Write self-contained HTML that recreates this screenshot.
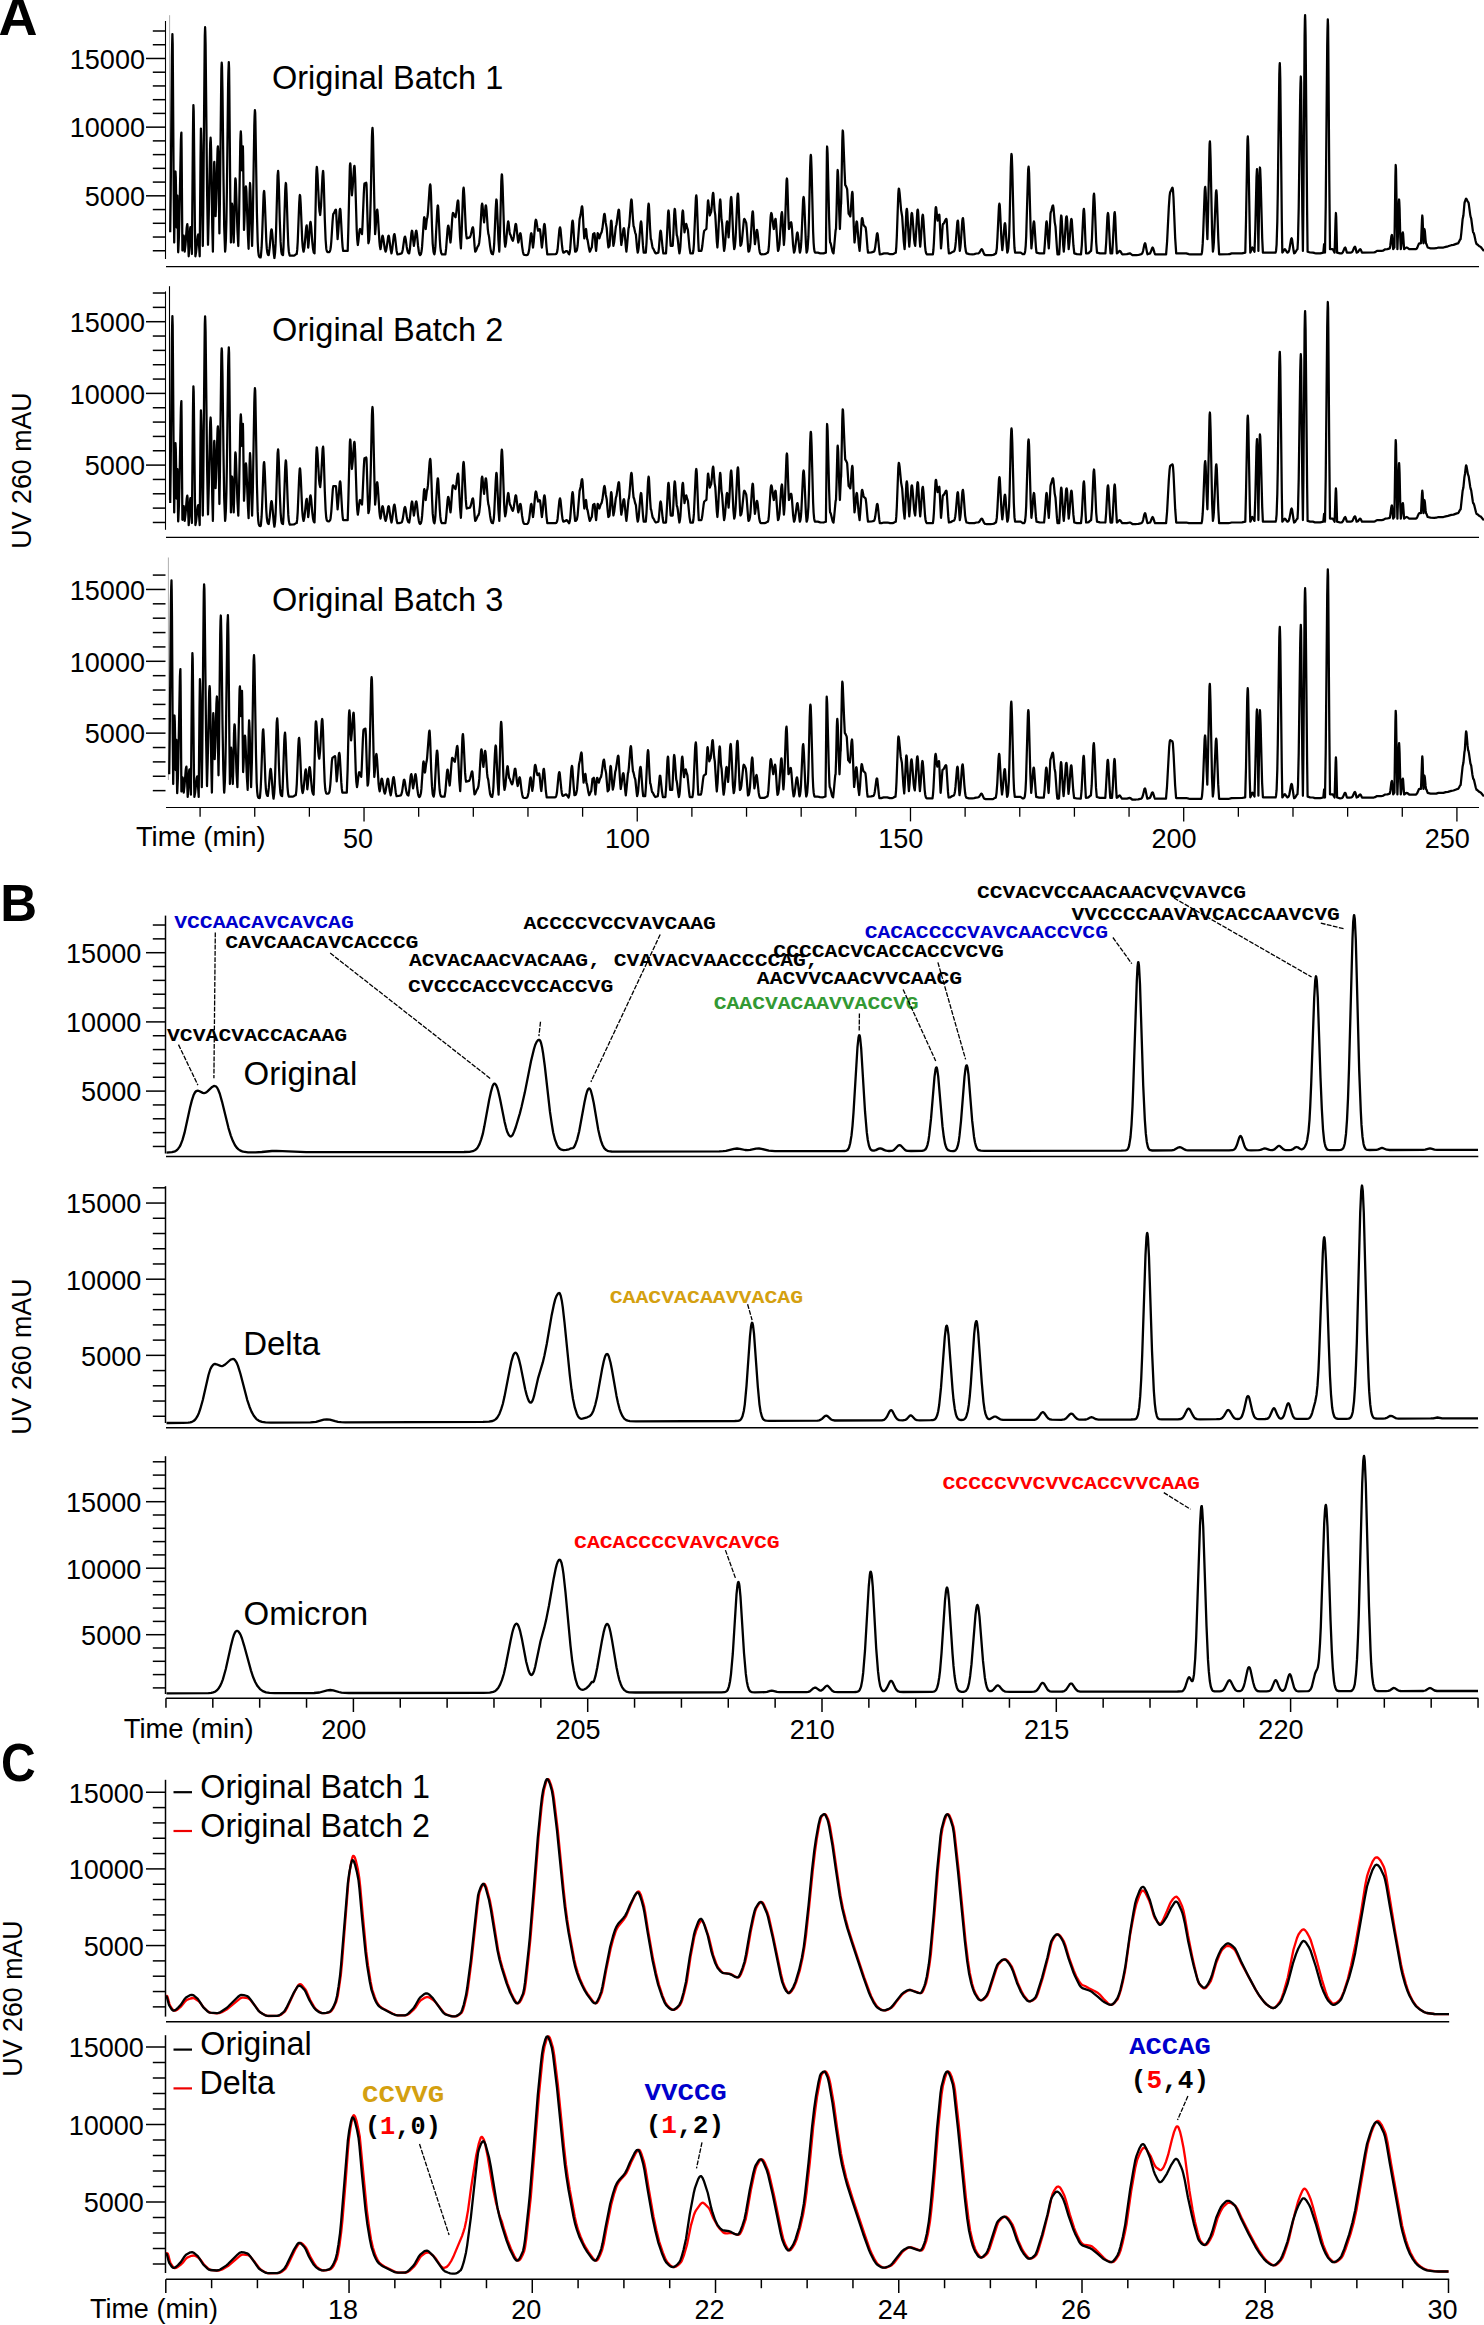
<!DOCTYPE html>
<html><head><meta charset="utf-8"><style>
html,body{margin:0;padding:0;background:#fff;}
svg{display:block;}
</style></head><body>
<svg width="1484" height="2325" viewBox="0 0 1484 2325">
<rect width="1484" height="2325" fill="#fff"/>
<text x="-1.5" y="34.8" font-size="54" text-anchor="start" font-weight="bold" fill="#000" font-family='"Liberation Sans", sans-serif' >A</text><line x1="165.50" y1="21.00" x2="165.50" y2="259.00" stroke="#000" stroke-width="1.1" /><line x1="152.80" y1="250.76" x2="165.50" y2="250.76" stroke="#000" stroke-width="1.5" /><line x1="152.80" y1="237.03" x2="165.50" y2="237.03" stroke="#000" stroke-width="1.5" /><line x1="152.80" y1="223.29" x2="165.50" y2="223.29" stroke="#000" stroke-width="1.5" /><line x1="152.80" y1="209.56" x2="165.50" y2="209.56" stroke="#000" stroke-width="1.5" /><line x1="146.00" y1="195.82" x2="165.50" y2="195.82" stroke="#000" stroke-width="1.5" /><line x1="152.80" y1="182.09" x2="165.50" y2="182.09" stroke="#000" stroke-width="1.5" /><line x1="152.80" y1="168.35" x2="165.50" y2="168.35" stroke="#000" stroke-width="1.5" /><line x1="152.80" y1="154.62" x2="165.50" y2="154.62" stroke="#000" stroke-width="1.5" /><line x1="152.80" y1="140.88" x2="165.50" y2="140.88" stroke="#000" stroke-width="1.5" /><line x1="146.00" y1="127.15" x2="165.50" y2="127.15" stroke="#000" stroke-width="1.5" /><line x1="152.80" y1="113.41" x2="165.50" y2="113.41" stroke="#000" stroke-width="1.5" /><line x1="152.80" y1="99.68" x2="165.50" y2="99.68" stroke="#000" stroke-width="1.5" /><line x1="152.80" y1="85.94" x2="165.50" y2="85.94" stroke="#000" stroke-width="1.5" /><line x1="152.80" y1="72.21" x2="165.50" y2="72.21" stroke="#000" stroke-width="1.5" /><line x1="146.00" y1="58.47" x2="165.50" y2="58.47" stroke="#000" stroke-width="1.5" /><line x1="152.80" y1="44.74" x2="165.50" y2="44.74" stroke="#000" stroke-width="1.5" /><line x1="152.80" y1="31.00" x2="165.50" y2="31.00" stroke="#000" stroke-width="1.5" /><text transform="translate(145.00,206.12) scale(0.95,1)" font-size="28.5" text-anchor="end" font-family='"Liberation Sans", sans-serif'>5000</text><text transform="translate(145.00,137.45) scale(0.95,1)" font-size="28.5" text-anchor="end" font-family='"Liberation Sans", sans-serif'>10000</text><text transform="translate(145.00,68.77) scale(0.95,1)" font-size="28.5" text-anchor="end" font-family='"Liberation Sans", sans-serif'>15000</text><line x1="166.00" y1="266.70" x2="1479.00" y2="266.70" stroke="#000" stroke-width="1.2000000000000002" /><line x1="165.50" y1="291.40" x2="165.50" y2="529.80" stroke="#000" stroke-width="1.1" /><line x1="152.80" y1="522.46" x2="165.50" y2="522.46" stroke="#000" stroke-width="1.5" /><line x1="152.80" y1="508.12" x2="165.50" y2="508.12" stroke="#000" stroke-width="1.5" /><line x1="152.80" y1="493.78" x2="165.50" y2="493.78" stroke="#000" stroke-width="1.5" /><line x1="152.80" y1="479.44" x2="165.50" y2="479.44" stroke="#000" stroke-width="1.5" /><line x1="146.00" y1="465.10" x2="165.50" y2="465.10" stroke="#000" stroke-width="1.5" /><line x1="152.80" y1="450.76" x2="165.50" y2="450.76" stroke="#000" stroke-width="1.5" /><line x1="152.80" y1="436.42" x2="165.50" y2="436.42" stroke="#000" stroke-width="1.5" /><line x1="152.80" y1="422.08" x2="165.50" y2="422.08" stroke="#000" stroke-width="1.5" /><line x1="152.80" y1="407.74" x2="165.50" y2="407.74" stroke="#000" stroke-width="1.5" /><line x1="146.00" y1="393.40" x2="165.50" y2="393.40" stroke="#000" stroke-width="1.5" /><line x1="152.80" y1="379.06" x2="165.50" y2="379.06" stroke="#000" stroke-width="1.5" /><line x1="152.80" y1="364.72" x2="165.50" y2="364.72" stroke="#000" stroke-width="1.5" /><line x1="152.80" y1="350.38" x2="165.50" y2="350.38" stroke="#000" stroke-width="1.5" /><line x1="152.80" y1="336.04" x2="165.50" y2="336.04" stroke="#000" stroke-width="1.5" /><line x1="146.00" y1="321.70" x2="165.50" y2="321.70" stroke="#000" stroke-width="1.5" /><line x1="152.80" y1="307.36" x2="165.50" y2="307.36" stroke="#000" stroke-width="1.5" /><line x1="152.80" y1="293.02" x2="165.50" y2="293.02" stroke="#000" stroke-width="1.5" /><text transform="translate(145.00,475.40) scale(0.95,1)" font-size="28.5" text-anchor="end" font-family='"Liberation Sans", sans-serif'>5000</text><text transform="translate(145.00,403.70) scale(0.95,1)" font-size="28.5" text-anchor="end" font-family='"Liberation Sans", sans-serif'>10000</text><text transform="translate(145.00,332.00) scale(0.95,1)" font-size="28.5" text-anchor="end" font-family='"Liberation Sans", sans-serif'>15000</text><line x1="166.00" y1="537.40" x2="1479.00" y2="537.40" stroke="#000" stroke-width="1.2000000000000002" /><line x1="152.80" y1="790.63" x2="165.50" y2="790.63" stroke="#000" stroke-width="1.5" /><line x1="152.80" y1="776.26" x2="165.50" y2="776.26" stroke="#000" stroke-width="1.5" /><line x1="152.80" y1="761.89" x2="165.50" y2="761.89" stroke="#000" stroke-width="1.5" /><line x1="152.80" y1="747.52" x2="165.50" y2="747.52" stroke="#000" stroke-width="1.5" /><line x1="146.00" y1="733.15" x2="165.50" y2="733.15" stroke="#000" stroke-width="1.5" /><line x1="152.80" y1="718.78" x2="165.50" y2="718.78" stroke="#000" stroke-width="1.5" /><line x1="152.80" y1="704.41" x2="165.50" y2="704.41" stroke="#000" stroke-width="1.5" /><line x1="152.80" y1="690.04" x2="165.50" y2="690.04" stroke="#000" stroke-width="1.5" /><line x1="152.80" y1="675.67" x2="165.50" y2="675.67" stroke="#000" stroke-width="1.5" /><line x1="146.00" y1="661.30" x2="165.50" y2="661.30" stroke="#000" stroke-width="1.5" /><line x1="152.80" y1="646.93" x2="165.50" y2="646.93" stroke="#000" stroke-width="1.5" /><line x1="152.80" y1="632.56" x2="165.50" y2="632.56" stroke="#000" stroke-width="1.5" /><line x1="152.80" y1="618.19" x2="165.50" y2="618.19" stroke="#000" stroke-width="1.5" /><line x1="152.80" y1="603.82" x2="165.50" y2="603.82" stroke="#000" stroke-width="1.5" /><line x1="146.00" y1="589.45" x2="165.50" y2="589.45" stroke="#000" stroke-width="1.5" /><line x1="152.80" y1="575.08" x2="165.50" y2="575.08" stroke="#000" stroke-width="1.5" /><text transform="translate(145.00,743.45) scale(0.95,1)" font-size="28.5" text-anchor="end" font-family='"Liberation Sans", sans-serif'>5000</text><text transform="translate(145.00,671.60) scale(0.95,1)" font-size="28.5" text-anchor="end" font-family='"Liberation Sans", sans-serif'>10000</text><text transform="translate(145.00,599.75) scale(0.95,1)" font-size="28.5" text-anchor="end" font-family='"Liberation Sans", sans-serif'>15000</text><line x1="166.00" y1="807.50" x2="1479.00" y2="807.50" stroke="#000" stroke-width="1.2000000000000002" /><text x="272.0" y="89.3" font-size="32.5" text-anchor="start" font-weight="normal" fill="#000" font-family='"Liberation Sans", sans-serif' >Original Batch 1</text><text x="272.0" y="341.3" font-size="32.5" text-anchor="start" font-weight="normal" fill="#000" font-family='"Liberation Sans", sans-serif' >Original Batch 2</text><text x="272.0" y="611.2" font-size="32.5" text-anchor="start" font-weight="normal" fill="#000" font-family='"Liberation Sans", sans-serif' >Original Batch 3</text><text x="0" y="0" font-size="26.8" text-anchor="middle" font-family='"Liberation Sans", sans-serif' transform="translate(31.0,470.5) rotate(-90)">UV 260 mAU</text><line x1="200.09" y1="807.50" x2="200.09" y2="816.70" stroke="#000" stroke-width="1.3" /><line x1="254.74" y1="807.50" x2="254.74" y2="816.70" stroke="#000" stroke-width="1.3" /><line x1="309.38" y1="807.50" x2="309.38" y2="816.70" stroke="#000" stroke-width="1.3" /><line x1="364.03" y1="807.50" x2="364.03" y2="821.40" stroke="#000" stroke-width="1.3" /><line x1="418.67" y1="807.50" x2="418.67" y2="816.70" stroke="#000" stroke-width="1.3" /><line x1="473.31" y1="807.50" x2="473.31" y2="816.70" stroke="#000" stroke-width="1.3" /><line x1="527.96" y1="807.50" x2="527.96" y2="816.70" stroke="#000" stroke-width="1.3" /><line x1="582.61" y1="807.50" x2="582.61" y2="816.70" stroke="#000" stroke-width="1.3" /><line x1="637.25" y1="807.50" x2="637.25" y2="821.40" stroke="#000" stroke-width="1.3" /><line x1="691.89" y1="807.50" x2="691.89" y2="816.70" stroke="#000" stroke-width="1.3" /><line x1="746.54" y1="807.50" x2="746.54" y2="816.70" stroke="#000" stroke-width="1.3" /><line x1="801.18" y1="807.50" x2="801.18" y2="816.70" stroke="#000" stroke-width="1.3" /><line x1="855.83" y1="807.50" x2="855.83" y2="816.70" stroke="#000" stroke-width="1.3" /><line x1="910.48" y1="807.50" x2="910.48" y2="821.40" stroke="#000" stroke-width="1.3" /><line x1="965.12" y1="807.50" x2="965.12" y2="816.70" stroke="#000" stroke-width="1.3" /><line x1="1019.76" y1="807.50" x2="1019.76" y2="816.70" stroke="#000" stroke-width="1.3" /><line x1="1074.41" y1="807.50" x2="1074.41" y2="816.70" stroke="#000" stroke-width="1.3" /><line x1="1129.06" y1="807.50" x2="1129.06" y2="816.70" stroke="#000" stroke-width="1.3" /><line x1="1183.70" y1="807.50" x2="1183.70" y2="821.40" stroke="#000" stroke-width="1.3" /><line x1="1238.35" y1="807.50" x2="1238.35" y2="816.70" stroke="#000" stroke-width="1.3" /><line x1="1292.99" y1="807.50" x2="1292.99" y2="816.70" stroke="#000" stroke-width="1.3" /><line x1="1347.63" y1="807.50" x2="1347.63" y2="816.70" stroke="#000" stroke-width="1.3" /><line x1="1402.28" y1="807.50" x2="1402.28" y2="816.70" stroke="#000" stroke-width="1.3" /><line x1="1456.92" y1="807.50" x2="1456.92" y2="821.40" stroke="#000" stroke-width="1.3" /><text transform="translate(358.03,848.30) scale(0.95,1)" font-size="28.5" text-anchor="middle" font-family='"Liberation Sans", sans-serif'>50</text><text transform="translate(627.55,848.30) scale(0.95,1)" font-size="28.5" text-anchor="middle" font-family='"Liberation Sans", sans-serif'>100</text><text transform="translate(900.77,848.30) scale(0.95,1)" font-size="28.5" text-anchor="middle" font-family='"Liberation Sans", sans-serif'>150</text><text transform="translate(1174.00,848.30) scale(0.95,1)" font-size="28.5" text-anchor="middle" font-family='"Liberation Sans", sans-serif'>200</text><text transform="translate(1447.22,848.30) scale(0.95,1)" font-size="28.5" text-anchor="middle" font-family='"Liberation Sans", sans-serif'>250</text><text x="135.9" y="846.0" font-size="27.4" text-anchor="start" font-weight="normal" fill="#000" font-family='"Liberation Sans", sans-serif' >Time (min)</text><text x="0.3" y="920.9" font-size="51" text-anchor="start" font-weight="bold" fill="#000" font-family='"Liberation Sans", sans-serif' >B</text><line x1="165.50" y1="915.60" x2="165.50" y2="1153.50" stroke="#000" stroke-width="1.5" /><line x1="152.80" y1="1146.46" x2="165.50" y2="1146.46" stroke="#000" stroke-width="1.5" /><line x1="152.80" y1="1132.62" x2="165.50" y2="1132.62" stroke="#000" stroke-width="1.5" /><line x1="152.80" y1="1118.78" x2="165.50" y2="1118.78" stroke="#000" stroke-width="1.5" /><line x1="152.80" y1="1104.94" x2="165.50" y2="1104.94" stroke="#000" stroke-width="1.5" /><line x1="146.00" y1="1091.10" x2="165.50" y2="1091.10" stroke="#000" stroke-width="1.5" /><line x1="152.80" y1="1077.26" x2="165.50" y2="1077.26" stroke="#000" stroke-width="1.5" /><line x1="152.80" y1="1063.42" x2="165.50" y2="1063.42" stroke="#000" stroke-width="1.5" /><line x1="152.80" y1="1049.58" x2="165.50" y2="1049.58" stroke="#000" stroke-width="1.5" /><line x1="152.80" y1="1035.74" x2="165.50" y2="1035.74" stroke="#000" stroke-width="1.5" /><line x1="146.00" y1="1021.90" x2="165.50" y2="1021.90" stroke="#000" stroke-width="1.5" /><line x1="152.80" y1="1008.06" x2="165.50" y2="1008.06" stroke="#000" stroke-width="1.5" /><line x1="152.80" y1="994.22" x2="165.50" y2="994.22" stroke="#000" stroke-width="1.5" /><line x1="152.80" y1="980.38" x2="165.50" y2="980.38" stroke="#000" stroke-width="1.5" /><line x1="152.80" y1="966.54" x2="165.50" y2="966.54" stroke="#000" stroke-width="1.5" /><line x1="146.00" y1="952.70" x2="165.50" y2="952.70" stroke="#000" stroke-width="1.5" /><line x1="152.80" y1="938.86" x2="165.50" y2="938.86" stroke="#000" stroke-width="1.5" /><line x1="152.80" y1="925.02" x2="165.50" y2="925.02" stroke="#000" stroke-width="1.5" /><text transform="translate(141.30,1101.40) scale(0.95,1)" font-size="28.5" text-anchor="end" font-family='"Liberation Sans", sans-serif'>5000</text><text transform="translate(141.30,1032.20) scale(0.95,1)" font-size="28.5" text-anchor="end" font-family='"Liberation Sans", sans-serif'>10000</text><text transform="translate(141.30,963.00) scale(0.95,1)" font-size="28.5" text-anchor="end" font-family='"Liberation Sans", sans-serif'>15000</text><line x1="166.00" y1="1156.50" x2="1478.30" y2="1156.50" stroke="#000" stroke-width="1.6" /><line x1="165.50" y1="1186.20" x2="165.50" y2="1423.00" stroke="#000" stroke-width="1.5" /><line x1="152.80" y1="1416.27" x2="165.50" y2="1416.27" stroke="#000" stroke-width="1.5" /><line x1="152.80" y1="1401.04" x2="165.50" y2="1401.04" stroke="#000" stroke-width="1.5" /><line x1="152.80" y1="1385.81" x2="165.50" y2="1385.81" stroke="#000" stroke-width="1.5" /><line x1="152.80" y1="1370.58" x2="165.50" y2="1370.58" stroke="#000" stroke-width="1.5" /><line x1="146.00" y1="1355.35" x2="165.50" y2="1355.35" stroke="#000" stroke-width="1.5" /><line x1="152.80" y1="1340.12" x2="165.50" y2="1340.12" stroke="#000" stroke-width="1.5" /><line x1="152.80" y1="1324.89" x2="165.50" y2="1324.89" stroke="#000" stroke-width="1.5" /><line x1="152.80" y1="1309.66" x2="165.50" y2="1309.66" stroke="#000" stroke-width="1.5" /><line x1="152.80" y1="1294.43" x2="165.50" y2="1294.43" stroke="#000" stroke-width="1.5" /><line x1="146.00" y1="1279.20" x2="165.50" y2="1279.20" stroke="#000" stroke-width="1.5" /><line x1="152.80" y1="1263.97" x2="165.50" y2="1263.97" stroke="#000" stroke-width="1.5" /><line x1="152.80" y1="1248.74" x2="165.50" y2="1248.74" stroke="#000" stroke-width="1.5" /><line x1="152.80" y1="1233.51" x2="165.50" y2="1233.51" stroke="#000" stroke-width="1.5" /><line x1="152.80" y1="1218.28" x2="165.50" y2="1218.28" stroke="#000" stroke-width="1.5" /><line x1="146.00" y1="1203.05" x2="165.50" y2="1203.05" stroke="#000" stroke-width="1.5" /><line x1="152.80" y1="1187.82" x2="165.50" y2="1187.82" stroke="#000" stroke-width="1.5" /><text transform="translate(141.30,1365.65) scale(0.95,1)" font-size="28.5" text-anchor="end" font-family='"Liberation Sans", sans-serif'>5000</text><text transform="translate(141.30,1289.50) scale(0.95,1)" font-size="28.5" text-anchor="end" font-family='"Liberation Sans", sans-serif'>10000</text><text transform="translate(141.30,1213.35) scale(0.95,1)" font-size="28.5" text-anchor="end" font-family='"Liberation Sans", sans-serif'>15000</text><line x1="166.00" y1="1427.80" x2="1478.30" y2="1427.80" stroke="#000" stroke-width="1.6" /><line x1="165.50" y1="1456.20" x2="165.50" y2="1694.00" stroke="#000" stroke-width="1.5" /><line x1="152.80" y1="1687.90" x2="165.50" y2="1687.90" stroke="#000" stroke-width="1.5" /><line x1="152.80" y1="1674.60" x2="165.50" y2="1674.60" stroke="#000" stroke-width="1.5" /><line x1="152.80" y1="1661.30" x2="165.50" y2="1661.30" stroke="#000" stroke-width="1.5" /><line x1="152.80" y1="1648.00" x2="165.50" y2="1648.00" stroke="#000" stroke-width="1.5" /><line x1="146.00" y1="1634.70" x2="165.50" y2="1634.70" stroke="#000" stroke-width="1.5" /><line x1="152.80" y1="1621.40" x2="165.50" y2="1621.40" stroke="#000" stroke-width="1.5" /><line x1="152.80" y1="1608.10" x2="165.50" y2="1608.10" stroke="#000" stroke-width="1.5" /><line x1="152.80" y1="1594.80" x2="165.50" y2="1594.80" stroke="#000" stroke-width="1.5" /><line x1="152.80" y1="1581.50" x2="165.50" y2="1581.50" stroke="#000" stroke-width="1.5" /><line x1="146.00" y1="1568.20" x2="165.50" y2="1568.20" stroke="#000" stroke-width="1.5" /><line x1="152.80" y1="1554.90" x2="165.50" y2="1554.90" stroke="#000" stroke-width="1.5" /><line x1="152.80" y1="1541.60" x2="165.50" y2="1541.60" stroke="#000" stroke-width="1.5" /><line x1="152.80" y1="1528.30" x2="165.50" y2="1528.30" stroke="#000" stroke-width="1.5" /><line x1="152.80" y1="1515.00" x2="165.50" y2="1515.00" stroke="#000" stroke-width="1.5" /><line x1="146.00" y1="1501.70" x2="165.50" y2="1501.70" stroke="#000" stroke-width="1.5" /><line x1="152.80" y1="1488.40" x2="165.50" y2="1488.40" stroke="#000" stroke-width="1.5" /><line x1="152.80" y1="1475.10" x2="165.50" y2="1475.10" stroke="#000" stroke-width="1.5" /><line x1="152.80" y1="1461.80" x2="165.50" y2="1461.80" stroke="#000" stroke-width="1.5" /><text transform="translate(141.30,1645.00) scale(0.95,1)" font-size="28.5" text-anchor="end" font-family='"Liberation Sans", sans-serif'>5000</text><text transform="translate(141.30,1578.50) scale(0.95,1)" font-size="28.5" text-anchor="end" font-family='"Liberation Sans", sans-serif'>10000</text><text transform="translate(141.30,1512.00) scale(0.95,1)" font-size="28.5" text-anchor="end" font-family='"Liberation Sans", sans-serif'>15000</text><line x1="166.00" y1="1698.30" x2="1478.30" y2="1698.30" stroke="#000" stroke-width="1.6" /><text x="243.5" y="1085.1" font-size="33" text-anchor="start" font-weight="normal" fill="#000" font-family='"Liberation Sans", sans-serif' >Original</text><text x="243.2" y="1354.6" font-size="33" text-anchor="start" font-weight="normal" fill="#000" font-family='"Liberation Sans", sans-serif' >Delta</text><text x="243.5" y="1625.3" font-size="33" text-anchor="start" font-weight="normal" fill="#000" font-family='"Liberation Sans", sans-serif' >Omicron</text><text x="0" y="0" font-size="26.8" text-anchor="middle" font-family='"Liberation Sans", sans-serif' transform="translate(31.0,1356.6) rotate(-90)">UV 260 mAU</text><line x1="165.96" y1="1698.30" x2="165.96" y2="1707.70" stroke="#000" stroke-width="1.5" /><line x1="212.82" y1="1698.30" x2="212.82" y2="1707.70" stroke="#000" stroke-width="1.5" /><line x1="259.68" y1="1698.30" x2="259.68" y2="1707.70" stroke="#000" stroke-width="1.5" /><line x1="306.54" y1="1698.30" x2="306.54" y2="1707.70" stroke="#000" stroke-width="1.5" /><line x1="353.40" y1="1698.30" x2="353.40" y2="1712.00" stroke="#000" stroke-width="1.5" /><line x1="400.26" y1="1698.30" x2="400.26" y2="1707.70" stroke="#000" stroke-width="1.5" /><line x1="447.12" y1="1698.30" x2="447.12" y2="1707.70" stroke="#000" stroke-width="1.5" /><line x1="493.98" y1="1698.30" x2="493.98" y2="1707.70" stroke="#000" stroke-width="1.5" /><line x1="540.84" y1="1698.30" x2="540.84" y2="1707.70" stroke="#000" stroke-width="1.5" /><line x1="587.70" y1="1698.30" x2="587.70" y2="1712.00" stroke="#000" stroke-width="1.5" /><line x1="634.56" y1="1698.30" x2="634.56" y2="1707.70" stroke="#000" stroke-width="1.5" /><line x1="681.42" y1="1698.30" x2="681.42" y2="1707.70" stroke="#000" stroke-width="1.5" /><line x1="728.28" y1="1698.30" x2="728.28" y2="1707.70" stroke="#000" stroke-width="1.5" /><line x1="775.14" y1="1698.30" x2="775.14" y2="1707.70" stroke="#000" stroke-width="1.5" /><line x1="822.00" y1="1698.30" x2="822.00" y2="1712.00" stroke="#000" stroke-width="1.5" /><line x1="868.86" y1="1698.30" x2="868.86" y2="1707.70" stroke="#000" stroke-width="1.5" /><line x1="915.72" y1="1698.30" x2="915.72" y2="1707.70" stroke="#000" stroke-width="1.5" /><line x1="962.58" y1="1698.30" x2="962.58" y2="1707.70" stroke="#000" stroke-width="1.5" /><line x1="1009.44" y1="1698.30" x2="1009.44" y2="1707.70" stroke="#000" stroke-width="1.5" /><line x1="1056.30" y1="1698.30" x2="1056.30" y2="1712.00" stroke="#000" stroke-width="1.5" /><line x1="1103.16" y1="1698.30" x2="1103.16" y2="1707.70" stroke="#000" stroke-width="1.5" /><line x1="1150.02" y1="1698.30" x2="1150.02" y2="1707.70" stroke="#000" stroke-width="1.5" /><line x1="1196.88" y1="1698.30" x2="1196.88" y2="1707.70" stroke="#000" stroke-width="1.5" /><line x1="1243.74" y1="1698.30" x2="1243.74" y2="1707.70" stroke="#000" stroke-width="1.5" /><line x1="1290.60" y1="1698.30" x2="1290.60" y2="1712.00" stroke="#000" stroke-width="1.5" /><line x1="1337.46" y1="1698.30" x2="1337.46" y2="1707.70" stroke="#000" stroke-width="1.5" /><line x1="1384.32" y1="1698.30" x2="1384.32" y2="1707.70" stroke="#000" stroke-width="1.5" /><line x1="1431.18" y1="1698.30" x2="1431.18" y2="1707.70" stroke="#000" stroke-width="1.5" /><line x1="1478.04" y1="1698.30" x2="1478.04" y2="1707.70" stroke="#000" stroke-width="1.5" /><text transform="translate(343.70,1738.50) scale(0.95,1)" font-size="28.5" text-anchor="middle" font-family='"Liberation Sans", sans-serif'>200</text><text transform="translate(578.00,1738.50) scale(0.95,1)" font-size="28.5" text-anchor="middle" font-family='"Liberation Sans", sans-serif'>205</text><text transform="translate(812.30,1738.50) scale(0.95,1)" font-size="28.5" text-anchor="middle" font-family='"Liberation Sans", sans-serif'>210</text><text transform="translate(1046.60,1738.50) scale(0.95,1)" font-size="28.5" text-anchor="middle" font-family='"Liberation Sans", sans-serif'>215</text><text transform="translate(1280.90,1738.50) scale(0.95,1)" font-size="28.5" text-anchor="middle" font-family='"Liberation Sans", sans-serif'>220</text><text x="123.7" y="1738.2" font-size="27.4" text-anchor="start" font-weight="normal" fill="#000" font-family='"Liberation Sans", sans-serif' >Time (min)</text><text transform="translate(1.1,1781.3) scale(0.89,1)" font-size="54" font-weight="bold" font-family='"Liberation Sans", sans-serif'>C</text><line x1="165.50" y1="1779.80" x2="165.50" y2="2016.60" stroke="#000" stroke-width="1.5" /><line x1="152.80" y1="2006.87" x2="165.50" y2="2006.87" stroke="#000" stroke-width="1.5" /><line x1="152.80" y1="1991.54" x2="165.50" y2="1991.54" stroke="#000" stroke-width="1.5" /><line x1="152.80" y1="1976.21" x2="165.50" y2="1976.21" stroke="#000" stroke-width="1.5" /><line x1="152.80" y1="1960.88" x2="165.50" y2="1960.88" stroke="#000" stroke-width="1.5" /><line x1="146.00" y1="1945.55" x2="165.50" y2="1945.55" stroke="#000" stroke-width="1.5" /><line x1="152.80" y1="1930.22" x2="165.50" y2="1930.22" stroke="#000" stroke-width="1.5" /><line x1="152.80" y1="1914.89" x2="165.50" y2="1914.89" stroke="#000" stroke-width="1.5" /><line x1="152.80" y1="1899.56" x2="165.50" y2="1899.56" stroke="#000" stroke-width="1.5" /><line x1="152.80" y1="1884.23" x2="165.50" y2="1884.23" stroke="#000" stroke-width="1.5" /><line x1="146.00" y1="1868.90" x2="165.50" y2="1868.90" stroke="#000" stroke-width="1.5" /><line x1="152.80" y1="1853.57" x2="165.50" y2="1853.57" stroke="#000" stroke-width="1.5" /><line x1="152.80" y1="1838.24" x2="165.50" y2="1838.24" stroke="#000" stroke-width="1.5" /><line x1="152.80" y1="1822.91" x2="165.50" y2="1822.91" stroke="#000" stroke-width="1.5" /><line x1="152.80" y1="1807.58" x2="165.50" y2="1807.58" stroke="#000" stroke-width="1.5" /><line x1="146.00" y1="1792.25" x2="165.50" y2="1792.25" stroke="#000" stroke-width="1.5" /><text transform="translate(143.90,1955.85) scale(0.95,1)" font-size="28.5" text-anchor="end" font-family='"Liberation Sans", sans-serif'>5000</text><text transform="translate(143.90,1879.20) scale(0.95,1)" font-size="28.5" text-anchor="end" font-family='"Liberation Sans", sans-serif'>10000</text><text transform="translate(143.90,1802.55) scale(0.95,1)" font-size="28.5" text-anchor="end" font-family='"Liberation Sans", sans-serif'>15000</text><line x1="166.00" y1="2021.70" x2="1449.20" y2="2021.70" stroke="#000" stroke-width="1.6" /><line x1="165.50" y1="2035.20" x2="165.50" y2="2273.00" stroke="#000" stroke-width="1.5" /><line x1="152.80" y1="2264.00" x2="165.50" y2="2264.00" stroke="#000" stroke-width="1.5" /><line x1="152.80" y1="2248.50" x2="165.50" y2="2248.50" stroke="#000" stroke-width="1.5" /><line x1="152.80" y1="2233.00" x2="165.50" y2="2233.00" stroke="#000" stroke-width="1.5" /><line x1="152.80" y1="2217.50" x2="165.50" y2="2217.50" stroke="#000" stroke-width="1.5" /><line x1="146.00" y1="2202.00" x2="165.50" y2="2202.00" stroke="#000" stroke-width="1.5" /><line x1="152.80" y1="2186.50" x2="165.50" y2="2186.50" stroke="#000" stroke-width="1.5" /><line x1="152.80" y1="2171.00" x2="165.50" y2="2171.00" stroke="#000" stroke-width="1.5" /><line x1="152.80" y1="2155.50" x2="165.50" y2="2155.50" stroke="#000" stroke-width="1.5" /><line x1="152.80" y1="2140.00" x2="165.50" y2="2140.00" stroke="#000" stroke-width="1.5" /><line x1="146.00" y1="2124.50" x2="165.50" y2="2124.50" stroke="#000" stroke-width="1.5" /><line x1="152.80" y1="2109.00" x2="165.50" y2="2109.00" stroke="#000" stroke-width="1.5" /><line x1="152.80" y1="2093.50" x2="165.50" y2="2093.50" stroke="#000" stroke-width="1.5" /><line x1="152.80" y1="2078.00" x2="165.50" y2="2078.00" stroke="#000" stroke-width="1.5" /><line x1="152.80" y1="2062.50" x2="165.50" y2="2062.50" stroke="#000" stroke-width="1.5" /><line x1="146.00" y1="2047.00" x2="165.50" y2="2047.00" stroke="#000" stroke-width="1.5" /><text transform="translate(143.90,2212.30) scale(0.95,1)" font-size="28.5" text-anchor="end" font-family='"Liberation Sans", sans-serif'>5000</text><text transform="translate(143.90,2134.80) scale(0.95,1)" font-size="28.5" text-anchor="end" font-family='"Liberation Sans", sans-serif'>10000</text><text transform="translate(143.90,2057.30) scale(0.95,1)" font-size="28.5" text-anchor="end" font-family='"Liberation Sans", sans-serif'>15000</text><line x1="166.00" y1="2279.20" x2="1449.20" y2="2279.20" stroke="#000" stroke-width="1.6" /><text x="0" y="0" font-size="26.8" text-anchor="middle" font-family='"Liberation Sans", sans-serif' transform="translate(22.0,1998.5) rotate(-90)">UV 260 mAU</text><line x1="165.80" y1="2279.20" x2="165.80" y2="2293.00" stroke="#000" stroke-width="1.5" /><line x1="211.61" y1="2279.20" x2="211.61" y2="2288.20" stroke="#000" stroke-width="1.5" /><line x1="257.42" y1="2279.20" x2="257.42" y2="2288.20" stroke="#000" stroke-width="1.5" /><line x1="303.23" y1="2279.20" x2="303.23" y2="2288.20" stroke="#000" stroke-width="1.5" /><line x1="349.04" y1="2279.20" x2="349.04" y2="2293.00" stroke="#000" stroke-width="1.5" /><line x1="394.85" y1="2279.20" x2="394.85" y2="2288.20" stroke="#000" stroke-width="1.5" /><line x1="440.66" y1="2279.20" x2="440.66" y2="2288.20" stroke="#000" stroke-width="1.5" /><line x1="486.47" y1="2279.20" x2="486.47" y2="2288.20" stroke="#000" stroke-width="1.5" /><line x1="532.28" y1="2279.20" x2="532.28" y2="2293.00" stroke="#000" stroke-width="1.5" /><line x1="578.09" y1="2279.20" x2="578.09" y2="2288.20" stroke="#000" stroke-width="1.5" /><line x1="623.90" y1="2279.20" x2="623.90" y2="2288.20" stroke="#000" stroke-width="1.5" /><line x1="669.71" y1="2279.20" x2="669.71" y2="2288.20" stroke="#000" stroke-width="1.5" /><line x1="715.52" y1="2279.20" x2="715.52" y2="2293.00" stroke="#000" stroke-width="1.5" /><line x1="761.33" y1="2279.20" x2="761.33" y2="2288.20" stroke="#000" stroke-width="1.5" /><line x1="807.14" y1="2279.20" x2="807.14" y2="2288.20" stroke="#000" stroke-width="1.5" /><line x1="852.95" y1="2279.20" x2="852.95" y2="2288.20" stroke="#000" stroke-width="1.5" /><line x1="898.76" y1="2279.20" x2="898.76" y2="2293.00" stroke="#000" stroke-width="1.5" /><line x1="944.57" y1="2279.20" x2="944.57" y2="2288.20" stroke="#000" stroke-width="1.5" /><line x1="990.38" y1="2279.20" x2="990.38" y2="2288.20" stroke="#000" stroke-width="1.5" /><line x1="1036.19" y1="2279.20" x2="1036.19" y2="2288.20" stroke="#000" stroke-width="1.5" /><line x1="1082.00" y1="2279.20" x2="1082.00" y2="2293.00" stroke="#000" stroke-width="1.5" /><line x1="1127.81" y1="2279.20" x2="1127.81" y2="2288.20" stroke="#000" stroke-width="1.5" /><line x1="1173.62" y1="2279.20" x2="1173.62" y2="2288.20" stroke="#000" stroke-width="1.5" /><line x1="1219.43" y1="2279.20" x2="1219.43" y2="2288.20" stroke="#000" stroke-width="1.5" /><line x1="1265.24" y1="2279.20" x2="1265.24" y2="2293.00" stroke="#000" stroke-width="1.5" /><line x1="1311.05" y1="2279.20" x2="1311.05" y2="2288.20" stroke="#000" stroke-width="1.5" /><line x1="1356.86" y1="2279.20" x2="1356.86" y2="2288.20" stroke="#000" stroke-width="1.5" /><line x1="1402.67" y1="2279.20" x2="1402.67" y2="2288.20" stroke="#000" stroke-width="1.5" /><line x1="1448.48" y1="2279.20" x2="1448.48" y2="2293.00" stroke="#000" stroke-width="1.5" /><text transform="translate(343.04,2319.30) scale(0.95,1)" font-size="28.5" text-anchor="middle" font-family='"Liberation Sans", sans-serif'>18</text><text transform="translate(526.28,2319.30) scale(0.95,1)" font-size="28.5" text-anchor="middle" font-family='"Liberation Sans", sans-serif'>20</text><text transform="translate(709.52,2319.30) scale(0.95,1)" font-size="28.5" text-anchor="middle" font-family='"Liberation Sans", sans-serif'>22</text><text transform="translate(892.76,2319.30) scale(0.95,1)" font-size="28.5" text-anchor="middle" font-family='"Liberation Sans", sans-serif'>24</text><text transform="translate(1076.00,2319.30) scale(0.95,1)" font-size="28.5" text-anchor="middle" font-family='"Liberation Sans", sans-serif'>26</text><text transform="translate(1259.24,2319.30) scale(0.95,1)" font-size="28.5" text-anchor="middle" font-family='"Liberation Sans", sans-serif'>28</text><text transform="translate(1442.48,2319.30) scale(0.95,1)" font-size="28.5" text-anchor="middle" font-family='"Liberation Sans", sans-serif'>30</text><text x="89.9" y="2318.2" font-size="27.0" text-anchor="start" font-weight="normal" fill="#000" font-family='"Liberation Sans", sans-serif' >Time (min)</text><line x1="173.50" y1="1792.20" x2="192.00" y2="1792.20" stroke="#000" stroke-width="2.2" /><line x1="173.50" y1="1831.00" x2="192.00" y2="1831.00" stroke="#e00" stroke-width="2.2" /><text x="200.3" y="1798.0" font-size="32.3" text-anchor="start" font-weight="normal" fill="#000" font-family='"Liberation Sans", sans-serif' >Original Batch 1</text><text x="200.3" y="1837.0" font-size="32.3" text-anchor="start" font-weight="normal" fill="#000" font-family='"Liberation Sans", sans-serif' >Original Batch 2</text><line x1="173.50" y1="2049.60" x2="192.00" y2="2049.60" stroke="#000" stroke-width="2.2" /><line x1="173.50" y1="2088.40" x2="192.00" y2="2088.40" stroke="#e00" stroke-width="2.2" /><text x="200.3" y="2054.7" font-size="32.3" text-anchor="start" font-weight="normal" fill="#000" font-family='"Liberation Sans", sans-serif' >Original</text><text x="199.5" y="2093.5" font-size="32.3" text-anchor="start" font-weight="normal" fill="#000" font-family='"Liberation Sans", sans-serif' >Delta</text>
<line x1="169.6" y1="15.2" x2="169.6" y2="232" stroke="#999" stroke-width="0.8"/>
<path d="M170.2,232.2 170.7,195.7 171.9,58.2 172.2,41.3 172.4,34.1 172.7,44.1 172.9,71.6 173.7,191.5 174.2,242.5 175.2,182.8 175.5,171.5 175.8,177.4 176.7,227.6 177.4,195.6 178.1,249.7 178.2,252.3 178.4,248.8 178.9,237.2 179.4,217.8 180.7,149.9 180.9,140.1 181.2,134.2 181.4,132.6 181.6,147.7 182.4,250.5 183.4,237.1 183.7,235.7 183.9,237.7 184.7,251.7 185.5,244.7 186.7,227.7 187.0,225.6 187.3,224.2 187.6,226.6 188.7,256.3 189.2,248.5 190.0,231.7 190.2,228.1 190.4,227.1 190.7,228.8 191.9,254.0 192.9,138.5 193.2,113.7 193.4,105.1 193.7,110.7 193.9,126.7 194.9,226.6 195.4,256.3 196.1,252.0 197.6,237.0 197.9,235.4 198.2,234.5 198.5,235.9 199.7,256.3 200.5,159.9 200.9,128.6 201.1,133.0 201.4,145.3 202.4,222.9 202.8,246.0 203.3,205.7 204.6,53.9 204.8,35.2 205.1,27.2 205.3,31.6 205.6,44.2 207.1,192.8 208.0,244.8 208.7,217.6 210.0,151.5 210.2,143.0 210.6,137.7 210.8,140.8 211.1,149.7 212.3,228.5 212.9,251.7 214.1,163.5 214.3,161.8 214.5,165.8 215.6,216.2 216.1,203.3 217.4,154.8 217.6,148.9 217.9,146.4 218.2,151.8 219.4,233.4 219.9,201.9 221.2,83.5 221.4,69.0 221.7,62.7 222.0,66.3 222.5,92.6 223.5,178.8 224.2,226.9 225.0,249.1 225.1,251.7 225.4,249.2 225.9,239.7 226.4,220.9 226.9,190.1 228.1,85.8 228.4,71.7 228.8,62.1 229.1,68.2 229.3,85.3 230.3,198.4 230.9,242.5 231.6,213.1 232.0,203.6 232.3,205.5 232.5,210.6 233.3,233.0 233.7,242.5 234.2,225.4 235.0,188.6 235.2,180.7 235.4,178.4 235.7,179.7 235.9,183.7 237.4,229.8 238.3,246.0 239.1,214.5 240.3,142.2 240.6,134.4 240.8,131.4 241.1,135.5 242.0,170.4 242.9,146.3 243.1,155.1 244.0,229.9 244.5,219.3 245.5,189.6 245.9,186.4 246.1,187.7 246.4,191.4 247.9,234.9 248.6,248.8 249.6,193.5 250.0,183.0 250.2,185.1 250.5,191.1 251.5,230.5 252.1,246.0 252.8,219.4 254.3,125.9 254.6,115.9 254.9,110.2 255.2,112.9 255.4,120.7 256.9,212.4 257.7,241.7 258.2,251.0 258.7,255.1 259.2,256.7 259.7,257.2 260.2,257.4 260.6,257.4 260.9,256.1 261.6,247.7 262.1,236.9 263.4,199.9 263.6,194.7 263.9,191.7 264.1,191.0 264.3,192.2 264.8,200.8 266.3,240.9 266.8,248.4 267.3,252.4 267.8,254.3 268.3,255.0 268.7,255.1 268.9,253.9 269.7,247.5 270.9,232.3 271.2,230.4 271.5,229.4 271.8,229.9 272.3,234.2 273.8,253.7 274.4,258.0 274.6,256.8 275.1,252.5 275.6,243.9 276.1,229.7 277.4,181.8 277.6,175.4 278.1,170.9 278.3,172.5 278.8,183.9 279.8,221.1 280.6,241.9 281.3,251.5 281.8,253.9 282.3,254.8 283.0,255.1 283.5,247.0 285.2,191.3 285.5,186.0 285.8,183.0 286.1,184.3 286.6,194.2 287.6,226.7 288.3,244.8 288.8,251.2 289.1,253.1 289.6,255.2 289.9,255.7 293.6,255.6 294.6,255.3 296.1,254.2 296.7,254.0 297.2,249.9 297.7,242.3 299.2,203.5 299.5,198.7 299.7,195.8 299.9,195.0 300.2,196.1 300.7,203.9 302.2,239.9 302.7,246.6 303.2,250.2 303.6,251.7 304.4,247.8 306.1,228.1 306.4,226.3 306.7,225.3 306.9,226.8 308.2,247.7 308.7,242.9 309.9,225.1 310.2,222.9 310.5,221.9 310.7,222.5 311.2,226.8 312.2,240.8 313.0,248.7 313.7,252.3 314.0,252.8 314.5,253.4 315.0,237.5 316.2,177.5 316.5,170.1 316.8,166.9 317.0,167.8 317.5,174.5 319.0,205.5 319.5,211.3 320.2,215.0 321.0,206.4 322.5,176.0 323.0,171.1 323.1,170.9 323.3,172.4 323.8,183.4 324.8,219.4 325.6,239.5 326.3,248.7 326.6,250.1 327.1,251.6 327.8,252.2 329.1,252.2 329.8,251.5 330.3,250.0 330.8,247.0 331.3,241.7 332.6,221.0 333.1,215.1 333.3,214.0 333.9,213.2 335.4,210.0 335.9,209.6 336.1,211.1 337.6,239.1 338.3,230.8 339.6,211.7 339.8,209.6 340.1,208.8 340.4,209.6 340.6,212.0 342.1,240.1 342.6,246.8 343.1,250.7 343.1,250.9 347.7,250.9 348.4,226.9 349.7,171.7 349.9,165.7 350.2,163.3 350.5,164.9 350.7,169.3 351.5,188.0 351.9,195.3 352.7,187.2 353.9,168.7 354.2,166.6 354.4,165.8 354.7,167.3 355.2,178.4 356.7,229.5 357.2,239.1 357.8,245.0 358.3,241.9 359.3,232.3 359.8,229.3 360.0,229.0 360.5,229.7 361.5,232.9 362.0,234.1 362.5,225.8 363.8,193.6 364.3,184.9 364.5,183.5 366.2,182.7 366.5,184.5 366.7,189.6 367.7,225.4 368.4,243.3 368.9,241.4 369.2,239.5 369.9,227.1 370.7,199.3 371.9,137.6 372.2,130.8 372.5,127.9 372.7,130.1 373.0,136.5 374.5,211.3 375.1,234.1 375.6,228.8 376.6,213.2 376.9,210.6 377.2,209.6 377.4,210.4 377.9,215.9 379.4,241.5 379.9,246.3 380.5,249.2 381.0,246.3 382.0,237.7 382.3,236.3 382.6,235.7 382.8,236.1 383.3,238.4 384.8,249.0 385.6,251.7 386.1,250.3 386.6,247.8 388.1,237.1 388.3,236.1 388.6,235.7 388.9,236.1 389.1,237.1 390.6,249.2 391.5,253.4 392.2,249.6 393.7,236.3 394.0,234.9 394.4,234.1 394.6,234.5 395.1,237.4 396.6,250.9 397.4,254.3 399.1,254.1 401.6,253.4 402.1,252.5 402.8,249.4 404.3,238.5 404.6,237.3 405.0,236.6 405.2,236.9 405.7,239.2 406.7,246.7 407.5,250.9 408.2,252.8 408.7,253.3 409.2,253.4 409.9,249.0 411.4,233.3 411.7,231.6 412.0,230.7 412.3,231.3 412.5,233.1 413.3,241.2 413.9,245.8 414.6,241.3 415.6,232.9 416.1,230.8 416.3,230.7 416.5,231.1 417.0,234.5 418.0,245.4 418.8,251.5 419.3,253.7 419.8,254.7 420.1,255.1 420.9,254.2 421.6,251.0 422.1,246.4 423.9,219.5 424.1,217.7 424.3,217.2 424.6,218.1 425.6,228.4 425.7,229.0 425.9,227.7 426.9,218.9 427.4,217.2 427.9,213.5 429.6,188.2 429.9,185.7 430.2,184.4 430.5,185.6 431.0,195.1 432.0,226.2 432.7,243.6 433.5,251.6 434.0,253.5 434.4,254.3 434.9,251.6 435.4,246.4 437.2,210.8 437.7,205.6 437.8,205.4 438.1,206.3 438.3,208.9 439.8,239.5 440.3,246.8 440.8,251.1 441.3,253.2 442.0,254.3 445.4,254.3 446.1,248.7 447.6,228.9 448.1,225.8 448.3,225.6 448.5,226.1 448.8,227.6 449.8,237.5 450.5,242.5 451.0,237.7 452.2,218.9 452.7,213.8 453.0,213.0 453.5,213.4 455.0,216.5 455.5,217.2 456.3,212.6 457.5,202.0 457.8,200.8 458.0,200.4 458.3,201.3 458.5,204.1 460.0,236.9 460.9,248.4 461.6,234.0 462.9,196.9 463.1,191.6 463.4,188.5 463.6,187.7 463.8,188.7 464.3,195.9 465.8,229.0 466.3,235.2 466.8,238.3 469.8,237.4 470.1,237.0 470.8,235.0 472.3,228.2 472.6,227.6 472.9,227.3 473.1,227.9 473.4,229.7 474.6,246.2 475.2,251.7 475.7,251.2 476.2,250.3 477.7,246.4 478.5,245.5 479.2,242.7 480.0,235.1 481.5,208.4 481.7,205.5 482.1,203.7 482.4,204.4 482.6,206.2 483.6,218.0 484.1,222.3 485.4,207.8 485.6,205.9 485.8,205.4 486.1,206.1 486.6,210.8 487.8,229.1 488.4,234.1 488.6,234.4 489.1,237.2 490.1,246.1 490.9,251.1 491.6,253.4 492.1,254.0 492.9,254.3 493.7,250.0 494.2,243.7 495.7,208.9 496.2,200.9 496.4,199.5 496.7,200.6 496.9,203.6 498.4,239.3 499.3,251.7 500.1,230.5 501.3,181.7 501.6,176.4 501.8,174.3 502.1,175.6 502.6,185.8 504.1,232.5 504.6,241.3 505.2,246.7 506.0,242.7 507.5,225.9 508.0,222.1 508.2,221.4 508.5,222.1 508.7,223.8 509.5,231.2 509.9,234.1 510.4,234.6 511.9,239.2 512.8,240.8 513.3,239.3 513.8,236.7 515.3,225.4 515.5,224.4 515.8,223.9 516.1,224.4 516.3,225.6 517.8,239.3 518.3,242.5 518.8,240.5 519.8,234.5 520.1,233.6 520.3,233.2 520.6,233.6 521.1,236.6 522.1,246.3 522.9,251.7 523.6,254.2 524.1,254.8 524.6,255.0 526.4,255.1 527.4,254.9 527.9,254.4 528.4,253.3 529.2,249.5 530.7,235.7 530.9,234.2 531.3,233.2 531.6,233.9 531.8,235.9 532.6,244.3 533.0,247.5 533.7,242.1 535.2,223.0 535.5,220.9 535.9,219.7 536.1,220.1 536.4,221.0 537.4,227.4 538.1,230.7 539.6,229.0 539.7,229.0 540.0,229.6 540.5,233.5 541.5,244.5 541.9,247.5 542.7,241.1 543.9,226.2 544.2,224.6 544.4,224.0 544.7,224.6 545.2,229.0 546.5,247.0 547.3,254.3 555.3,254.2 556.1,254.0 556.6,253.4 557.1,252.0 557.6,249.3 559.3,230.5 559.6,228.5 560.0,227.3 560.2,227.8 560.5,229.2 562.0,245.5 562.5,249.4 563.0,251.7 563.3,252.6 563.6,252.6 564.6,252.2 566.3,251.0 566.9,251.0 567.4,251.5 568.7,253.7 569.2,254.3 569.7,252.4 570.2,248.9 572.0,224.3 572.2,222.0 572.6,220.6 572.8,221.3 573.1,223.3 574.3,242.8 575.1,251.5 575.1,251.7 575.4,251.7 576.1,251.4 576.6,250.7 576.9,250.1 577.6,245.8 579.6,219.1 580.6,214.8 581.6,207.8 581.8,206.7 582.1,206.3 582.3,207.2 582.6,209.9 583.6,228.8 584.3,238.3 585.5,230.3 586.0,229.0 586.2,230.0 587.1,239.1 587.4,239.4 587.6,240.1 589.1,249.0 589.8,251.7 590.3,250.8 591.3,248.1 591.8,247.5 593.1,234.2 594.4,233.2 594.6,234.1 594.9,236.5 595.6,246.9 596.1,250.9 597.6,233.7 597.7,233.2 598.0,233.5 599.4,238.3 600.7,233.9 601.6,232.2 602.4,228.6 603.9,216.0 604.1,214.6 604.5,213.8 604.7,214.4 605.0,216.0 605.7,222.9 606.7,228.1 607.7,241.1 608.4,247.5 609.5,245.8 610.0,238.9 610.8,224.2 611.0,221.3 611.2,220.6 611.5,221.3 611.7,223.5 612.7,238.4 613.4,245.8 614.2,241.9 615.7,228.0 615.9,226.5 616.5,224.5 618.3,211.2 618.5,210.1 618.8,209.6 619.1,210.4 619.3,212.7 620.8,238.9 621.3,245.0 622.1,240.4 623.3,229.8 623.6,228.6 623.9,228.2 624.1,228.7 624.4,230.2 625.9,247.6 626.4,251.7 627.1,245.1 628.4,229.7 628.6,228.0 628.9,227.3 629.4,222.8 630.9,202.2 631.2,200.3 631.4,199.5 631.7,200.3 631.9,202.6 632.9,218.5 633.6,226.5 633.9,226.7 634.1,227.5 635.1,232.3 635.9,234.7 637.1,248.4 637.7,252.6 638.2,250.9 638.7,247.6 640.4,224.9 640.7,222.7 641.0,221.4 641.3,222.1 641.5,223.9 643.0,245.9 643.7,252.6 645.8,252.6 646.5,243.0 648.0,209.4 648.3,205.8 648.6,203.7 648.9,204.8 649.1,207.8 650.1,228.6 650.8,239.1 651.1,239.4 651.3,240.3 652.3,246.3 652.8,248.3 653.3,248.8 653.6,249.2 654.6,251.6 655.3,252.9 655.9,253.4 658.4,252.6 658.9,248.3 660.1,232.7 660.4,231.1 660.6,230.7 660.8,231.1 661.1,232.5 662.6,248.0 663.3,253.0 663.4,253.4 666.0,253.4 666.7,241.7 668.0,214.6 668.2,211.7 668.5,210.5 668.7,211.5 669.0,214.5 670.0,235.4 670.7,245.8 672.7,245.8 673.2,237.8 674.2,214.1 674.5,210.3 674.7,208.8 675.0,209.6 675.2,211.9 676.7,234.1 676.9,235.7 677.2,236.1 677.7,239.0 678.7,248.4 679.4,253.4 679.9,251.1 680.4,246.5 682.2,215.2 682.4,212.2 682.8,210.5 683.1,211.6 683.3,214.6 684.1,227.4 684.5,232.4 685.8,225.2 686.2,223.9 686.4,224.3 687.2,227.9 687.8,229.5 688.0,230.9 689.5,247.6 690.3,252.9 690.4,253.4 692.9,253.4 693.4,250.3 693.9,244.1 695.7,201.8 695.9,197.7 696.3,195.3 696.5,196.6 696.8,200.2 698.3,241.2 698.8,250.9 701.3,250.9 701.8,249.1 702.3,246.0 703.6,234.3 704.1,231.2 704.3,230.7 705.9,229.2 706.4,229.0 707.9,201.2 708.1,200.4 708.3,201.1 709.8,215.5 710.8,212.6 711.1,212.2 711.6,208.0 712.6,195.6 712.9,193.6 713.1,192.8 713.4,193.7 713.6,196.4 714.6,210.6 715.3,215.2 716.8,241.4 717.4,247.5 718.1,238.1 719.6,205.1 720.1,199.7 720.2,199.5 720.5,201.1 721.5,219.5 722.1,223.2 723.6,245.6 724.1,250.9 724.6,248.2 725.1,243.7 726.3,226.6 726.8,222.2 727.1,221.4 727.4,222.4 728.6,237.4 729.4,226.4 730.6,200.9 730.9,198.1 731.2,197.0 731.4,198.0 731.9,205.6 733.4,240.4 734.2,249.2 734.7,247.5 734.9,245.9 735.4,240.7 735.9,232.0 737.2,201.4 737.4,197.0 737.7,194.3 737.9,193.6 738.2,194.8 738.4,198.2 739.9,236.8 740.4,245.8 741.2,244.7 741.9,241.0 743.7,221.9 743.9,220.0 744.3,218.9 744.8,219.5 746.2,222.9 746.7,227.8 748.2,249.4 748.5,251.7 749.0,251.3 749.3,250.8 750.0,247.3 750.5,242.4 752.0,217.0 752.3,213.8 752.5,211.8 752.7,211.3 753.0,212.3 753.2,215.1 754.2,234.4 754.9,244.2 755.4,241.1 756.4,231.9 756.7,230.4 756.9,229.8 757.2,230.3 757.7,233.6 759.2,248.9 759.7,251.8 760.2,253.3 760.7,254.0 761.2,254.3 764.4,254.2 765.7,253.9 767.2,252.8 767.9,252.6 768.4,250.4 768.9,246.2 770.6,217.4 770.9,214.6 771.3,213.0 771.5,213.4 771.8,214.4 773.3,226.2 773.8,229.0 775.0,220.4 775.5,218.9 775.7,219.6 776.2,224.9 777.5,245.3 778.0,250.9 778.5,250.0 778.7,249.2 779.5,244.0 781.2,216.4 781.5,213.8 781.9,212.2 782.1,213.3 782.4,216.5 783.4,237.5 783.9,245.0 784.4,239.0 784.9,228.7 786.4,184.2 786.6,180.1 786.9,178.5 787.2,180.2 787.4,185.2 788.4,217.5 788.9,229.0 789.4,227.7 790.7,222.9 791.1,222.3 791.4,222.9 791.9,227.4 793.1,245.3 794.0,252.6 794.5,251.5 795.0,249.3 796.8,234.6 797.0,233.2 797.4,232.4 797.6,232.8 798.1,236.1 799.6,251.0 799.9,252.6 800.4,250.9 800.9,247.1 801.4,240.2 802.9,204.8 803.1,200.4 803.4,197.7 803.6,197.0 803.9,198.1 804.4,206.1 805.9,243.2 806.6,252.6 807.1,251.4 807.6,248.5 808.4,236.7 808.9,221.6 810.1,168.5 810.4,160.9 810.6,156.2 810.8,154.9 811.1,156.7 811.6,169.9 813.1,231.1 813.6,242.6 814.1,248.8 814.6,251.6 815.1,252.6 817.8,252.6 820.3,253.3 823.5,253.4 825.9,252.6 826.9,152.0 827.1,146.5 827.3,148.3 827.6,153.8 829.1,217.8 829.8,238.3 830.1,242.5 830.4,242.7 830.9,244.2 832.4,251.3 832.9,252.6 833.5,253.4 834.2,246.7 835.5,231.4 835.7,229.7 836.0,229.0 836.5,212.9 837.3,178.5 837.5,171.7 837.7,170.0 837.9,171.8 838.2,176.8 839.2,211.5 839.9,229.0 840.9,205.1 841.1,203.7 841.3,195.3 842.3,141.0 842.6,132.5 842.7,130.5 843.0,131.7 843.2,135.2 844.5,169.5 845.2,184.8 845.3,185.2 845.8,185.8 847.0,188.6 847.2,189.8 848.6,213.8 849.1,214.3 850.3,216.4 850.8,211.1 851.8,195.5 852.1,192.9 852.3,191.9 852.6,193.4 852.8,197.7 853.8,227.5 854.5,242.5 855.0,238.4 856.3,223.3 856.5,221.8 856.7,221.4 857.0,222.0 857.2,223.7 858.7,243.9 859.6,250.9 860.3,241.9 861.6,221.2 861.8,219.0 862.1,218.1 862.4,218.4 862.6,219.5 863.4,223.9 863.8,225.6 864.3,225.9 865.5,227.3 865.7,227.9 866.2,232.0 867.5,248.2 868.0,252.6 871.5,252.4 873.9,251.7 874.2,251.3 874.7,249.9 875.2,247.3 876.7,235.3 876.9,234.0 877.3,233.2 877.5,233.7 877.8,235.0 879.3,250.6 879.8,254.3 881.6,254.1 884.0,253.4 887.6,253.4 890.1,254.2 892.3,254.2 893.6,253.9 895.1,252.8 895.8,252.6 896.3,246.8 896.8,236.9 898.3,194.1 898.6,190.2 898.8,188.6 899.1,189.1 899.6,192.8 901.1,210.1 902.2,216.6 903.7,240.8 904.6,249.2 905.1,241.3 906.3,212.4 906.6,209.5 906.8,208.8 907.0,209.6 907.3,212.1 908.8,240.1 909.3,246.7 910.0,237.5 911.3,216.2 911.5,213.9 911.8,213.0 912.1,213.6 912.6,218.2 914.1,239.4 914.6,243.4 915.2,245.8 915.9,235.9 917.2,213.1 917.4,210.6 917.7,209.6 918.0,210.5 918.2,212.9 919.7,240.2 920.2,246.7 921.0,237.9 922.2,217.8 922.5,215.6 922.8,214.7 923.0,215.4 923.5,220.8 925.0,245.6 925.5,250.2 926.0,252.7 926.5,253.9 927.0,254.3 932.9,254.3 933.4,250.0 933.9,242.7 935.4,211.2 935.6,208.3 935.9,207.1 936.2,207.8 936.4,209.6 937.2,217.5 937.6,220.6 939.1,214.8 939.3,214.7 939.5,216.4 941.0,248.4 941.5,243.1 942.7,225.0 943.0,224.0 943.5,223.7 944.0,223.1 945.7,219.5 946.3,218.9 946.6,219.7 946.8,221.9 948.3,247.4 948.9,253.4 950.6,253.2 952.6,251.8 953.8,251.5 954.3,250.9 954.8,249.5 955.3,246.6 955.8,241.9 957.3,222.5 957.6,221.0 957.8,220.6 958.1,221.6 958.3,224.6 959.3,244.0 959.8,250.9 960.3,247.9 960.8,242.9 962.3,220.9 962.6,218.9 962.9,218.1 963.1,218.7 963.6,223.6 965.1,246.0 965.9,251.5 966.6,253.4 969.3,254.2 972.6,254.3 974.4,254.1 976.4,253.5 978.4,253.3 979.4,252.6 981.2,249.6 981.7,249.2 982.0,249.3 982.5,250.1 984.0,253.8 984.5,254.5 985.0,254.9 986.2,255.1 991.5,255.1 992.8,255.0 993.8,254.7 995.3,253.7 996.0,253.4 996.8,248.5 997.5,236.9 998.8,209.3 999.0,205.8 999.4,203.7 999.7,204.7 999.9,207.4 1001.4,239.0 1002.3,250.1 1003.0,243.7 1004.3,227.2 1004.5,224.8 1004.8,223.4 1005.0,223.1 1005.2,223.9 1005.5,226.0 1006.7,245.9 1007.3,252.6 1007.8,251.4 1008.3,248.4 1009.1,236.6 1009.6,221.4 1010.8,167.8 1011.1,160.1 1011.3,155.3 1011.5,154.0 1011.8,155.9 1012.3,169.5 1013.8,232.5 1014.3,244.3 1014.5,248.0 1015.1,252.6 1020.7,252.6 1022.7,254.1 1023.5,254.2 1024.0,254.1 1024.5,253.6 1025.0,252.2 1025.2,250.9 1025.7,245.8 1026.2,236.2 1028.0,174.4 1028.2,169.1 1028.6,166.7 1028.8,168.3 1029.1,173.1 1030.6,228.8 1031.4,248.4 1032.2,241.0 1033.4,224.0 1033.7,222.2 1033.9,221.4 1034.2,222.1 1034.4,224.1 1035.9,247.2 1036.5,252.6 1039.5,253.4 1044.1,253.4 1044.8,244.7 1046.1,224.5 1046.3,222.3 1046.6,221.4 1046.8,222.2 1047.1,224.5 1048.1,240.4 1048.8,248.4 1049.3,240.6 1050.5,213.6 1050.8,212.2 1051.3,210.8 1052.3,206.8 1052.5,206.0 1053.0,205.4 1053.2,206.1 1053.5,207.9 1054.7,222.1 1055.5,226.6 1057.0,249.0 1057.5,254.3 1059.2,254.3 1059.7,245.9 1060.7,221.1 1061.0,217.1 1061.2,215.5 1061.5,216.3 1061.7,218.7 1063.2,245.4 1063.8,251.7 1064.5,243.3 1066.0,218.7 1066.3,216.8 1066.5,216.4 1066.7,216.4 1066.9,217.5 1067.2,220.7 1068.2,241.7 1068.7,249.2 1069.5,242.0 1070.7,223.5 1071.0,220.9 1071.2,219.3 1071.4,218.9 1071.7,219.6 1071.9,221.6 1073.4,245.2 1074.3,253.4 1077.0,254.2 1081.0,254.3 1081.8,245.4 1083.3,214.1 1083.5,210.7 1083.9,208.8 1084.1,210.1 1084.4,213.9 1085.4,240.2 1086.1,253.4 1087.6,253.4 1088.6,253.1 1090.6,251.1 1091.1,250.9 1091.9,239.7 1093.4,200.3 1093.6,196.0 1094.0,193.6 1094.2,194.8 1094.7,203.3 1096.2,242.6 1097.0,252.6 1100.0,253.4 1105.4,253.4 1106.2,242.4 1107.4,216.9 1107.7,214.1 1108.0,213.0 1108.2,213.9 1108.5,216.5 1110.0,246.4 1110.5,253.4 1112.2,253.4 1112.9,242.1 1114.2,216.1 1114.4,213.3 1114.7,212.2 1114.9,213.4 1115.2,216.9 1116.2,241.2 1116.9,253.4 1117.6,252.9 1119.1,251.2 1119.8,250.9 1120.3,251.2 1121.8,253.7 1122.3,254.3 1126.8,254.2 1129.9,253.4 1130.4,253.6 1132.4,255.1 1136.4,255.1 1138.4,255.0 1141.3,254.1 1142.1,253.5 1142.6,252.5 1143.1,250.8 1144.3,244.9 1144.6,244.0 1145.0,243.3 1145.3,243.6 1145.5,244.3 1147.0,252.4 1147.5,254.3 1150.1,253.4 1150.8,251.8 1152.1,248.1 1152.6,247.5 1153.1,248.1 1154.6,253.1 1155.1,254.3 1166.1,254.3 1167.1,241.5 1168.8,207.4 1169.6,195.9 1170.1,192.3 1170.8,191.1 1172.0,188.1 1172.5,187.7 1172.7,188.4 1173.0,190.4 1173.5,198.0 1175.2,238.4 1176.2,253.4 1186.3,253.4 1188.8,254.1 1190.0,254.3 1201.5,254.3 1202.0,252.2 1202.2,250.3 1202.7,243.9 1203.2,233.3 1204.5,196.3 1204.7,191.0 1205.0,187.7 1205.2,186.9 1205.4,188.4 1205.7,192.9 1206.7,223.6 1207.4,239.1 1208.1,212.4 1209.4,150.8 1209.6,144.1 1209.9,141.4 1210.1,143.6 1210.6,159.5 1212.1,233.1 1212.9,251.7 1213.4,248.4 1213.9,241.9 1215.7,197.1 1215.9,192.8 1216.3,190.3 1216.5,191.5 1216.8,195.3 1218.3,239.0 1219.1,254.3 1228.4,254.2 1229.6,254.1 1231.6,253.4 1242.0,253.4 1245.3,252.6 1246.0,220.8 1247.3,147.5 1247.5,139.5 1247.8,136.3 1248.0,139.0 1248.3,146.5 1249.8,232.4 1250.3,252.6 1250.8,251.5 1251.8,248.3 1252.3,247.5 1252.8,248.0 1253.8,250.5 1254.5,251.7 1255.3,229.2 1256.5,177.2 1256.8,171.5 1257.0,169.2 1257.3,175.5 1258.4,250.9 1259.6,173.3 1259.9,167.5 1260.2,169.2 1260.7,181.5 1262.2,238.2 1262.9,252.6 1275.6,252.6 1276.1,250.4 1276.6,244.6 1277.3,221.9 1277.8,192.6 1279.1,89.6 1279.3,74.7 1279.6,65.6 1279.8,63.1 1280.0,67.3 1280.3,79.6 1281.8,219.6 1282.3,252.6 1283.1,251.7 1284.3,249.5 1284.8,249.2 1285.3,249.5 1286.8,252.0 1287.4,252.6 1287.9,252.4 1288.4,252.0 1288.9,251.0 1289.4,249.3 1290.9,240.3 1291.1,239.1 1291.6,238.3 1291.8,238.6 1292.1,239.6 1293.6,250.8 1294.1,253.4 1295.1,252.8 1296.9,249.7 1297.5,249.2 1298.0,239.8 1298.7,208.1 1300.2,95.7 1300.5,83.6 1300.8,76.5 1301.1,82.6 1301.3,99.8 1302.3,211.1 1302.9,250.9 1303.4,204.9 1304.6,36.2 1304.9,19.1 1305.1,15.1 1305.3,20.4 1305.6,35.7 1307.1,210.6 1307.6,251.7 1310.1,252.5 1312.9,252.6 1314.9,253.2 1316.1,253.4 1320.3,253.4 1323.3,252.6 1324.1,244.2 1325.0,252.6 1325.7,207.0 1327.2,46.3 1327.5,29.1 1327.8,19.3 1328.1,26.1 1328.3,45.6 1329.3,181.1 1330.0,249.2 1332.6,249.2 1332.8,249.3 1334.6,252.6 1335.6,218.7 1335.9,213.0 1336.2,216.9 1337.1,252.6 1340.1,253.4 1341.4,253.4 1342.1,253.1 1342.9,252.2 1344.6,248.0 1345.2,247.5 1345.4,247.8 1345.7,248.5 1346.9,252.6 1350.5,252.6 1351.5,252.4 1352.2,251.9 1352.7,251.2 1354.2,247.5 1354.5,247.1 1355.0,246.7 1355.2,247.0 1355.5,247.8 1356.6,252.6 1357.4,252.4 1357.9,252.1 1359.6,249.7 1360.3,249.2 1360.8,249.8 1362.0,252.6 1373.8,252.5 1375.0,252.2 1377.0,250.9 1381.7,250.9 1382.9,250.7 1385.2,249.3 1387.4,249.1 1389.8,248.4 1390.3,245.5 1391.3,236.8 1391.6,235.5 1391.9,234.9 1392.1,236.0 1393.1,248.5 1393.2,249.2 1393.4,248.9 1393.9,248.0 1394.4,247.5 1395.4,176.9 1395.7,165.0 1396.0,169.2 1396.2,180.7 1397.0,230.0 1397.4,249.2 1397.9,235.6 1398.7,206.7 1398.9,200.9 1399.1,199.5 1399.3,202.0 1399.6,208.8 1400.3,237.9 1400.8,249.2 1401.3,245.6 1402.3,234.8 1402.5,233.1 1402.8,232.4 1403.1,233.7 1404.1,249.2 1406.1,247.7 1406.7,247.5 1407.2,247.7 1409.2,249.2 1415.9,249.2 1416.7,248.6 1417.2,247.8 1418.9,243.6 1419.3,243.3 1421.0,243.3 1422.0,219.5 1422.3,215.5 1422.6,218.3 1423.5,243.3 1424.4,229.0 1424.6,229.7 1424.9,231.7 1425.6,240.1 1426.0,243.3 1426.5,244.1 1427.7,247.5 1430.5,248.3 1434.2,248.4 1436.2,248.2 1438.4,247.5 1443.4,247.5 1445.7,246.8 1448.0,246.3 1451.3,245.2 1453.5,244.9 1456.8,243.6 1458.1,243.3 1458.8,242.2 1460.1,239.5 1460.6,239.1 1461.3,233.1 1462.6,219.3 1463.4,215.5 1464.4,204.2 1464.6,202.5 1465.8,199.2 1466.1,198.7 1466.6,199.1 1467.6,201.3 1468.4,202.4 1468.7,203.4 1470.2,214.6 1470.7,217.1 1470.9,217.6 1471.2,218.5 1472.9,231.2 1473.2,232.4 1473.7,233.0 1474.2,234.6 1475.5,240.4 1476.2,243.2 1476.6,244.2 1477.3,244.4 1479.3,246.3 1480.5,246.8 1481.0,247.3 1483.0,249.9 1484.0,250.9" fill="none" stroke="#000" stroke-width="2.25" stroke-linejoin="round"/>
<line x1="169.5" y1="286.2" x2="169.5" y2="500" stroke="#000" stroke-width="1.1"/>
<path d="M170.2,502.9 170.7,468.5 171.9,338.9 172.2,323.0 172.4,316.1 172.7,325.5 172.9,351.5 173.7,464.4 174.2,512.4 175.2,454.3 175.5,443.2 175.8,449.0 176.7,498.7 177.4,469.2 178.1,519.1 178.2,521.4 178.4,517.9 178.9,506.3 179.4,486.8 180.7,418.6 180.9,408.8 181.2,402.8 181.4,401.2 181.6,416.4 182.4,519.8 183.4,507.4 183.7,506.1 183.9,508.0 184.7,520.9 185.5,514.4 186.7,498.8 187.0,496.8 187.3,495.6 187.6,497.8 188.7,525.1 189.2,517.9 190.0,502.5 190.2,499.2 190.4,498.2 190.7,499.8 191.9,523.0 192.9,417.0 193.2,394.2 193.4,386.3 193.7,391.5 193.9,406.1 194.9,497.8 195.4,525.1 196.1,521.2 197.6,507.4 197.9,505.9 198.2,505.1 198.5,506.3 199.7,525.1 200.5,438.5 200.9,410.4 201.1,414.3 201.4,425.4 202.4,494.9 202.8,515.6 203.3,478.9 204.6,340.7 204.8,323.7 205.1,316.4 205.3,320.4 205.6,331.9 207.1,467.2 208.0,514.5 208.7,489.9 210.0,430.0 210.2,422.3 210.6,417.5 210.8,420.3 211.1,428.4 212.3,499.8 212.9,520.9 214.1,442.4 214.3,440.9 214.5,444.4 215.6,488.2 216.1,476.8 217.4,433.9 217.6,428.7 217.9,426.4 218.2,431.3 219.4,504.0 219.9,475.3 221.2,367.4 221.4,354.1 221.7,348.4 222.0,351.7 222.5,375.7 223.5,454.4 224.2,498.3 225.0,518.5 225.1,520.9 225.4,518.6 225.9,509.9 226.4,492.7 226.9,464.5 228.1,369.1 228.4,356.2 228.8,347.4 229.1,352.9 229.3,368.6 230.3,472.0 230.9,512.4 231.6,485.3 232.0,476.5 232.3,478.2 232.5,483.0 233.3,503.6 233.7,512.4 234.2,496.4 235.0,462.0 235.2,454.6 235.4,452.4 235.7,453.7 235.9,457.3 237.4,500.5 238.3,515.6 239.1,487.8 240.3,424.0 240.6,417.1 240.8,414.4 241.1,417.7 242.0,446.0 242.9,423.8 243.1,431.9 244.0,500.8 244.5,491.6 245.5,466.1 245.9,463.3 246.1,464.4 246.4,467.7 247.9,506.0 248.6,518.2 249.6,463.6 250.0,453.2 250.2,455.3 250.5,461.2 251.5,500.3 252.1,515.6 252.8,490.7 254.3,402.9 254.6,393.6 254.9,388.2 255.2,390.7 255.4,398.0 256.9,483.9 257.7,511.4 258.2,520.1 258.7,524.0 259.2,525.5 259.7,526.0 260.2,526.1 260.6,526.1 260.9,524.9 261.6,516.7 262.1,506.4 263.4,470.7 263.6,465.7 263.9,462.8 264.1,462.1 264.3,463.2 264.8,471.6 266.3,510.3 266.8,517.5 267.3,521.4 267.8,523.2 268.3,523.9 268.7,524.0 268.9,522.9 269.7,517.2 270.9,503.8 271.2,502.1 271.5,501.1 271.8,501.6 272.3,505.4 273.8,522.9 274.4,526.7 274.6,525.6 275.1,521.8 275.6,514.1 276.1,501.5 277.4,459.0 277.6,453.2 278.1,449.3 278.3,450.7 278.8,460.8 279.8,493.9 280.6,512.3 281.3,520.8 281.8,522.9 282.3,523.7 283.0,524.0 283.5,516.8 285.2,467.8 285.5,463.1 285.8,460.4 286.1,461.6 286.6,470.3 287.6,499.0 288.3,514.9 288.8,520.6 289.1,522.3 289.6,524.1 289.9,524.6 293.6,524.5 294.6,524.1 296.1,523.1 296.7,523.0 297.2,519.2 297.7,512.1 299.2,476.3 299.5,471.8 299.7,469.1 299.9,468.4 300.2,469.4 300.7,476.6 302.2,509.9 302.7,516.2 303.2,519.5 303.6,520.9 304.4,517.6 306.1,501.1 306.4,499.6 306.7,498.8 306.9,500.0 308.2,517.2 308.7,513.1 309.9,498.0 310.2,496.1 310.5,495.3 310.7,495.8 311.2,499.5 312.2,511.6 313.0,518.4 313.7,521.5 314.5,522.4 315.0,508.6 316.2,456.4 316.5,450.0 316.7,447.3 317.0,448.0 317.5,453.5 319.0,479.2 319.5,484.0 320.2,487.1 321.0,479.2 322.5,451.4 322.7,448.4 323.1,446.7 323.3,448.1 323.8,458.2 324.8,491.2 325.6,509.6 326.1,516.2 326.3,518.1 326.8,520.2 327.1,520.7 327.6,521.2 328.8,521.4 329.3,521.2 330.1,520.1 330.6,518.2 331.3,511.6 332.8,489.5 333.3,486.2 335.9,486.2 336.1,487.4 337.6,509.3 338.3,501.7 339.6,484.1 339.8,482.2 340.1,481.4 340.4,482.1 340.6,484.3 342.1,510.2 342.6,516.3 343.1,520.0 343.1,520.1 347.7,520.1 348.4,498.1 349.7,447.3 349.9,441.8 350.2,439.5 350.5,441.0 350.7,445.0 351.5,462.3 351.9,469.0 352.7,461.6 353.9,444.5 354.2,442.6 354.4,441.9 354.7,443.2 355.2,453.4 356.7,500.5 357.2,509.3 357.8,514.7 358.3,511.8 359.3,503.1 359.8,500.2 360.0,500.0 360.5,500.6 361.5,503.6 362.0,504.6 362.5,497.1 363.8,467.4 364.3,459.4 364.5,458.2 366.2,457.4 366.5,459.0 366.7,463.8 367.7,496.6 368.4,513.2 368.9,511.4 369.2,509.7 369.9,498.2 370.7,472.7 371.9,415.9 372.2,409.7 372.5,407.0 372.7,409.0 373.0,414.9 374.5,483.7 375.1,504.6 375.6,499.8 376.6,485.4 376.9,483.1 377.2,482.2 377.4,482.9 377.9,487.9 379.4,511.5 379.9,515.9 380.5,518.6 381.0,515.9 382.0,508.0 382.3,506.7 382.6,506.2 382.8,506.5 383.3,508.6 384.8,518.4 385.6,520.9 386.1,519.6 386.6,517.3 388.1,507.5 388.3,506.6 388.6,506.2 388.9,506.5 389.1,507.5 390.6,518.6 391.5,522.5 392.2,519.0 393.7,506.7 394.0,505.4 394.4,504.6 394.6,505.0 395.1,507.7 396.6,520.1 397.4,523.2 399.1,523.1 401.6,522.5 402.1,521.6 402.8,518.8 404.3,508.7 404.6,507.6 405.0,507.0 405.2,507.2 405.7,509.3 406.7,516.2 407.5,520.1 408.2,521.9 408.7,522.3 409.2,522.5 409.9,518.4 411.4,504.0 411.7,502.4 412.0,501.5 412.3,502.1 412.5,503.7 413.3,511.2 413.9,515.5 414.6,511.3 415.6,503.5 416.1,501.6 416.3,501.5 416.5,502.0 417.0,505.0 418.0,515.1 418.8,520.7 419.3,522.7 419.8,523.7 420.1,524.0 420.9,523.2 421.6,520.2 422.1,515.9 423.9,491.3 424.1,489.6 424.3,489.1 424.6,490.0 425.6,499.4 425.7,500.0 425.9,498.7 426.9,490.7 427.4,489.1 427.9,485.7 429.6,462.4 429.9,460.2 430.2,458.9 430.5,460.1 431.0,468.8 432.0,497.4 432.7,513.4 433.5,520.7 434.0,522.6 434.4,523.2 434.9,520.8 435.4,516.0 437.2,483.3 437.7,478.5 437.8,478.3 438.1,479.1 438.3,481.5 439.8,509.6 440.3,516.4 440.8,520.3 441.3,522.3 442.0,523.2 445.4,523.2 446.1,518.1 447.6,499.9 448.1,497.0 448.3,496.9 448.5,497.3 448.8,498.7 449.8,507.8 450.5,512.4 451.0,508.0 452.2,490.7 452.7,486.0 453.0,485.3 453.5,485.6 455.0,488.5 455.5,489.1 456.3,484.9 457.5,475.1 457.8,474.1 458.0,473.6 458.3,474.5 458.5,477.1 460.0,507.3 460.9,517.8 461.6,504.6 462.9,470.4 463.1,465.6 463.4,462.7 463.6,462.0 463.8,462.9 464.3,469.5 465.8,499.9 466.3,505.7 466.8,508.5 469.8,507.7 470.1,507.4 470.8,505.5 472.3,499.2 472.6,498.7 472.9,498.4 473.1,499.0 473.4,500.7 474.6,515.8 475.2,520.9 475.7,520.4 476.2,519.6 477.7,516.0 478.5,515.1 479.2,512.5 480.0,505.6 481.5,481.0 481.7,478.3 482.1,476.7 482.4,477.3 482.6,479.0 483.6,489.9 484.1,493.8 485.4,480.5 485.6,478.7 485.8,478.3 486.1,478.9 486.6,483.2 487.8,500.1 488.4,504.6 488.6,505.0 489.1,507.5 490.1,515.7 490.9,520.3 491.6,522.5 492.1,523.0 492.9,523.2 493.7,519.3 494.2,513.5 495.7,481.5 496.2,474.1 496.4,472.9 496.7,473.8 496.9,476.6 498.4,509.4 499.3,520.9 500.1,501.4 501.3,456.5 501.6,451.6 501.8,449.6 502.1,450.9 502.6,460.2 504.1,503.2 504.6,511.3 505.2,516.3 506.0,512.6 507.5,497.1 508.0,493.6 508.2,493.0 508.5,493.6 508.7,495.2 509.5,502.0 509.9,504.6 510.4,505.1 511.9,509.4 512.8,510.8 513.3,509.4 513.8,507.0 515.3,496.7 515.5,495.7 515.8,495.3 516.1,495.7 516.3,496.8 517.8,509.4 518.3,512.4 518.8,510.5 519.8,505.1 520.1,504.2 520.3,503.9 520.6,504.2 521.1,507.0 522.1,515.9 522.9,520.8 523.6,523.1 524.1,523.7 524.6,523.9 526.4,524.0 527.4,523.8 527.9,523.3 528.4,522.3 529.2,518.8 530.7,506.2 530.9,504.8 531.3,503.9 531.6,504.5 531.8,506.3 532.6,514.0 533.0,517.0 533.7,512.0 535.2,494.4 535.5,492.5 535.9,491.5 536.1,491.8 536.4,492.6 537.4,498.6 538.1,501.5 539.6,500.0 539.7,500.0 540.0,500.5 540.5,504.1 541.5,514.2 541.9,517.0 542.7,511.1 543.9,497.4 544.2,495.9 544.4,495.3 544.7,495.9 545.2,500.0 546.5,516.6 547.3,523.2 555.3,523.2 556.1,523.0 556.6,522.4 557.1,521.2 557.6,518.7 559.3,501.3 559.6,499.6 560.0,498.4 560.2,498.9 560.5,500.2 562.0,515.1 562.5,518.7 563.0,520.8 563.3,521.7 563.6,521.7 564.6,521.3 566.3,520.2 566.9,520.2 569.2,523.2 569.7,521.5 570.2,518.3 572.0,495.7 572.2,493.5 572.6,492.2 572.8,492.9 573.1,494.7 574.3,512.7 575.1,520.7 575.1,520.9 575.4,520.9 576.1,520.6 576.9,519.4 577.6,515.5 579.6,490.9 580.6,487.0 581.6,480.5 581.8,479.5 582.1,479.1 582.3,479.9 582.6,482.4 583.6,499.8 584.3,508.5 585.5,501.2 586.0,500.0 586.2,500.9 587.1,509.3 587.4,509.5 587.6,510.2 589.1,518.4 589.8,520.9 590.3,520.1 591.3,517.6 591.8,517.0 593.1,504.8 594.4,503.9 594.6,504.7 594.9,506.9 595.6,516.4 596.1,520.1 597.6,504.3 597.7,503.9 598.0,504.1 599.4,508.5 600.7,504.5 601.6,502.9 602.4,499.6 603.9,488.0 604.1,486.8 604.5,486.0 604.7,486.6 605.0,488.1 605.7,494.4 606.7,499.2 607.7,511.1 608.4,517.0 609.5,515.5 610.0,509.1 610.8,495.6 611.0,492.9 611.2,492.2 611.5,492.9 611.7,494.9 612.7,508.6 613.4,515.5 614.2,511.8 615.7,499.0 615.9,497.7 616.5,495.8 618.3,483.6 618.5,482.6 618.8,482.2 619.1,482.9 619.3,485.0 620.8,509.1 621.3,514.7 622.1,510.5 623.3,500.7 623.6,499.6 623.9,499.2 624.1,499.7 624.4,501.1 625.9,517.1 626.4,520.9 627.1,514.8 628.4,500.6 628.6,499.1 628.9,498.4 629.4,494.3 630.9,475.3 631.2,473.6 631.4,472.9 631.7,473.6 631.9,475.7 632.9,490.3 633.6,497.7 633.9,497.9 634.1,498.6 635.1,503.0 635.9,505.2 637.1,517.8 637.7,521.7 638.2,520.1 638.7,517.1 640.4,496.2 640.7,494.2 641.0,493.0 641.3,493.6 641.5,495.3 643.0,515.5 643.7,521.7 645.8,521.7 646.5,512.9 648.0,481.9 648.3,478.6 648.6,476.7 648.9,477.7 649.1,480.5 650.1,499.7 650.8,509.3 651.1,509.6 651.3,510.4 652.3,515.9 652.8,517.8 653.6,518.6 654.6,520.8 655.3,522.0 655.9,522.5 658.4,521.7 658.9,517.8 660.1,503.3 660.4,501.9 660.6,501.5 660.8,502.0 661.1,503.2 662.6,517.5 663.3,522.0 663.4,522.5 666.0,522.5 666.7,511.6 668.0,486.7 668.2,484.0 668.5,482.9 668.7,483.9 669.0,486.7 670.0,505.8 670.7,515.5 672.7,515.5 673.2,508.1 674.2,486.3 674.5,482.8 674.7,481.4 675.0,482.1 675.2,484.2 676.7,504.7 676.9,506.2 677.2,506.6 677.7,509.2 678.7,517.8 679.4,522.5 679.9,520.3 680.4,516.1 682.2,487.3 682.4,484.6 682.8,482.9 683.1,483.9 683.3,486.7 684.1,498.5 684.5,503.1 685.8,496.5 686.2,495.3 686.4,495.7 687.2,498.9 687.8,500.4 688.0,501.7 689.5,517.1 690.3,522.0 690.4,522.5 692.9,522.5 693.4,519.5 693.9,513.9 695.7,474.9 695.9,471.2 696.3,469.0 696.5,470.1 696.8,473.4 698.3,511.2 698.8,520.1 701.3,520.1 701.8,518.5 702.3,515.6 703.6,504.8 704.1,502.0 704.3,501.5 705.9,500.2 706.4,500.0 707.9,474.4 708.1,473.6 708.3,474.3 709.8,487.6 710.8,484.9 711.1,484.5 711.6,480.6 712.6,469.2 712.9,467.4 713.1,466.7 713.4,467.6 713.6,470.0 714.6,483.1 715.3,487.3 716.8,511.4 717.4,517.0 718.1,508.4 719.6,478.0 720.1,473.0 720.2,472.9 720.5,474.4 721.5,491.3 722.1,494.7 723.6,515.3 724.1,520.1 724.6,517.7 725.1,513.5 726.3,497.8 726.8,493.7 727.1,493.0 727.4,493.9 728.6,507.7 729.4,497.6 730.6,474.1 730.9,471.6 731.2,470.5 731.4,471.5 731.9,478.4 733.4,510.5 734.2,518.6 734.7,517.0 734.9,515.6 735.4,510.7 735.9,502.7 737.2,474.6 737.4,470.5 737.7,468.1 737.9,467.4 738.2,468.5 738.4,471.6 739.9,507.1 740.4,515.5 741.2,514.4 741.9,511.0 743.7,493.4 743.9,491.7 744.3,490.7 744.8,491.3 746.2,494.4 746.7,498.9 748.2,518.7 748.5,520.9 749.3,520.0 750.0,516.9 750.5,512.3 752.0,488.9 752.3,486.0 752.5,484.2 752.7,483.7 753.0,484.6 753.2,487.2 754.2,505.0 754.9,513.9 755.4,511.1 756.4,502.7 756.7,501.3 756.9,500.8 757.2,501.2 757.7,504.2 759.2,518.3 759.7,520.9 760.2,522.4 760.7,523.0 761.2,523.2 764.4,523.2 765.7,522.9 767.2,521.9 767.9,521.7 768.4,519.7 768.9,515.8 770.6,489.3 770.9,486.8 771.3,485.3 771.5,485.6 771.8,486.5 773.3,497.4 773.8,500.0 775.0,492.0 775.5,490.7 775.7,491.3 776.2,496.2 777.5,515.0 778.0,520.1 778.5,519.3 778.7,518.6 779.5,513.8 781.2,488.4 781.5,486.0 781.9,484.5 782.1,485.5 782.4,488.5 783.4,507.8 783.9,514.7 784.4,509.2 784.9,499.7 786.4,458.8 786.6,455.0 786.9,453.5 787.2,455.1 787.4,459.7 788.4,489.4 788.9,500.0 789.4,498.8 790.7,494.3 791.1,493.8 791.4,494.3 791.9,498.5 793.1,515.0 794.0,521.7 794.5,520.7 795.0,518.7 796.8,505.2 797.0,503.8 797.4,503.1 797.6,503.5 798.1,506.6 799.6,520.2 799.9,521.7 800.4,520.1 800.9,516.6 801.4,510.2 802.9,477.7 803.1,473.6 803.4,471.2 803.6,470.5 803.9,471.5 804.4,478.9 805.9,513.0 806.6,521.7 807.1,520.6 807.6,517.9 808.4,507.1 808.9,493.2 810.1,444.4 810.4,437.3 810.6,433.0 810.8,431.8 811.1,433.4 811.6,445.6 813.1,502.0 813.6,512.5 814.1,518.2 814.6,520.8 815.1,521.7 817.8,521.7 820.3,522.4 823.5,522.5 825.9,521.7 826.9,429.1 827.1,424.0 827.3,425.8 827.6,430.8 829.1,489.7 829.8,508.5 830.1,512.4 830.4,512.6 830.9,514.0 832.4,520.5 832.9,521.7 833.5,522.5 834.2,516.3 835.5,502.2 835.7,500.6 836.0,500.0 836.5,485.1 837.3,453.6 837.5,447.2 837.7,445.7 837.9,447.4 838.2,452.0 839.2,483.9 839.9,500.0 840.9,478.0 841.1,476.7 841.3,469.0 842.3,419.0 842.6,411.2 842.7,409.3 843.0,410.4 843.2,413.7 844.5,445.3 845.2,459.3 845.3,459.7 845.8,460.3 847.0,462.8 847.2,463.9 848.6,486.0 849.1,486.5 850.3,488.4 850.8,483.5 851.8,469.1 852.1,466.8 852.3,465.9 852.6,467.3 852.8,471.2 853.8,498.6 854.5,512.4 855.0,508.6 856.3,494.8 856.5,493.3 856.7,493.0 857.0,493.6 857.2,495.1 858.7,513.7 859.6,520.1 860.3,511.9 861.6,492.8 861.8,490.7 862.1,489.9 862.4,490.3 862.6,491.2 863.4,495.3 863.8,496.9 864.3,497.2 865.5,498.4 865.7,499.0 866.2,502.8 867.5,517.6 868.0,521.7 871.5,521.5 873.9,520.9 874.2,520.5 874.7,519.2 875.2,516.8 876.7,505.8 876.9,504.6 877.3,503.9 877.5,504.3 877.8,505.5 879.3,519.9 879.8,523.2 881.6,523.1 884.0,522.5 887.6,522.5 890.1,523.2 892.3,523.2 893.6,522.9 895.1,521.9 895.8,521.7 896.3,516.4 896.8,507.3 898.3,467.9 898.6,464.3 898.8,462.8 899.1,463.3 899.6,466.7 901.1,482.6 902.2,488.6 903.7,510.8 904.6,518.6 905.1,511.3 906.3,484.7 906.6,482.0 906.8,481.4 907.0,482.2 907.3,484.4 908.8,510.2 909.3,516.3 910.0,507.8 911.3,488.2 911.5,486.1 911.8,485.3 912.1,485.8 912.6,490.1 914.1,509.6 914.6,513.2 915.2,515.5 915.9,506.4 917.2,485.4 917.4,483.1 917.7,482.2 918.0,482.9 918.2,485.1 919.7,510.3 920.2,516.3 921.0,508.2 922.2,489.6 922.5,487.6 922.8,486.8 923.0,487.5 923.5,492.4 925.0,515.2 925.5,519.5 926.0,521.8 926.5,522.9 927.0,523.2 932.9,523.2 933.4,519.3 933.9,512.6 935.4,483.6 935.6,480.9 935.9,479.8 936.2,480.5 936.4,482.2 937.2,489.4 937.6,492.2 939.1,487.0 939.3,486.8 939.5,488.4 941.0,517.8 941.5,513.0 942.7,496.3 943.0,495.3 943.5,495.1 944.0,494.6 945.7,491.2 946.3,490.7 946.6,491.4 946.8,493.5 948.3,516.9 948.9,522.5 950.6,522.2 952.6,521.0 953.8,520.7 954.3,520.1 954.8,518.8 955.3,516.2 955.8,511.8 957.3,494.0 957.6,492.6 957.8,492.2 958.1,493.2 958.3,496.0 959.3,513.8 959.8,520.1 960.3,517.4 960.8,512.7 962.3,492.5 962.6,490.7 962.9,489.9 963.1,490.5 963.6,495.0 965.1,515.6 965.9,520.7 966.6,522.5 969.3,523.2 972.6,523.2 974.4,523.1 976.4,522.5 978.4,522.3 979.4,521.7 981.2,518.9 981.7,518.6 982.0,518.7 982.5,519.4 984.0,522.8 984.5,523.4 985.0,523.8 986.2,524.0 991.5,524.0 992.8,523.9 993.8,523.7 995.3,522.7 996.0,522.5 996.8,517.9 997.5,507.4 998.8,482.2 999.0,479.1 999.4,477.2 999.7,478.0 999.9,480.5 1001.4,509.3 1002.3,519.4 1003.0,513.5 1004.3,498.3 1004.5,496.2 1004.8,494.9 1005.0,494.6 1005.2,495.3 1005.5,497.3 1006.7,515.5 1007.3,521.7 1007.8,520.6 1008.3,517.7 1009.1,506.6 1009.6,492.1 1010.8,441.4 1011.1,434.1 1011.3,429.6 1011.5,428.4 1011.8,430.2 1012.3,443.1 1013.8,502.7 1014.3,513.8 1014.5,517.4 1015.1,521.7 1020.7,521.7 1022.7,523.1 1023.5,523.2 1024.0,523.1 1024.5,522.6 1025.0,521.3 1025.2,520.0 1025.7,515.1 1026.2,506.0 1028.0,446.9 1028.2,441.8 1028.6,439.5 1028.8,441.1 1029.1,445.6 1030.6,499.1 1031.4,517.8 1032.2,511.0 1033.4,495.4 1033.7,493.7 1033.9,493.0 1034.2,493.7 1034.4,495.5 1035.9,516.7 1036.5,521.7 1039.5,522.4 1044.1,522.5 1044.8,514.4 1046.1,495.8 1046.3,493.8 1046.6,493.0 1046.8,493.7 1047.1,495.9 1048.1,510.5 1048.8,517.8 1049.3,510.6 1050.5,485.9 1050.8,484.5 1051.3,483.3 1052.3,479.6 1052.5,478.8 1053.0,478.3 1053.2,478.9 1053.5,480.6 1054.7,493.6 1055.5,497.8 1057.0,518.4 1057.5,523.2 1059.2,523.2 1059.7,515.5 1060.7,492.7 1061.0,489.0 1061.2,487.6 1061.5,488.3 1061.7,490.5 1063.2,515.1 1063.8,520.9 1064.5,513.2 1066.0,490.5 1066.3,488.8 1066.5,488.4 1066.7,488.4 1066.9,489.4 1067.2,492.4 1068.2,511.7 1068.7,518.6 1069.5,512.0 1070.7,494.9 1071.0,492.5 1071.2,491.0 1071.4,490.7 1071.7,491.3 1071.9,493.2 1073.4,514.9 1074.3,522.5 1077.0,523.2 1081.0,523.2 1081.8,515.1 1083.3,486.2 1083.5,483.2 1083.9,481.4 1084.1,482.6 1084.4,486.1 1085.4,510.3 1086.1,522.5 1087.6,522.4 1088.6,522.1 1090.6,520.3 1091.1,520.1 1091.9,510.2 1093.4,475.4 1093.6,471.6 1094.0,469.5 1094.2,470.5 1094.7,478.1 1096.2,512.9 1097.0,521.7 1100.0,522.4 1105.4,522.5 1106.2,512.3 1107.4,488.8 1107.7,486.3 1108.0,485.3 1108.2,486.1 1108.5,488.5 1110.0,516.0 1110.5,522.5 1112.2,522.5 1112.9,512.1 1114.2,488.1 1114.4,485.5 1114.7,484.5 1114.9,485.6 1115.2,488.8 1116.2,511.2 1116.9,522.5 1117.6,522.0 1119.1,520.4 1119.8,520.1 1120.3,520.4 1121.8,522.7 1122.3,523.2 1126.8,523.2 1129.9,522.5 1130.4,522.6 1132.4,524.0 1136.4,524.0 1138.4,523.9 1141.3,523.1 1142.1,522.5 1142.6,521.6 1143.1,520.0 1144.3,514.6 1144.6,513.8 1145.0,513.2 1145.3,513.4 1145.5,514.0 1147.0,521.5 1147.5,523.2 1150.1,522.5 1150.8,521.0 1152.1,517.6 1152.6,517.0 1153.1,517.6 1154.6,522.2 1155.1,523.2 1166.1,523.2 1167.1,511.5 1168.8,480.1 1169.6,469.6 1170.1,466.2 1170.3,465.9 1171.8,464.7 1172.5,464.4 1172.7,465.0 1173.0,466.8 1173.5,473.5 1175.2,509.2 1176.2,522.5 1186.3,522.5 1188.8,523.1 1190.0,523.2 1201.5,523.2 1202.0,521.3 1202.2,519.6 1202.7,513.7 1203.2,504.0 1204.5,469.9 1204.7,465.0 1205.0,462.0 1205.2,461.2 1205.4,462.7 1205.7,466.7 1206.7,495.1 1207.4,509.3 1208.1,482.8 1209.4,421.8 1209.6,415.2 1209.9,412.5 1210.1,414.6 1210.6,430.3 1212.1,502.6 1212.9,520.9 1213.4,517.8 1213.9,511.8 1215.7,470.6 1215.9,466.7 1216.3,464.3 1216.5,465.5 1216.8,468.9 1218.3,509.2 1219.1,523.2 1228.4,523.2 1229.6,523.0 1231.6,522.5 1242.0,522.4 1245.3,521.7 1246.0,492.7 1247.3,425.8 1247.5,418.5 1247.8,415.6 1248.0,418.0 1248.3,424.8 1249.8,503.2 1250.3,521.7 1250.8,520.7 1251.8,517.7 1252.3,517.0 1252.8,517.5 1253.8,519.8 1254.5,520.9 1255.3,498.5 1256.5,447.0 1256.8,441.3 1257.0,439.1 1257.3,445.3 1258.4,520.1 1259.6,440.3 1259.9,434.4 1260.2,436.1 1260.7,448.7 1262.2,506.9 1262.9,521.7 1275.6,521.7 1276.1,519.7 1276.6,514.5 1277.3,494.2 1277.8,467.9 1279.1,375.6 1279.3,362.3 1279.6,354.1 1279.8,351.9 1280.0,355.7 1280.3,366.7 1281.8,492.2 1282.3,521.7 1283.1,520.8 1284.3,518.9 1284.8,518.6 1285.3,518.9 1286.8,521.1 1287.4,521.7 1287.9,521.5 1288.4,521.1 1288.9,520.3 1289.4,518.6 1290.9,510.4 1291.1,509.3 1291.6,508.5 1291.8,508.8 1292.1,509.7 1293.6,520.0 1294.1,522.5 1295.1,521.8 1296.9,519.0 1297.5,518.6 1298.0,509.6 1298.7,479.4 1300.2,372.5 1300.5,360.9 1300.8,354.2 1301.1,360.0 1301.3,376.3 1302.3,482.3 1302.9,520.1 1303.4,479.4 1304.6,329.9 1304.9,314.7 1305.1,311.1 1305.3,315.8 1305.6,329.4 1307.1,484.4 1307.6,520.9 1310.1,521.6 1312.9,521.7 1314.9,522.3 1316.1,522.4 1320.3,522.4 1323.3,521.7 1324.1,513.9 1325.0,521.7 1325.7,478.7 1327.2,327.4 1327.5,311.3 1327.8,302.0 1328.1,308.4 1328.3,326.8 1329.3,454.5 1330.0,518.6 1332.8,518.7 1334.6,521.7 1335.6,493.1 1335.9,488.3 1336.2,491.6 1337.1,521.7 1340.1,522.5 1341.4,522.4 1342.1,522.1 1342.9,521.3 1344.6,517.5 1345.2,517.0 1345.4,517.3 1345.7,517.9 1346.9,521.7 1350.5,521.7 1351.5,521.5 1352.2,521.1 1352.7,520.4 1354.2,517.0 1354.5,516.6 1355.0,516.3 1355.2,516.5 1355.5,517.3 1356.6,521.7 1357.9,521.2 1359.6,519.0 1360.3,518.6 1360.8,519.2 1362.0,521.7 1373.8,521.6 1375.0,521.3 1377.0,520.1 1381.7,520.1 1382.9,519.9 1385.2,518.7 1387.4,518.5 1389.8,517.8 1390.3,515.1 1391.3,507.2 1391.6,505.9 1391.9,505.4 1392.1,506.4 1393.1,517.9 1393.2,518.6 1393.4,518.3 1393.9,517.5 1394.4,517.0 1395.4,451.2 1395.7,440.1 1396.0,444.0 1396.2,454.8 1397.0,500.7 1397.4,518.6 1397.9,503.4 1398.7,471.1 1398.9,464.6 1399.1,463.1 1399.3,465.9 1399.6,473.5 1400.3,505.9 1400.8,518.6 1401.3,515.2 1402.3,505.3 1402.5,503.7 1402.8,503.1 1403.1,504.3 1404.1,518.6 1406.1,517.2 1406.7,517.0 1407.2,517.2 1409.2,518.6 1415.9,518.6 1416.7,518.0 1417.2,517.3 1418.9,513.4 1419.3,513.2 1421.0,513.2 1422.0,493.9 1422.3,490.7 1422.6,492.9 1423.5,513.2 1424.4,500.0 1424.6,500.6 1424.9,502.4 1425.6,510.2 1426.0,513.2 1426.5,513.9 1427.7,517.0 1430.5,517.7 1434.2,517.8 1436.2,517.7 1438.4,517.0 1443.4,517.0 1445.7,516.3 1448.0,515.9 1451.3,514.9 1453.5,514.6 1456.8,513.4 1458.1,513.2 1458.8,512.1 1460.1,509.7 1460.6,509.3 1460.8,507.8 1462.6,491.1 1463.4,487.5 1464.4,477.2 1465.0,473.7 1465.8,466.8 1466.1,465.4 1466.4,465.7 1466.6,466.7 1467.9,474.2 1468.7,476.4 1470.2,486.7 1470.7,489.0 1470.9,489.5 1471.2,490.4 1472.9,502.0 1473.2,503.1 1473.7,503.6 1474.2,505.1 1476.0,512.3 1476.6,513.9 1477.3,514.2 1479.3,515.9 1480.7,516.6 1483.0,519.3 1484.0,520.1" fill="none" stroke="#000" stroke-width="2.25" stroke-linejoin="round"/>
<line x1="168.4" y1="557.5" x2="168.4" y2="780" stroke="#999" stroke-width="0.8"/>
<path d="M169.2,774.3 169.7,738.6 170.9,604.2 171.2,587.6 171.5,580.4 171.7,590.1 172.0,617.0 172.7,734.0 173.2,784.0 174.2,726.5 174.5,715.5 174.8,721.2 175.7,770.0 176.4,739.8 177.1,790.7 177.2,793.1 177.4,789.5 177.9,777.6 178.4,757.5 179.7,687.1 179.9,677.0 180.2,670.8 180.4,669.1 180.6,684.8 181.4,791.5 182.4,778.8 182.7,777.5 182.9,779.4 183.7,792.6 184.5,786.0 185.7,770.1 186.0,768.0 186.4,766.7 186.6,769.0 187.7,796.9 188.2,789.6 189.0,773.8 189.2,770.4 189.5,769.4 189.7,771.0 190.9,794.7 191.9,685.0 192.2,661.4 192.4,653.1 192.7,658.5 192.9,673.6 193.9,768.5 194.4,796.9 195.1,792.9 196.6,778.8 196.9,777.3 197.2,776.4 197.5,777.7 198.7,796.9 199.5,708.2 199.9,679.2 200.1,683.2 200.4,694.6 201.4,765.9 201.8,787.2 202.3,749.9 203.6,609.3 203.8,591.9 204.1,584.4 204.4,588.5 204.6,600.2 206.1,737.8 207.0,786.1 207.7,760.8 209.0,699.1 209.2,691.1 209.6,686.1 209.9,689.0 210.1,697.3 211.4,770.8 211.9,792.6 213.2,714.7 213.3,713.2 213.5,716.6 214.7,759.2 215.2,747.6 216.4,704.1 216.7,698.7 216.9,696.5 217.2,701.4 218.5,775.3 219.0,745.9 220.2,635.1 220.5,621.4 220.8,615.5 221.0,618.8 221.5,643.5 222.5,724.3 223.3,769.4 224.0,790.1 224.2,792.6 224.4,790.2 224.9,781.4 225.4,763.9 225.9,735.1 227.2,637.5 227.4,624.2 227.9,615.1 228.1,620.7 228.4,636.7 229.4,742.5 229.9,784.0 230.7,756.5 231.1,747.6 231.3,749.3 231.6,754.1 232.3,775.0 232.8,784.0 233.3,768.1 234.0,733.9 234.3,726.5 234.5,724.3 234.8,725.6 235.0,729.2 236.5,772.1 237.4,787.2 238.1,759.5 239.4,695.9 239.6,689.0 239.9,686.3 240.1,689.4 241.0,716.1 242.0,690.9 242.2,699.4 243.1,772.1 243.6,763.2 244.6,738.3 244.9,735.6 245.2,736.7 245.4,739.9 246.9,777.7 247.7,789.9 248.7,731.5 249.1,720.4 249.3,722.6 249.6,729.0 250.6,770.8 251.1,787.2 251.9,761.5 253.4,670.6 253.6,660.8 254.0,655.2 254.2,657.8 254.5,665.4 256.0,754.3 256.7,782.8 257.2,791.8 257.7,795.8 258.2,797.4 258.7,797.9 259.2,798.0 259.7,798.0 260.0,796.7 260.7,788.0 261.2,776.9 262.5,738.6 262.7,733.2 263.0,730.0 263.2,729.3 263.4,730.5 263.9,739.5 265.4,781.1 265.9,789.0 266.4,793.1 266.9,795.0 267.4,795.8 267.8,795.9 268.0,794.6 268.8,787.9 270.0,772.0 270.3,770.0 270.6,768.8 270.9,769.4 271.4,773.8 272.9,794.2 273.5,798.7 273.7,797.6 274.2,793.6 274.7,785.7 275.2,772.7 276.5,728.5 276.7,722.5 277.2,718.4 277.4,719.8 277.9,730.3 278.9,764.7 279.7,783.9 280.4,792.7 280.9,794.9 281.4,795.7 282.1,796.1 282.6,788.9 284.3,740.1 284.6,735.4 285.0,732.7 285.2,733.9 285.7,742.6 286.7,771.1 287.5,787.1 288.0,792.7 288.2,794.4 288.7,796.2 289.0,796.7 292.7,796.6 293.7,796.2 295.2,795.3 295.8,795.1 296.3,791.1 296.8,783.8 298.3,746.2 298.6,741.5 298.8,738.7 299.1,737.9 299.3,738.9 299.8,746.5 301.3,781.5 301.8,788.0 302.3,791.6 302.7,793.0 303.5,789.5 305.2,771.9 305.5,770.3 305.8,769.4 306.1,770.7 307.3,789.3 307.8,785.2 309.1,769.8 309.3,767.9 309.6,767.1 309.9,767.6 310.4,771.4 311.4,783.7 312.1,790.6 312.9,793.7 313.6,794.7 314.1,781.2 315.4,730.2 315.6,723.9 315.9,721.3 316.2,721.9 316.7,727.1 318.2,751.2 318.7,755.7 319.3,758.7 320.1,750.9 321.6,723.6 321.8,720.7 322.2,719.0 322.5,720.4 323.0,730.5 324.0,763.5 324.7,782.0 325.2,788.5 325.5,790.5 326.0,792.6 326.2,793.1 326.7,793.6 327.9,793.7 328.4,793.5 328.9,793.0 329.2,792.5 329.7,790.5 330.4,783.8 331.9,761.2 332.4,757.8 334.5,756.3 335.0,756.2 335.3,757.5 336.7,781.4 337.5,773.6 338.7,755.7 339.0,753.7 339.3,752.9 339.5,753.7 339.8,756.0 341.3,782.4 341.8,788.7 342.3,792.4 342.3,792.6 346.8,792.6 347.6,770.1 348.8,718.3 349.1,712.6 349.4,710.3 349.6,711.8 349.9,715.9 350.6,733.5 351.1,740.4 351.8,732.8 353.1,715.4 353.3,713.5 353.6,712.7 353.8,714.1 354.3,724.5 355.8,772.6 356.3,781.6 357.0,787.1 357.5,784.2 358.5,775.2 359.0,772.4 359.2,772.1 359.7,772.7 360.7,775.8 361.2,776.9 361.7,769.2 362.9,738.9 363.4,730.7 363.7,729.4 365.4,728.6 365.6,730.3 365.9,735.1 366.9,768.7 367.6,785.6 368.1,783.9 368.3,782.1 369.1,770.5 369.8,744.4 371.1,686.4 371.3,680.0 371.6,677.2 371.9,679.3 372.1,685.2 373.6,755.5 374.3,777.0 374.8,772.0 375.8,757.4 376.1,755.0 376.4,754.0 376.6,754.7 377.1,759.9 378.6,784.0 379.1,788.5 379.7,791.3 380.2,788.5 381.2,780.5 381.5,779.1 381.8,778.6 382.0,778.9 382.5,781.1 384.0,791.1 384.8,793.7 385.3,792.3 385.8,790.0 387.3,780.0 387.5,779.1 387.8,778.7 388.1,779.0 388.3,780.0 389.8,791.3 390.7,795.3 391.4,791.8 392.9,779.3 393.2,777.9 393.6,777.1 393.8,777.5 394.3,780.3 395.8,792.9 396.6,796.2 398.3,796.0 400.8,795.4 401.3,794.5 402.1,791.6 403.6,781.4 403.8,780.2 404.2,779.6 404.4,779.9 404.9,782.0 405.9,789.1 406.7,793.0 407.4,794.8 407.9,795.3 408.4,795.5 409.1,791.3 410.6,776.6 410.9,775.0 411.3,774.1 411.5,774.7 411.8,776.3 412.5,784.0 413.1,788.4 413.9,784.1 414.9,776.2 415.4,774.2 415.5,774.1 415.7,774.6 416.2,777.7 417.2,788.0 418.0,793.7 418.5,795.8 419.0,796.8 419.4,797.1 420.1,796.3 420.9,793.3 421.4,788.9 423.1,763.8 423.4,762.0 423.6,761.5 423.8,762.4 424.8,772.1 424.9,772.6 425.2,771.4 426.2,763.2 426.6,761.6 427.1,758.1 428.9,734.3 429.1,732.0 429.5,730.7 429.7,731.9 430.2,740.8 431.2,770.1 432.0,786.4 432.7,793.9 433.2,795.8 433.7,796.5 434.2,794.0 434.7,789.1 436.4,755.7 436.9,750.8 437.1,750.6 437.3,751.4 437.6,753.8 439.1,782.6 439.6,789.5 440.1,793.5 440.6,795.5 441.3,796.5 444.6,796.5 445.4,791.3 446.9,772.8 447.4,769.8 447.5,769.6 447.8,770.1 448.0,771.5 449.0,780.8 449.7,785.5 450.2,781.0 451.5,763.3 452.0,758.6 452.2,757.8 452.7,758.1 454.2,761.1 454.8,761.8 455.5,757.5 456.8,747.5 457.0,746.4 457.3,746.0 457.5,746.9 457.8,749.5 459.3,780.3 460.2,791.1 460.9,777.6 462.2,742.8 462.4,737.8 462.7,734.9 462.9,734.1 463.1,735.0 463.6,741.8 465.1,772.9 465.6,778.7 466.1,781.7 469.1,780.9 469.3,780.5 470.1,778.6 471.6,772.2 471.8,771.7 472.1,771.4 472.4,772.0 472.6,773.7 473.9,789.1 474.5,794.4 475.0,793.9 475.5,793.1 477.0,789.4 477.8,788.5 478.5,785.9 479.3,778.9 480.8,753.7 481.0,751.0 481.4,749.3 481.7,749.9 481.9,751.6 482.9,762.8 483.4,766.8 483.9,762.4 484.7,753.2 484.9,751.4 485.1,750.9 485.4,751.5 485.9,756.0 487.1,773.2 487.6,777.9 487.9,778.2 488.4,780.8 489.4,789.2 490.1,794.0 490.9,796.1 491.4,796.7 492.2,796.9 492.9,792.9 493.4,787.0 494.9,754.4 495.4,746.8 495.7,745.5 496.0,746.5 496.2,749.3 497.7,782.8 498.6,794.6 499.4,774.7 500.6,728.8 500.9,723.8 501.1,721.8 501.4,723.1 501.9,732.6 503.4,776.5 503.9,784.8 504.5,789.9 505.3,786.1 506.8,770.4 507.3,766.8 507.5,766.2 507.8,766.7 508.0,768.4 508.8,775.3 509.2,778.0 509.7,778.5 511.2,782.9 512.1,784.4 512.6,783.0 513.1,780.5 514.6,770.0 514.8,769.0 515.1,768.6 515.4,769.0 515.6,770.1 517.1,783.0 517.7,786.0 518.2,784.2 519.2,778.6 519.4,777.7 519.7,777.3 519.9,777.7 520.4,780.5 521.4,789.6 522.2,794.7 522.9,797.1 523.4,797.6 523.9,797.9 525.7,798.0 526.7,797.7 527.2,797.3 527.7,796.2 528.5,792.7 530.0,779.8 530.2,778.4 530.6,777.4 530.9,778.1 531.1,779.9 531.9,787.8 532.3,790.9 533.1,785.8 534.6,767.8 534.8,765.9 535.2,764.8 535.4,765.1 535.7,766.0 536.7,772.0 537.4,775.1 538.9,773.6 539.1,773.5 539.3,774.0 539.8,777.7 540.8,788.1 541.3,791.0 542.0,784.9 543.3,771.0 543.5,769.4 543.8,768.8 544.0,769.4 544.5,773.6 545.8,790.5 546.7,797.3 554.4,797.4 555.4,797.1 555.9,796.6 556.4,795.3 556.9,792.8 558.6,775.1 558.9,773.3 559.3,772.1 559.6,772.6 559.8,773.9 561.3,789.2 561.8,792.9 562.3,795.0 562.7,795.9 562.9,795.9 563.9,795.5 565.7,794.4 566.3,794.4 568.6,797.5 569.1,795.8 569.6,792.4 571.3,769.4 571.6,767.2 571.9,765.9 572.2,766.5 572.4,768.4 573.7,786.8 574.4,795.0 574.5,795.2 575.5,794.9 576.2,793.6 577.0,789.7 579.0,764.6 579.9,760.5 580.9,754.0 581.2,752.9 581.4,752.5 581.7,753.4 581.9,755.9 582.9,773.6 583.6,782.6 584.9,775.1 585.3,773.9 585.6,774.8 586.5,783.4 586.8,783.6 587.0,784.3 588.5,792.7 589.2,795.2 589.7,794.4 590.7,791.9 591.2,791.3 592.5,778.8 593.8,777.8 594.0,778.7 594.3,780.9 595.0,790.7 595.4,794.5 596.9,778.3 597.1,777.8 597.4,778.1 598.8,782.6 600.1,778.5 601.0,776.9 601.7,773.5 603.2,761.7 603.5,760.4 603.9,759.6 604.1,760.2 604.4,761.7 605.1,768.2 606.1,773.1 607.1,785.2 607.7,791.3 608.9,789.7 609.4,783.2 610.2,769.4 610.4,766.6 610.6,766.0 610.9,766.7 611.1,768.7 612.1,782.7 612.8,789.7 613.6,786.0 615.1,773.0 615.3,771.6 615.9,769.7 617.7,757.2 617.9,756.1 618.2,755.7 618.5,756.4 618.7,758.6 620.2,783.2 620.7,789.0 621.5,784.6 622.7,774.7 623.0,773.6 623.3,773.1 623.5,773.6 623.8,775.1 625.3,791.4 625.8,795.3 626.5,789.0 627.8,774.6 628.0,773.0 628.3,772.4 628.8,768.1 630.3,748.8 630.6,747.0 630.8,746.2 631.1,747.0 631.3,749.1 632.3,764.0 633.0,771.6 633.3,771.8 633.5,772.5 634.5,777.1 635.3,779.3 636.6,792.1 637.1,796.1 637.6,794.5 638.1,791.4 639.8,770.1 640.1,768.1 640.5,766.8 640.7,767.4 641.0,769.2 642.5,789.8 643.2,796.1 645.2,796.1 645.9,787.2 647.4,755.6 647.7,752.2 648.0,750.2 648.3,751.2 648.5,754.0 649.5,773.6 650.2,783.5 650.5,783.8 650.7,784.6 651.7,790.2 652.2,792.1 653.0,793.0 654.0,795.2 654.8,796.5 655.3,797.0 657.8,796.2 658.3,792.2 659.6,777.4 659.8,775.9 660.0,775.6 660.3,776.0 660.5,777.3 662.0,791.8 662.8,796.5 662.9,797.0 665.4,797.0 666.2,785.9 667.4,760.5 667.7,757.7 667.9,756.6 668.2,757.6 668.4,760.4 669.4,780.0 670.1,789.9 672.2,789.9 672.7,782.3 673.7,760.1 673.9,756.5 674.2,755.0 674.4,755.8 674.7,757.9 676.2,778.8 676.4,780.4 676.6,780.7 677.1,783.5 678.1,792.2 678.9,797.0 679.4,794.8 679.9,790.5 681.7,761.1 681.9,758.3 682.3,756.6 682.5,757.6 682.8,760.5 683.5,772.5 684.0,777.2 685.2,770.4 685.6,769.3 685.9,769.7 686.6,773.0 687.2,774.5 687.5,775.8 689.0,791.5 689.7,796.5 689.9,797.0 692.4,797.0 692.9,794.1 693.4,788.3 695.1,748.5 695.4,744.7 695.8,742.4 696.0,743.6 696.3,746.9 697.8,785.5 698.3,794.7 700.8,794.7 701.3,793.0 701.8,790.0 703.1,779.1 703.6,776.1 703.8,775.7 705.4,774.3 705.9,774.1 707.4,747.9 707.6,747.2 707.8,747.9 709.3,761.4 710.3,758.7 710.6,758.3 711.1,754.3 712.1,742.7 712.3,740.8 712.6,740.1 712.9,741.0 713.1,743.5 714.1,756.8 714.8,761.2 716.3,785.7 716.8,791.5 717.6,782.7 719.1,751.7 719.6,746.6 719.7,746.4 720.0,747.9 721.0,765.2 721.6,768.7 723.1,789.7 723.6,794.7 724.1,792.2 724.6,787.9 725.8,771.9 726.3,767.7 726.6,767.0 726.9,767.9 728.1,782.0 728.9,771.7 730.1,747.7 730.4,745.1 730.7,744.0 730.9,745.0 731.4,752.1 732.9,784.8 733.7,793.1 734.2,791.5 734.4,790.1 734.9,785.2 735.4,777.0 736.7,748.2 736.9,744.1 737.2,741.6 737.4,740.9 737.7,742.0 737.9,745.2 739.4,781.4 739.9,790.0 740.7,788.9 741.4,785.5 743.2,767.5 743.4,765.7 743.8,764.7 744.3,765.3 745.8,768.5 746.3,773.0 747.8,793.3 748.0,795.5 748.8,794.7 749.5,791.4 750.0,786.8 751.5,762.9 751.8,759.9 752.0,758.1 752.2,757.5 752.5,758.5 752.7,761.1 753.7,779.3 754.4,788.4 754.9,785.5 755.9,776.9 756.2,775.5 756.5,775.0 756.7,775.4 757.2,778.5 758.7,792.9 759.2,795.6 759.7,797.1 760.2,797.7 760.7,797.9 763.9,797.9 765.2,797.6 766.7,796.6 767.4,796.4 767.9,794.4 768.4,790.4 770.2,763.3 770.4,760.7 770.8,759.2 771.0,759.5 771.3,760.5 772.8,771.6 773.3,774.2 774.6,766.1 775.0,764.7 775.3,765.4 775.8,770.3 777.0,789.6 777.5,794.8 778.0,794.0 778.3,793.2 779.0,788.3 780.8,762.5 781.0,759.9 781.4,758.4 781.7,759.5 781.9,762.5 782.9,782.2 783.4,789.3 783.9,783.7 784.4,774.0 785.9,732.2 786.2,728.3 786.5,726.7 786.7,728.4 787.0,733.1 788.0,763.4 788.5,774.2 789.0,773.0 790.2,768.5 790.7,767.9 790.9,768.5 791.4,772.7 792.7,789.6 793.6,796.4 794.1,795.4 794.6,793.4 796.3,779.6 796.6,778.2 796.9,777.4 797.2,777.9 797.7,781.0 799.2,794.9 799.5,796.4 800.0,794.8 800.5,791.3 801.0,784.8 802.5,751.5 802.7,747.4 803.0,744.9 803.2,744.2 803.4,745.2 803.9,752.8 805.4,787.6 806.2,796.5 806.7,795.4 807.2,792.6 808.0,781.6 808.5,767.5 809.7,717.6 810.0,710.3 810.2,705.9 810.4,704.6 810.7,706.3 811.2,718.8 812.7,776.3 813.2,787.1 813.7,792.9 814.2,795.5 814.6,796.5 817.4,796.5 819.9,797.2 823.1,797.3 825.5,796.5 826.5,702.0 826.7,696.7 826.9,698.5 827.2,703.6 828.7,763.7 829.4,783.0 829.7,787.0 829.9,787.2 830.4,788.6 831.9,795.3 832.4,796.5 833.1,797.3 833.8,791.0 835.1,776.6 835.3,775.0 835.6,774.3 836.1,759.2 836.8,726.9 837.1,720.5 837.3,718.9 837.5,720.6 837.8,725.3 838.8,757.9 839.5,774.3 840.5,751.8 840.7,750.6 840.9,742.7 841.9,691.7 842.2,683.6 842.3,681.7 842.6,682.9 842.8,686.2 844.1,718.4 844.8,732.8 844.9,733.2 845.4,733.8 846.6,736.4 846.8,737.5 848.2,760.1 848.7,760.6 849.9,762.5 850.4,757.5 851.4,742.9 851.7,740.5 852.0,739.5 852.2,740.9 852.5,745.0 853.5,772.9 854.1,787.0 854.6,783.2 855.9,769.0 856.1,767.6 856.3,767.3 856.6,767.8 856.8,769.4 858.3,788.3 859.2,795.0 860.0,786.5 861.2,767.1 861.5,765.0 861.7,764.1 862.0,764.5 862.2,765.4 863.0,769.6 863.4,771.2 863.9,771.5 865.1,772.8 865.4,773.3 865.9,777.2 867.1,792.4 867.6,796.6 871.1,796.4 873.5,795.8 873.8,795.4 874.3,794.1 874.8,791.7 876.3,780.3 876.5,779.1 876.9,778.4 877.2,778.8 877.4,780.1 878.9,794.7 879.4,798.2 881.2,798.1 883.6,797.4 887.3,797.4 889.8,798.1 892.0,798.2 893.2,797.8 894.7,796.8 895.5,796.6 896.0,791.2 896.5,781.9 898.0,741.7 898.2,738.0 898.5,736.5 898.7,736.9 899.2,740.5 900.7,756.7 901.9,762.8 903.4,785.5 904.2,793.5 904.7,786.1 906.0,758.9 906.2,756.1 906.4,755.5 906.7,756.3 906.9,758.6 908.4,784.9 908.9,791.1 909.7,782.5 910.9,762.5 911.2,760.3 911.5,759.4 911.7,760.0 912.2,764.3 913.7,784.3 914.2,788.0 914.8,790.3 915.6,781.0 916.8,759.6 917.1,757.2 917.4,756.3 917.6,757.1 917.9,759.3 919.4,785.0 919.9,791.1 920.7,782.9 921.9,764.0 922.2,761.9 922.4,761.0 922.7,761.7 923.2,766.8 924.7,790.1 925.2,794.5 925.7,796.8 926.2,797.9 926.6,798.3 932.5,798.3 933.0,794.3 933.5,787.5 935.0,757.8 935.3,755.1 935.6,753.9 935.8,754.6 936.1,756.3 936.8,763.7 937.3,766.6 938.8,761.2 939.0,761.1 939.2,762.7 940.6,792.8 941.1,787.8 942.4,770.7 942.6,769.8 943.2,769.5 943.7,769.0 945.4,765.6 946.0,765.1 946.3,765.8 946.5,767.9 948.0,791.9 948.6,797.5 950.3,797.3 952.3,796.0 953.5,795.7 954.0,795.2 954.5,793.8 955.0,791.2 955.5,786.7 957.0,768.5 957.3,767.1 957.5,766.7 957.8,767.7 958.0,770.4 959.0,788.6 959.5,795.2 960.0,792.4 960.5,787.6 962.0,767.0 962.3,765.1 962.6,764.3 962.8,764.9 963.3,769.5 964.3,784.5 965.1,792.8 965.6,795.8 966.3,797.6 969.0,798.3 972.3,798.4 974.1,798.2 976.1,797.6 978.1,797.4 979.1,796.8 980.9,794.0 981.4,793.6 981.7,793.7 982.2,794.5 983.7,797.9 984.2,798.6 984.7,798.9 985.9,799.2 991.3,799.2 992.5,799.1 993.5,798.8 995.0,797.9 995.8,797.6 996.5,793.3 997.3,783.1 998.5,758.8 998.8,755.7 999.1,753.9 999.4,754.7 999.6,757.1 1001.1,784.8 1002.0,794.5 1002.8,788.5 1004.0,773.0 1004.3,770.8 1004.5,769.5 1004.7,769.1 1005.0,769.8 1005.2,771.9 1006.5,790.5 1007.1,796.8 1007.6,795.7 1008.1,792.9 1008.8,781.5 1009.3,766.8 1010.6,715.1 1010.8,707.6 1011.1,703.0 1011.3,701.7 1011.5,703.5 1012.0,716.7 1013.5,777.4 1014.0,788.8 1014.3,792.4 1014.8,796.9 1020.5,796.9 1022.5,798.3 1023.3,798.4 1023.8,798.3 1024.3,797.8 1024.8,796.4 1025.0,795.0 1025.5,790.0 1026.0,780.3 1027.8,718.0 1028.0,712.6 1028.3,710.1 1028.6,711.8 1028.8,716.6 1030.3,773.1 1031.2,792.9 1031.9,786.0 1033.2,770.1 1033.4,768.3 1033.7,767.6 1034.0,768.3 1034.2,770.1 1035.7,791.8 1036.2,796.9 1039.2,797.6 1043.8,797.7 1044.6,789.5 1045.8,770.5 1046.1,768.5 1046.3,767.6 1046.6,768.4 1046.9,770.5 1047.9,785.4 1048.6,793.0 1049.1,785.6 1050.3,760.3 1050.6,758.9 1051.1,757.7 1052.1,753.9 1052.3,753.2 1052.8,752.6 1053.0,753.2 1053.3,754.9 1054.5,768.2 1055.3,772.5 1056.8,793.5 1057.3,798.5 1059.0,798.5 1059.5,790.7 1060.5,767.4 1060.8,763.6 1061.0,762.1 1061.3,762.9 1061.5,765.1 1063.0,790.2 1063.6,796.2 1064.3,788.3 1065.8,765.1 1066.1,763.3 1066.3,762.9 1066.5,762.9 1066.7,764.0 1067.0,767.0 1068.0,786.7 1068.5,793.8 1069.3,787.0 1070.5,769.6 1070.8,767.2 1071.0,765.7 1071.2,765.3 1071.5,765.9 1071.7,767.8 1073.2,790.0 1074.1,797.8 1076.8,798.5 1080.8,798.6 1081.6,790.2 1083.1,760.8 1083.3,757.6 1083.7,755.8 1083.9,757.1 1084.2,760.6 1085.2,785.3 1085.9,797.8 1087.4,797.7 1088.4,797.4 1090.4,795.6 1090.9,795.4 1091.7,785.2 1093.2,749.3 1093.4,745.4 1093.8,743.2 1094.0,744.3 1094.5,752.0 1096.0,787.9 1096.8,797.0 1099.8,797.8 1105.3,797.8 1106.0,787.4 1107.3,763.5 1107.5,760.9 1107.8,759.8 1108.0,760.7 1108.3,763.1 1109.8,791.2 1110.3,797.8 1112.0,797.8 1112.8,787.2 1114.0,762.8 1114.3,760.1 1114.5,759.0 1114.8,760.2 1115.0,763.5 1116.0,786.3 1116.7,797.8 1117.5,797.4 1119.0,795.8 1119.6,795.5 1120.1,795.8 1121.6,798.1 1122.1,798.7 1126.9,798.6 1129.7,797.9 1130.2,798.0 1132.2,799.5 1136.0,799.5 1138.2,799.3 1141.2,798.6 1141.9,798.0 1142.4,797.0 1142.9,795.4 1144.2,789.9 1144.4,789.0 1144.9,788.4 1145.1,788.6 1145.4,789.3 1146.9,796.9 1147.4,798.7 1149.9,797.9 1150.7,796.4 1151.9,792.9 1152.5,792.4 1153.0,792.9 1154.5,797.6 1155.0,798.7 1166.0,798.7 1167.0,786.7 1169.2,746.9 1169.7,741.8 1170.0,740.5 1170.2,740.2 1170.7,740.3 1172.4,741.5 1172.6,742.1 1172.9,743.8 1173.6,754.8 1175.1,785.0 1176.1,798.0 1186.2,798.0 1188.7,798.7 1189.9,798.8 1201.4,798.8 1201.9,796.8 1202.1,795.1 1202.6,789.1 1203.1,779.2 1204.4,744.4 1204.6,739.4 1204.9,736.3 1205.1,735.5 1205.3,736.9 1205.6,741.1 1206.6,770.0 1207.3,784.6 1208.0,757.0 1209.3,693.7 1209.5,686.7 1209.8,683.9 1210.0,686.1 1210.5,702.4 1212.0,777.4 1212.8,796.5 1213.3,793.3 1213.8,787.2 1215.6,745.1 1215.8,741.1 1216.2,738.7 1216.5,739.9 1216.7,743.4 1218.2,784.4 1219.1,798.8 1228.3,798.8 1229.6,798.6 1231.6,798.1 1242.0,798.0 1245.2,797.3 1246.0,767.5 1247.2,698.8 1247.5,691.2 1247.7,688.2 1248.0,690.6 1248.2,697.7 1249.7,778.3 1250.3,797.3 1250.8,796.3 1251.8,793.3 1252.3,792.6 1252.8,793.0 1253.8,795.4 1254.5,796.5 1255.2,772.7 1256.5,717.9 1256.7,711.9 1257.0,709.5 1257.3,716.1 1258.4,795.7 1259.6,716.1 1259.9,710.1 1260.1,711.8 1260.6,724.4 1262.1,782.6 1262.9,797.3 1275.6,797.4 1276.1,795.4 1276.6,790.2 1277.3,769.9 1277.8,743.6 1279.1,651.0 1279.3,637.5 1279.6,629.2 1279.8,626.9 1280.0,630.7 1280.3,641.7 1281.8,767.6 1282.3,797.4 1283.1,796.5 1284.3,794.5 1284.8,794.2 1285.3,794.5 1286.8,796.8 1287.4,797.4 1287.9,797.2 1288.4,796.8 1288.9,795.9 1289.4,794.3 1290.9,785.8 1291.1,784.8 1291.6,783.9 1291.8,784.3 1292.1,785.2 1293.6,795.7 1294.1,798.2 1295.1,797.6 1296.9,794.7 1297.5,794.2 1298.0,785.0 1298.7,754.0 1300.2,643.8 1300.5,631.9 1300.8,624.9 1301.1,630.9 1301.3,647.7 1302.3,756.9 1302.9,795.8 1303.4,755.4 1304.6,606.8 1304.9,591.8 1305.1,588.2 1305.3,592.9 1305.6,606.4 1307.1,760.4 1307.6,796.6 1310.1,797.3 1312.9,797.5 1314.9,798.1 1316.1,798.2 1320.3,798.2 1323.3,797.5 1324.1,789.5 1325.0,797.5 1325.7,752.9 1327.2,595.7 1327.5,578.9 1327.8,569.3 1328.1,576.0 1328.3,595.1 1329.3,727.7 1330.0,794.3 1332.6,794.3 1332.8,794.4 1334.6,797.5 1335.6,763.1 1335.9,757.3 1336.2,761.3 1337.1,797.5 1340.1,798.3 1341.4,798.2 1342.1,797.9 1342.9,797.1 1344.6,793.2 1345.2,792.8 1345.4,793.0 1345.7,793.6 1346.9,797.5 1350.5,797.5 1351.5,797.4 1352.2,796.9 1352.7,796.2 1354.2,792.8 1354.5,792.3 1355.0,792.0 1355.2,792.3 1355.5,793.0 1356.6,797.5 1357.9,797.0 1359.6,794.8 1360.3,794.4 1360.8,795.0 1362.0,797.5 1373.8,797.5 1375.0,797.2 1377.0,796.0 1381.7,796.0 1382.9,795.8 1385.2,794.5 1387.4,794.3 1389.8,793.6 1390.3,790.9 1391.3,782.8 1391.6,781.5 1391.9,781.0 1392.1,782.0 1393.1,793.7 1393.2,794.4 1393.4,794.1 1393.9,793.3 1394.4,792.8 1395.4,722.6 1395.7,710.8 1396.0,715.0 1396.2,726.4 1397.0,775.4 1397.4,794.4 1397.9,780.4 1398.7,750.6 1398.9,744.6 1399.1,743.2 1399.3,745.8 1399.6,752.8 1400.3,782.8 1400.8,794.4 1401.3,791.0 1402.3,780.9 1402.5,779.3 1402.8,778.6 1403.1,779.8 1404.1,794.5 1406.1,793.0 1406.7,792.9 1407.2,793.0 1409.2,794.5 1415.9,794.5 1416.7,793.9 1417.2,793.2 1418.9,789.2 1419.3,788.9 1421.0,788.9 1422.0,761.0 1422.3,756.3 1422.6,759.5 1423.5,788.9 1424.4,775.5 1424.6,776.2 1424.9,778.0 1425.6,785.9 1426.0,789.0 1426.5,789.7 1427.7,792.9 1430.5,793.6 1433.9,793.7 1436.2,793.6 1438.4,792.9 1443.4,792.9 1445.7,792.2 1448.0,791.8 1451.3,790.8 1453.5,790.5 1456.8,789.2 1458.1,789.0 1458.8,787.9 1460.1,785.4 1460.6,785.1 1460.8,783.6 1462.6,766.5 1463.4,762.8 1464.4,752.3 1464.8,750.2 1465.8,734.1 1466.1,731.4 1466.4,732.1 1466.6,733.9 1467.6,745.9 1468.1,750.1 1468.4,750.6 1468.9,752.9 1470.4,763.3 1471.2,765.7 1472.4,774.7 1473.2,778.7 1473.7,779.3 1474.0,780.0 1475.7,787.3 1476.6,789.8 1477.3,790.1 1479.3,791.9 1480.7,792.5 1483.0,795.3 1484.0,796.2" fill="none" stroke="#000" stroke-width="2.25" stroke-linejoin="round"/><path d="M166.5,1152.6 172.0,1152.2 174.0,1151.7 175.5,1151.1 177.0,1150.0 178.2,1148.7 179.5,1146.9 180.5,1145.1 182.5,1139.9 184.5,1132.9 190.0,1107.8 191.8,1100.6 193.5,1095.3 195.0,1092.4 196.2,1091.1 197.0,1090.8 197.8,1090.7 199.0,1091.0 202.8,1092.9 204.0,1093.1 205.0,1092.9 206.0,1092.5 207.2,1091.6 212.2,1086.9 213.5,1086.2 214.5,1086.0 215.8,1086.3 217.0,1087.5 218.2,1089.8 219.8,1093.7 222.0,1101.6 228.5,1128.1 230.8,1135.6 232.8,1140.8 235.0,1145.2 237.2,1148.2 238.5,1149.4 240.0,1150.4 241.5,1151.1 243.2,1151.7 248.0,1152.3 255.5,1152.3 261.8,1152.0 272.0,1151.0 276.5,1150.9 306.2,1152.1 334.2,1152.2 464.0,1152.0 469.5,1151.8 472.8,1151.2 475.2,1150.0 476.5,1148.9 477.5,1147.7 479.5,1144.1 481.2,1139.3 482.8,1133.9 484.2,1127.1 489.2,1099.7 490.8,1092.4 492.5,1086.3 493.5,1084.3 494.2,1083.6 494.8,1083.6 495.2,1083.9 496.2,1085.2 497.2,1087.7 498.2,1091.0 500.0,1098.7 504.5,1121.4 506.0,1127.6 507.2,1131.7 508.8,1135.0 510.0,1136.3 510.5,1136.5 511.2,1136.3 512.0,1135.7 512.8,1134.6 514.2,1131.4 515.8,1127.0 519.8,1113.6 521.5,1107.0 524.8,1092.6 531.0,1061.3 533.8,1049.7 535.2,1045.0 536.5,1042.1 537.8,1040.3 538.5,1039.9 539.0,1039.8 539.5,1039.9 540.0,1040.3 541.0,1042.7 542.0,1046.9 543.0,1052.7 544.8,1066.0 550.0,1112.0 551.8,1124.2 553.2,1132.5 555.0,1139.7 557.0,1145.0 558.0,1146.7 559.0,1148.0 560.2,1149.0 561.5,1149.7 563.5,1150.1 566.2,1149.9 569.0,1149.3 571.2,1148.3 572.8,1148.2 573.2,1147.9 574.0,1147.1 575.2,1144.9 577.2,1139.3 579.2,1131.2 584.5,1102.3 586.0,1095.2 587.0,1091.7 587.8,1089.8 588.5,1088.7 589.2,1088.4 590.0,1089.0 590.8,1090.5 592.2,1095.7 593.8,1103.3 598.2,1129.4 599.8,1136.4 601.0,1140.9 602.5,1145.0 604.2,1148.1 606.2,1150.1 607.5,1150.8 608.8,1151.2 611.5,1151.5 616.2,1151.6 719.2,1151.4 723.0,1151.2 726.0,1150.9 734.0,1148.8 737.0,1148.5 739.8,1148.8 745.2,1150.0 747.5,1150.1 750.2,1149.9 756.0,1148.6 759.0,1148.5 761.5,1148.9 768.8,1150.7 775.0,1151.2 840.8,1151.2 845.2,1151.0 846.5,1150.6 847.5,1150.0 848.2,1149.0 849.0,1147.6 850.2,1143.3 851.5,1135.4 852.5,1125.8 853.5,1112.7 857.5,1046.8 858.5,1037.5 859.0,1035.4 859.2,1035.1 859.5,1035.3 859.8,1035.9 860.2,1038.5 861.2,1048.7 865.0,1111.2 866.8,1132.4 867.8,1140.0 869.0,1145.8 870.2,1148.8 871.0,1149.8 872.0,1150.4 873.2,1150.7 874.5,1150.5 875.8,1150.1 878.8,1148.6 880.2,1148.3 881.5,1148.6 884.5,1150.1 886.2,1150.7 889.0,1151.0 891.8,1150.8 893.0,1150.5 894.2,1149.8 898.0,1145.8 898.8,1145.3 899.5,1145.1 900.2,1145.3 901.0,1145.8 904.8,1149.7 906.0,1150.5 907.5,1150.8 911.0,1151.0 922.0,1150.9 924.0,1150.4 925.5,1149.3 926.5,1147.6 927.5,1144.8 928.5,1140.2 929.2,1135.4 931.0,1118.9 934.5,1076.8 935.5,1069.6 936.0,1067.8 936.2,1067.5 936.5,1067.4 936.8,1067.7 937.2,1069.4 938.2,1076.3 942.5,1126.4 943.8,1136.8 945.0,1143.6 945.8,1146.2 946.5,1148.0 947.2,1149.2 948.2,1150.1 950.0,1150.8 952.8,1151.1 954.2,1151.0 955.5,1150.4 956.8,1148.6 957.8,1145.7 958.8,1140.9 959.5,1135.7 961.0,1121.1 964.5,1076.9 965.5,1068.7 966.0,1066.3 966.5,1065.3 966.8,1065.4 967.0,1065.7 967.5,1067.5 968.5,1074.9 972.2,1120.9 974.0,1136.7 975.0,1142.5 976.0,1146.2 977.2,1148.8 978.0,1149.7 978.8,1150.2 980.8,1150.7 984.2,1150.9 1121.2,1150.6 1125.5,1150.4 1126.8,1150.0 1127.8,1149.0 1128.5,1147.6 1129.2,1145.1 1130.5,1137.0 1131.5,1125.0 1132.5,1106.6 1133.2,1088.0 1136.8,980.7 1137.5,967.2 1138.0,962.8 1138.2,962.1 1138.5,962.4 1139.0,966.0 1140.0,984.2 1143.2,1085.2 1144.8,1119.3 1145.8,1133.4 1146.8,1141.9 1147.8,1146.5 1148.5,1148.4 1149.2,1149.4 1150.5,1150.2 1152.2,1150.5 1171.5,1150.4 1174.2,1149.8 1178.2,1147.5 1179.8,1147.1 1181.2,1147.5 1185.0,1149.7 1186.2,1150.1 1188.0,1150.3 1229.0,1150.3 1232.5,1150.2 1234.2,1149.5 1235.5,1148.1 1236.8,1145.3 1239.2,1137.6 1240.0,1136.3 1240.5,1136.0 1241.0,1136.3 1241.8,1137.6 1244.2,1145.2 1245.2,1147.6 1246.5,1149.3 1247.2,1149.8 1248.2,1150.1 1251.0,1150.3 1258.8,1150.2 1260.5,1149.9 1263.5,1148.7 1264.8,1148.5 1266.0,1148.7 1269.5,1149.9 1271.0,1150.1 1272.5,1150.1 1274.5,1149.4 1277.8,1146.3 1279.0,1145.8 1280.2,1146.3 1283.5,1149.3 1284.8,1149.9 1286.0,1150.1 1289.2,1150.2 1291.2,1149.9 1292.8,1149.2 1295.5,1147.3 1296.5,1147.0 1297.8,1147.3 1300.0,1148.8 1301.2,1149.3 1302.5,1149.1 1303.8,1148.2 1304.8,1146.8 1305.8,1144.8 1306.5,1142.8 1307.2,1139.9 1308.5,1131.6 1309.5,1119.8 1310.2,1106.9 1311.2,1083.7 1314.2,997.8 1315.2,980.5 1315.8,976.8 1316.0,976.3 1316.2,976.8 1316.8,980.5 1317.8,997.9 1320.5,1077.7 1321.8,1108.5 1323.0,1129.3 1324.2,1141.0 1324.8,1143.8 1325.5,1146.6 1326.5,1148.6 1327.5,1149.6 1328.5,1149.9 1330.2,1150.1 1338.5,1150.1 1340.8,1149.9 1342.2,1149.3 1343.2,1148.2 1344.0,1146.4 1344.8,1143.5 1346.0,1133.9 1347.0,1120.0 1348.0,1098.6 1349.0,1068.8 1352.5,938.3 1353.2,921.8 1353.8,916.2 1354.0,915.1 1354.2,915.2 1354.8,919.0 1355.8,939.7 1359.2,1070.4 1360.8,1111.4 1361.5,1124.9 1362.5,1136.9 1363.5,1143.7 1364.0,1145.7 1364.8,1147.7 1365.5,1148.9 1366.5,1149.6 1367.8,1149.9 1369.5,1150.0 1376.5,1149.8 1378.2,1149.4 1380.8,1148.2 1382.0,1148.0 1383.2,1148.2 1386.8,1149.7 1389.8,1150.0 1423.0,1149.9 1425.2,1149.6 1428.8,1148.6 1430.0,1148.4 1431.2,1148.6 1434.5,1149.6 1437.0,1149.9 1478.0,1149.8" fill="none" stroke="#000" stroke-width="2.3" stroke-linejoin="round"/>
<path d="M166.5,1423.0 183.2,1422.9 188.2,1422.7 190.2,1422.4 192.0,1421.8 193.5,1421.0 194.8,1420.0 196.2,1418.2 197.5,1416.1 199.0,1412.7 200.2,1409.2 202.8,1400.0 208.5,1375.0 210.2,1369.5 211.8,1366.4 213.2,1364.7 214.0,1364.2 215.0,1364.0 216.5,1364.3 220.5,1365.9 221.8,1366.1 223.0,1365.8 225.2,1364.5 230.2,1360.0 231.5,1359.3 232.8,1359.0 234.0,1359.2 235.2,1360.3 236.5,1362.3 238.0,1365.9 240.5,1374.0 247.2,1399.8 249.5,1406.7 251.5,1411.6 253.8,1415.7 256.2,1418.8 257.5,1419.8 259.0,1420.8 262.0,1421.9 265.5,1422.4 270.8,1422.6 310.5,1422.4 316.0,1421.8 323.8,1419.7 326.8,1419.3 329.8,1419.6 335.2,1421.2 338.0,1421.8 341.2,1422.2 345.2,1422.3 483.0,1421.9 489.0,1421.7 492.5,1421.0 494.0,1420.4 495.2,1419.6 496.5,1418.5 497.5,1417.2 499.5,1413.7 501.2,1409.2 502.8,1404.0 504.5,1396.6 509.8,1369.2 511.5,1361.1 513.2,1355.4 514.2,1353.5 515.0,1352.8 515.5,1352.7 516.0,1352.9 517.0,1354.1 518.0,1356.4 519.0,1359.6 520.8,1367.1 525.2,1389.2 526.5,1394.4 527.8,1398.5 529.0,1401.3 530.0,1402.5 530.8,1402.7 531.2,1402.5 532.2,1401.2 533.0,1399.5 534.0,1396.2 538.2,1377.8 542.8,1362.4 544.5,1355.2 546.8,1343.7 551.5,1316.1 554.0,1304.1 555.2,1299.4 556.5,1296.0 557.8,1293.8 558.5,1293.2 559.0,1293.0 559.5,1293.1 559.8,1293.4 560.8,1296.0 561.8,1300.7 562.8,1307.3 564.5,1322.4 569.8,1375.2 571.5,1389.3 573.0,1399.0 574.8,1407.4 576.8,1413.7 577.8,1415.8 578.8,1417.3 579.8,1418.2 581.0,1418.8 582.5,1418.7 587.2,1417.3 589.5,1416.3 590.8,1415.2 591.8,1413.9 593.5,1410.4 595.2,1405.0 597.0,1397.6 602.0,1369.6 603.8,1361.0 604.8,1357.4 605.5,1355.5 606.2,1354.3 607.0,1354.0 607.8,1354.4 608.8,1356.3 610.5,1362.5 612.0,1370.0 616.5,1395.9 618.0,1403.0 619.5,1408.8 621.0,1413.1 622.5,1416.2 624.2,1418.6 626.2,1420.1 627.8,1420.7 629.8,1421.1 636.0,1421.3 734.8,1421.0 738.0,1420.8 739.8,1420.3 740.5,1419.8 741.2,1418.9 742.5,1416.2 743.8,1411.0 744.8,1404.3 746.5,1385.9 750.0,1336.0 751.0,1326.5 751.5,1323.9 752.0,1322.7 752.2,1322.8 752.5,1323.2 753.0,1325.3 754.0,1333.7 757.8,1386.5 759.5,1404.6 760.5,1411.2 761.8,1416.3 763.0,1418.9 763.8,1419.7 764.8,1420.3 766.2,1420.7 769.0,1420.8 817.5,1420.6 819.2,1420.3 820.8,1419.7 822.0,1418.8 824.8,1416.2 825.5,1415.8 826.2,1415.7 827.0,1415.9 827.8,1416.3 830.5,1418.9 831.8,1419.7 833.0,1420.2 834.8,1420.5 881.8,1420.4 884.0,1419.8 885.5,1418.6 886.8,1416.9 889.5,1411.6 890.2,1410.6 891.0,1410.2 891.8,1410.4 892.5,1411.2 895.2,1416.5 896.5,1418.4 897.8,1419.5 899.2,1420.1 902.8,1420.3 905.2,1419.9 906.8,1418.9 909.5,1415.9 910.2,1415.5 910.8,1415.4 912.0,1416.0 915.0,1419.2 916.0,1419.8 917.2,1420.2 919.8,1420.3 930.8,1420.2 932.8,1420.1 934.2,1419.7 935.2,1419.0 936.0,1418.0 937.2,1415.2 938.2,1411.2 939.2,1405.0 941.0,1387.7 944.8,1336.8 945.8,1328.5 946.2,1326.3 946.5,1325.8 946.8,1325.7 947.0,1326.0 947.5,1327.7 948.5,1335.2 952.5,1388.9 953.5,1399.5 954.8,1408.9 956.0,1414.7 956.8,1416.8 957.8,1418.5 958.8,1419.4 959.8,1419.8 961.2,1420.0 963.0,1419.8 964.0,1419.5 965.0,1418.6 965.8,1417.6 966.5,1415.9 967.8,1411.2 968.8,1404.9 969.8,1396.0 970.8,1384.2 974.2,1333.9 975.2,1324.6 975.8,1322.1 976.2,1321.1 976.5,1321.2 976.8,1321.8 977.2,1324.0 978.2,1332.7 981.8,1382.8 983.5,1402.1 984.5,1409.2 985.5,1413.9 986.8,1417.2 988.0,1418.7 989.0,1419.1 990.0,1419.0 993.5,1416.9 995.0,1416.5 996.5,1416.9 1000.2,1419.2 1001.5,1419.7 1003.0,1419.9 1029.8,1419.9 1034.2,1419.8 1036.0,1419.3 1037.2,1418.5 1038.5,1417.1 1041.2,1413.2 1042.0,1412.5 1042.8,1412.2 1043.5,1412.4 1044.2,1413.0 1047.0,1417.0 1048.5,1418.6 1050.0,1419.4 1051.8,1419.7 1061.2,1419.8 1064.2,1419.4 1066.2,1418.3 1069.8,1414.4 1070.5,1413.8 1071.2,1413.6 1072.0,1413.8 1072.8,1414.3 1075.5,1417.4 1076.8,1418.6 1078.2,1419.3 1080.0,1419.6 1083.8,1419.7 1086.0,1419.5 1087.5,1419.0 1090.2,1417.5 1091.5,1417.2 1092.8,1417.5 1096.0,1419.2 1098.5,1419.6 1131.0,1419.5 1134.5,1419.4 1135.8,1418.9 1136.5,1418.2 1137.2,1416.9 1138.0,1414.7 1139.2,1407.4 1140.2,1396.4 1141.2,1379.2 1142.2,1354.9 1145.5,1254.9 1146.5,1236.9 1147.0,1233.3 1147.2,1233.0 1147.5,1233.7 1148.0,1238.1 1149.0,1257.4 1152.0,1350.6 1153.8,1390.3 1154.8,1403.6 1155.8,1411.6 1156.8,1415.8 1157.5,1417.6 1158.2,1418.5 1159.5,1419.2 1161.8,1419.4 1177.8,1419.4 1180.8,1419.0 1182.0,1418.4 1183.2,1417.2 1184.5,1415.1 1187.0,1410.0 1187.8,1409.0 1188.5,1408.6 1189.2,1408.8 1190.0,1409.7 1192.8,1415.2 1194.0,1417.2 1195.2,1418.4 1197.0,1419.1 1200.0,1419.3 1216.5,1419.2 1219.0,1419.1 1220.5,1418.9 1221.8,1418.3 1223.0,1417.2 1224.0,1415.8 1226.8,1411.0 1227.5,1410.2 1228.2,1410.0 1229.0,1410.3 1229.8,1411.1 1232.8,1416.3 1234.2,1418.0 1235.2,1418.6 1236.2,1418.9 1237.8,1419.0 1239.0,1418.9 1240.0,1418.5 1241.0,1417.6 1241.8,1416.5 1242.5,1414.8 1243.8,1410.7 1246.5,1398.7 1247.2,1396.7 1248.0,1396.0 1248.8,1396.7 1249.5,1398.7 1252.2,1410.6 1253.5,1414.8 1254.2,1416.5 1255.0,1417.6 1255.8,1418.3 1256.8,1418.8 1259.0,1419.1 1265.0,1419.0 1266.8,1418.9 1268.0,1418.4 1269.0,1417.5 1270.0,1415.8 1272.8,1409.3 1273.5,1408.3 1274.0,1408.2 1274.5,1408.5 1275.2,1409.7 1277.5,1415.2 1278.8,1417.4 1279.5,1418.1 1280.2,1418.5 1281.0,1418.6 1281.8,1418.4 1283.0,1417.3 1284.0,1415.4 1287.0,1405.2 1287.8,1403.6 1288.2,1403.2 1288.8,1403.5 1289.5,1404.9 1291.8,1412.9 1292.8,1415.7 1293.5,1417.1 1294.5,1418.2 1295.5,1418.7 1297.0,1418.9 1306.5,1418.9 1308.5,1418.6 1309.2,1418.2 1310.0,1417.6 1311.2,1415.5 1312.2,1412.8 1315.2,1401.8 1316.5,1394.9 1317.5,1385.4 1318.5,1369.6 1319.2,1352.9 1322.8,1253.0 1323.5,1241.1 1324.0,1237.6 1324.2,1237.3 1324.5,1238.0 1325.0,1242.3 1326.0,1261.0 1328.8,1344.7 1330.0,1376.5 1331.0,1394.3 1332.2,1407.8 1333.0,1412.4 1333.8,1415.3 1334.5,1417.0 1335.5,1418.1 1336.5,1418.5 1338.2,1418.8 1346.2,1418.8 1348.8,1418.6 1350.2,1417.9 1351.2,1416.7 1352.0,1414.8 1352.8,1411.7 1354.0,1401.6 1355.0,1387.2 1356.0,1365.1 1356.8,1343.0 1360.2,1212.9 1361.2,1190.8 1361.8,1186.1 1362.0,1185.5 1362.2,1186.1 1362.8,1190.8 1363.8,1212.9 1367.0,1334.6 1368.5,1377.1 1369.2,1391.4 1370.2,1404.2 1371.2,1411.6 1372.0,1414.7 1372.8,1416.6 1373.5,1417.6 1374.2,1418.2 1375.5,1418.5 1377.2,1418.6 1383.0,1418.6 1385.2,1418.4 1387.0,1417.7 1389.8,1416.0 1390.8,1415.8 1392.0,1416.1 1395.5,1418.1 1396.8,1418.4 1398.5,1418.6 1430.8,1418.4 1433.2,1418.3 1437.5,1417.5 1442.2,1418.3 1444.5,1418.4 1478.0,1418.3" fill="none" stroke="#000" stroke-width="2.3" stroke-linejoin="round"/>
<path d="M166.5,1693.4 208.5,1693.2 211.2,1692.9 213.2,1692.4 215.0,1691.7 216.8,1690.4 218.5,1688.5 220.0,1686.2 221.5,1683.0 222.8,1679.6 224.2,1674.8 225.8,1669.0 230.8,1646.4 232.8,1638.5 234.0,1634.7 235.0,1632.5 236.0,1631.2 237.0,1630.8 238.2,1631.3 239.5,1632.9 240.8,1635.3 242.0,1638.5 244.2,1645.8 251.0,1670.6 253.2,1677.3 255.2,1682.0 257.5,1686.1 260.0,1689.1 262.8,1691.2 266.0,1692.4 269.5,1692.9 274.8,1693.2 314.0,1693.0 319.5,1692.5 327.2,1690.4 330.2,1690.0 333.2,1690.4 338.8,1692.0 341.5,1692.6 344.8,1692.9 348.8,1693.0 483.5,1692.8 489.8,1692.6 493.2,1691.9 494.8,1691.2 496.0,1690.4 498.2,1688.0 500.2,1684.4 502.0,1679.9 503.8,1674.0 505.5,1666.5 510.5,1641.0 512.2,1633.0 513.2,1629.3 514.2,1626.4 515.2,1624.5 516.0,1623.8 516.5,1623.7 517.0,1623.8 518.0,1625.0 519.0,1627.3 520.0,1630.6 521.8,1638.4 526.2,1661.7 528.5,1670.5 529.8,1673.5 530.8,1674.8 531.2,1675.0 531.8,1674.9 532.2,1674.5 533.0,1673.5 534.0,1671.1 535.2,1666.7 540.5,1641.3 544.2,1627.9 546.2,1619.6 549.0,1605.5 553.8,1577.9 555.8,1568.1 556.8,1564.3 557.8,1561.6 558.8,1560.1 559.5,1559.7 560.0,1559.9 560.5,1560.4 561.5,1562.8 562.5,1567.4 563.5,1574.1 565.5,1592.4 570.5,1645.9 572.2,1660.8 573.8,1670.8 575.5,1679.2 577.2,1684.7 578.2,1686.7 579.2,1688.2 580.5,1689.2 581.8,1689.7 582.8,1689.8 584.0,1689.5 586.5,1688.2 589.2,1685.7 591.8,1682.0 592.2,1681.8 593.0,1682.2 593.2,1682.1 594.0,1681.0 595.5,1675.9 597.2,1667.8 602.0,1640.4 603.8,1631.6 604.8,1627.8 605.5,1625.8 606.5,1624.2 607.2,1623.9 608.0,1624.5 608.8,1625.9 609.5,1628.1 610.5,1632.2 612.0,1640.1 616.5,1667.2 618.0,1674.6 619.2,1679.6 620.8,1684.2 622.2,1687.4 624.0,1689.8 625.8,1691.2 627.2,1691.9 629.2,1692.3 635.5,1692.5 721.5,1692.4 724.5,1692.2 726.2,1691.5 727.0,1690.8 727.8,1689.7 729.0,1686.3 730.0,1681.5 731.0,1674.1 732.8,1653.7 736.5,1594.4 737.5,1584.9 738.0,1582.6 738.2,1582.1 738.5,1582.0 739.0,1583.3 739.5,1586.3 740.5,1596.9 744.0,1653.0 745.8,1673.7 746.8,1681.2 747.8,1686.1 749.0,1689.6 750.2,1691.2 751.0,1691.7 752.0,1692.1 754.8,1692.3 765.0,1692.2 767.0,1691.8 770.2,1690.8 771.8,1690.6 773.2,1690.8 777.0,1691.9 779.5,1692.2 806.5,1692.2 808.2,1691.9 809.8,1691.3 813.5,1688.2 815.0,1687.6 815.8,1687.7 816.5,1688.1 819.8,1690.5 820.5,1690.7 821.2,1690.6 822.8,1689.6 825.8,1686.2 827.0,1685.7 827.8,1685.9 828.5,1686.5 832.2,1690.8 833.5,1691.6 834.8,1691.9 837.8,1692.2 853.8,1692.1 856.2,1692.0 857.8,1691.6 858.8,1691.0 859.5,1690.2 860.2,1688.8 861.0,1686.7 862.2,1680.6 863.2,1672.7 865.0,1650.7 868.8,1585.8 869.8,1575.1 870.2,1572.4 870.5,1571.8 870.8,1571.6 871.2,1572.8 871.8,1575.9 872.8,1587.1 876.2,1648.3 878.0,1671.2 879.0,1679.6 880.2,1686.1 881.5,1689.4 882.2,1690.4 883.0,1691.0 884.2,1691.0 885.0,1690.5 885.8,1689.7 887.0,1687.7 889.5,1682.4 890.2,1681.3 891.0,1680.9 891.8,1681.2 892.5,1682.1 895.2,1687.8 896.5,1689.9 897.8,1691.1 899.5,1691.8 903.2,1692.0 932.0,1691.9 933.5,1691.7 934.5,1691.4 935.5,1690.6 936.2,1689.7 937.2,1687.4 938.2,1683.6 939.2,1677.5 940.0,1671.1 941.5,1653.3 945.0,1600.4 946.0,1590.9 946.5,1588.4 947.0,1587.5 947.5,1588.4 948.0,1590.9 949.0,1600.4 952.5,1653.3 953.5,1665.9 954.5,1675.5 955.5,1682.2 956.8,1687.4 958.0,1690.0 958.8,1690.8 959.8,1691.4 961.5,1691.8 963.5,1691.8 965.0,1691.4 966.0,1690.7 967.0,1689.4 967.8,1687.9 969.0,1683.4 970.2,1675.7 971.5,1664.2 975.5,1614.6 976.5,1607.2 977.0,1605.4 977.2,1605.0 977.5,1604.9 978.0,1605.9 978.5,1608.3 979.5,1616.6 983.0,1660.9 984.8,1677.2 985.8,1683.1 986.8,1687.0 988.0,1689.7 988.8,1690.6 989.5,1691.0 990.8,1691.2 992.2,1690.7 993.5,1689.5 996.2,1686.2 997.0,1685.6 997.8,1685.4 998.5,1685.6 999.2,1686.1 1002.0,1689.4 1003.2,1690.6 1004.5,1691.3 1005.8,1691.7 1010.2,1691.9 1031.0,1691.8 1034.0,1691.7 1035.8,1691.1 1037.2,1690.0 1038.5,1688.3 1041.0,1684.0 1041.8,1683.2 1042.5,1682.8 1043.2,1683.0 1044.0,1683.7 1047.0,1688.7 1048.2,1690.3 1049.8,1691.3 1052.0,1691.7 1061.2,1691.7 1063.0,1691.5 1064.2,1691.1 1066.0,1689.8 1069.5,1684.6 1070.2,1683.8 1071.0,1683.5 1071.8,1683.7 1072.5,1684.3 1075.5,1688.9 1076.8,1690.3 1078.2,1691.2 1080.2,1691.6 1177.5,1691.5 1181.5,1691.4 1182.5,1691.1 1183.2,1690.5 1184.5,1688.7 1185.5,1686.2 1187.8,1679.0 1188.8,1677.3 1189.2,1677.2 1189.8,1677.6 1191.5,1680.7 1192.0,1681.2 1192.5,1681.1 1193.2,1679.1 1194.0,1674.4 1195.2,1658.5 1196.2,1637.5 1200.0,1525.4 1200.8,1511.7 1201.2,1507.0 1201.5,1506.1 1201.8,1506.2 1202.2,1509.4 1203.2,1526.6 1206.5,1625.8 1208.0,1659.9 1208.8,1671.2 1209.8,1681.0 1210.8,1686.5 1211.8,1689.3 1212.2,1690.1 1213.0,1690.8 1214.5,1691.3 1219.8,1691.4 1221.2,1691.2 1222.2,1690.8 1223.5,1689.8 1224.5,1688.5 1228.0,1681.4 1228.8,1680.5 1229.5,1680.2 1230.2,1680.6 1231.0,1681.7 1233.8,1687.5 1235.5,1690.0 1236.8,1690.9 1238.0,1691.2 1239.8,1691.2 1241.0,1690.7 1241.8,1690.1 1242.5,1689.1 1243.8,1686.2 1244.8,1682.5 1247.5,1670.0 1248.2,1667.9 1249.0,1667.2 1249.8,1667.9 1250.5,1670.0 1253.2,1682.5 1254.5,1686.9 1255.8,1689.5 1256.5,1690.3 1257.5,1691.0 1259.8,1691.4 1266.5,1691.4 1268.5,1691.2 1269.8,1690.7 1270.8,1689.8 1271.5,1688.7 1274.5,1681.4 1275.2,1680.4 1275.8,1680.2 1276.2,1680.5 1277.0,1681.6 1279.2,1687.3 1280.5,1689.6 1281.8,1690.7 1282.5,1690.8 1283.2,1690.7 1284.5,1689.5 1285.5,1687.4 1288.5,1676.4 1289.2,1674.6 1289.8,1674.2 1290.2,1674.5 1291.0,1676.1 1294.0,1687.2 1294.8,1688.9 1295.8,1690.3 1296.8,1691.0 1298.2,1691.3 1308.0,1691.2 1309.2,1690.8 1310.2,1689.8 1311.0,1688.6 1311.8,1686.7 1315.0,1673.8 1315.8,1671.8 1317.2,1668.9 1317.8,1667.4 1318.5,1663.1 1319.0,1658.5 1320.0,1643.6 1320.8,1627.0 1324.2,1523.2 1325.0,1510.0 1325.5,1505.6 1325.8,1504.9 1326.0,1505.2 1326.5,1508.8 1327.5,1526.8 1330.5,1619.6 1331.8,1651.0 1332.8,1668.2 1334.0,1681.1 1334.5,1684.2 1335.2,1687.3 1336.2,1689.6 1337.2,1690.6 1338.2,1691.0 1340.0,1691.2 1348.2,1691.2 1350.8,1691.1 1352.2,1690.4 1353.2,1689.1 1354.0,1687.3 1354.8,1684.1 1356.0,1674.0 1357.0,1659.4 1358.0,1637.1 1358.8,1614.8 1362.2,1483.6 1363.2,1461.2 1363.8,1456.5 1364.0,1455.9 1364.2,1456.5 1364.8,1461.2 1365.8,1483.5 1369.0,1606.4 1370.5,1649.2 1371.2,1663.7 1372.2,1676.6 1373.2,1684.0 1373.8,1686.3 1374.5,1688.6 1375.2,1689.8 1376.2,1690.7 1377.5,1691.0 1379.2,1691.2 1386.0,1691.1 1388.2,1690.9 1390.0,1690.3 1393.0,1688.2 1394.0,1688.0 1395.2,1688.4 1397.5,1690.0 1398.8,1690.6 1400.0,1691.0 1401.5,1691.1 1423.5,1691.0 1425.5,1690.5 1428.8,1688.4 1430.0,1688.0 1431.2,1688.4 1434.5,1690.5 1437.0,1691.0 1478.0,1691.0" fill="none" stroke="#000" stroke-width="2.3" stroke-linejoin="round"/>
<path d="M166.0,1995.9 167.0,1996.0 167.5,1996.7 169.5,2004.1 170.2,2005.9 172.5,2009.4 173.5,2010.4 174.2,2010.7 175.5,2010.6 176.8,2010.0 181.2,2006.3 185.2,2001.3 186.8,1999.9 190.5,1998.5 193.0,1998.0 195.0,1998.7 198.8,2001.2 200.0,2002.5 204.0,2007.9 207.5,2011.0 209.2,2012.2 210.2,2012.7 211.2,2012.9 217.0,2013.3 219.0,2013.2 221.8,2012.2 227.5,2008.9 240.2,1998.4 241.8,1997.7 243.5,1997.7 247.8,1998.2 249.2,1999.0 250.8,2000.5 254.8,2005.4 259.5,2011.6 260.5,2012.4 264.0,2014.5 266.5,2015.6 268.5,2016.0 278.0,2015.8 279.8,2015.3 281.5,2014.4 284.5,2011.9 285.5,2010.7 287.5,2007.1 294.8,1991.2 298.0,1985.6 299.0,1984.5 300.0,1984.1 301.0,1984.4 302.2,1985.4 305.2,1989.1 306.5,1991.4 310.2,2000.0 314.0,2006.6 315.2,2008.4 316.5,2009.7 320.0,2012.2 321.5,2012.9 322.8,2013.2 324.8,2013.1 327.0,2012.8 329.8,2012.1 330.8,2011.5 332.0,2010.2 333.5,2007.9 336.2,2001.9 337.8,1995.8 339.2,1986.6 340.8,1975.4 342.0,1962.9 348.5,1880.6 350.0,1869.5 351.5,1860.8 352.5,1857.0 353.0,1856.1 353.5,1855.8 354.0,1856.2 354.8,1857.4 356.0,1861.2 357.8,1869.0 359.2,1877.4 360.2,1886.4 362.8,1915.4 366.2,1951.2 368.0,1965.2 370.5,1981.2 372.2,1989.6 374.8,1997.2 376.2,2000.8 377.5,2003.2 378.8,2005.1 380.0,2006.3 381.8,2007.7 384.0,2009.1 393.0,2013.7 395.5,2014.8 398.2,2015.3 406.0,2015.3 407.5,2014.7 409.0,2013.8 414.2,2009.1 415.8,2007.2 419.0,2002.2 420.8,2000.2 425.2,1997.6 426.5,1997.2 427.8,1997.0 428.8,1997.3 430.0,1997.9 434.2,2000.9 436.0,2002.8 443.5,2012.2 444.8,2013.5 446.0,2014.3 451.2,2016.0 453.2,2016.3 455.2,2016.4 456.8,2016.1 458.2,2015.4 460.0,2014.2 461.5,2012.9 462.2,2011.7 463.0,2009.8 464.5,2004.8 466.8,1995.3 468.0,1988.1 471.5,1961.0 477.5,1905.8 478.8,1896.1 479.5,1892.6 481.5,1887.2 483.0,1884.6 483.8,1883.9 484.2,1883.9 484.8,1884.1 485.2,1884.8 486.5,1887.8 490.0,1900.9 491.8,1910.4 498.2,1950.4 500.2,1959.5 502.5,1967.9 507.5,1983.6 511.0,1992.7 514.2,1999.2 515.8,2001.8 516.5,2002.6 517.2,2003.2 518.0,2003.3 518.8,2003.0 519.8,2002.1 521.0,2000.2 523.8,1993.9 524.8,1989.5 525.8,1982.8 527.5,1967.6 530.5,1938.1 534.8,1886.6 538.5,1838.1 541.5,1807.7 542.8,1797.3 544.0,1789.9 546.2,1781.7 547.2,1779.6 548.0,1779.1 548.5,1779.3 549.2,1780.2 551.0,1784.9 552.8,1791.2 554.0,1798.7 557.8,1830.1 563.5,1888.4 565.5,1906.6 567.2,1919.4 569.2,1932.1 574.2,1959.2 576.0,1966.7 577.8,1972.6 580.0,1978.9 582.8,1985.3 585.5,1990.5 588.2,1994.8 593.0,2001.4 594.2,2002.6 595.5,2003.3 596.2,2003.2 596.8,2003.0 598.2,2001.0 600.2,1996.7 602.0,1992.0 603.2,1986.5 606.2,1970.4 610.8,1948.1 613.0,1939.6 615.5,1931.9 616.8,1928.9 618.2,1926.4 623.5,1920.0 625.8,1916.7 627.2,1913.6 630.8,1904.8 635.0,1895.6 637.0,1892.4 637.8,1891.7 638.5,1891.5 639.0,1891.6 639.5,1892.2 640.8,1894.7 642.2,1899.4 644.0,1905.8 645.2,1912.3 648.2,1931.1 653.0,1958.6 656.0,1972.8 659.0,1984.9 662.5,1995.6 665.2,2002.3 667.0,2005.0 669.2,2007.4 671.0,2008.9 672.5,2009.6 673.8,2009.8 675.2,2009.3 676.8,2008.4 678.5,2006.7 680.2,2004.7 681.2,2002.8 682.2,2000.1 684.2,1992.9 686.8,1982.0 690.5,1957.1 694.2,1937.5 696.0,1931.2 698.5,1924.8 700.2,1921.6 701.2,1920.8 701.8,1920.8 702.2,1921.0 703.5,1922.7 704.8,1925.4 708.8,1937.0 713.2,1955.1 716.2,1963.5 717.5,1966.3 718.5,1968.0 721.2,1971.3 723.2,1972.8 724.8,1973.2 730.2,1973.9 731.8,1974.6 736.0,1976.9 737.5,1977.4 738.5,1977.4 739.0,1977.1 739.8,1976.3 741.2,1973.6 743.0,1969.0 745.2,1962.0 746.8,1954.8 750.8,1931.3 753.8,1917.3 755.2,1911.3 756.2,1908.5 758.5,1904.6 760.0,1902.7 761.2,1902.0 762.0,1902.1 762.8,1902.7 764.2,1905.1 767.5,1912.8 768.8,1916.8 773.2,1936.4 781.0,1974.0 783.0,1982.1 785.0,1987.3 787.0,1991.1 788.8,1993.1 789.5,1993.1 790.2,1992.6 791.8,1990.9 794.0,1987.3 796.2,1982.1 799.8,1970.4 802.5,1958.2 804.5,1946.9 806.0,1935.9 809.2,1906.2 812.8,1870.5 815.0,1851.5 816.8,1838.9 819.2,1825.0 820.8,1818.6 821.5,1816.7 822.2,1815.8 823.8,1814.6 825.0,1814.2 825.5,1814.4 826.2,1815.3 828.2,1819.6 829.0,1822.0 830.0,1826.5 833.2,1845.5 836.8,1870.6 840.5,1895.6 843.0,1908.4 845.8,1919.8 848.2,1928.6 852.5,1942.0 864.2,1977.3 869.8,1992.7 871.2,1996.2 874.2,2002.2 876.8,2006.1 877.8,2007.1 879.5,2008.4 881.2,2009.5 882.8,2010.2 884.2,2010.4 885.8,2010.3 888.8,2009.3 891.8,2007.6 893.5,2005.7 896.5,2001.6 902.2,1994.5 903.8,1993.2 907.8,1990.6 909.5,1990.0 911.0,1990.0 919.0,1992.9 920.8,1993.2 921.5,1993.0 922.5,1991.9 923.5,1990.0 926.0,1983.4 927.5,1976.7 929.5,1964.6 930.8,1954.8 932.2,1939.4 934.5,1913.9 937.8,1872.1 941.2,1836.2 942.5,1828.3 944.8,1819.9 946.5,1815.5 947.2,1814.5 948.0,1814.2 948.8,1814.6 949.5,1815.5 951.2,1819.4 953.5,1826.8 954.5,1832.6 958.8,1871.2 965.5,1940.3 968.0,1960.9 969.8,1972.9 972.2,1984.0 973.5,1988.3 974.8,1991.8 975.8,1993.9 978.2,1997.9 979.5,1999.4 980.8,2000.2 981.5,2000.3 982.2,2000.1 983.8,1999.3 986.0,1997.2 987.5,1995.3 989.5,1990.5 996.5,1968.7 997.8,1965.5 998.8,1963.9 1001.5,1961.0 1003.2,1959.8 1005.0,1959.3 1006.2,1959.7 1007.8,1960.9 1009.5,1963.2 1012.0,1967.0 1013.5,1970.6 1017.8,1982.9 1021.8,1991.9 1024.2,1996.1 1027.5,2000.1 1028.5,2000.9 1029.5,2001.3 1030.8,2001.3 1032.0,2000.8 1033.5,1999.9 1035.2,1998.6 1036.5,1996.8 1037.8,1993.9 1043.0,1977.1 1048.2,1957.3 1051.0,1945.0 1052.0,1941.5 1053.5,1938.6 1055.2,1936.1 1056.8,1934.7 1058.0,1934.3 1059.2,1934.9 1060.5,1936.1 1062.2,1938.7 1064.0,1941.7 1065.8,1946.5 1069.5,1959.0 1073.8,1970.7 1076.2,1976.3 1078.8,1980.8 1080.5,1983.4 1082.2,1985.0 1085.0,1986.0 1089.0,1988.3 1095.0,1991.2 1098.0,1993.0 1099.8,1994.6 1103.5,1998.7 1107.8,2003.0 1109.2,2004.3 1110.2,2004.8 1111.0,2004.9 1112.0,2004.7 1113.0,2004.2 1115.2,2002.1 1117.8,1998.9 1119.2,1995.2 1120.8,1990.2 1122.8,1981.9 1125.0,1971.2 1126.2,1963.3 1130.0,1935.8 1132.8,1920.2 1134.8,1910.2 1136.5,1903.5 1139.5,1895.2 1140.5,1893.0 1141.5,1891.4 1142.2,1890.7 1143.0,1890.5 1143.5,1890.7 1144.2,1891.3 1145.5,1893.0 1149.2,1900.8 1150.5,1904.4 1153.5,1914.8 1154.8,1918.1 1157.8,1922.3 1158.8,1923.2 1159.8,1923.7 1160.5,1923.6 1161.0,1923.3 1162.5,1921.1 1167.0,1911.0 1170.0,1903.7 1171.0,1901.8 1173.0,1899.0 1174.8,1897.2 1176.0,1896.7 1176.5,1896.7 1177.2,1897.2 1178.8,1899.0 1180.2,1901.9 1182.2,1906.5 1183.5,1910.8 1184.8,1916.9 1188.0,1935.3 1192.0,1955.4 1194.0,1964.6 1197.2,1978.0 1198.2,1981.3 1199.2,1983.7 1201.2,1986.4 1203.0,1988.0 1203.8,1988.3 1204.5,1988.4 1205.2,1988.2 1206.2,1987.5 1208.2,1985.1 1210.8,1981.1 1212.2,1977.1 1216.2,1963.0 1219.5,1954.8 1221.5,1950.8 1222.8,1949.1 1225.8,1946.5 1227.2,1945.9 1229.0,1946.0 1230.8,1946.8 1233.0,1948.4 1234.2,1949.4 1235.5,1951.1 1237.0,1953.9 1241.0,1962.6 1254.8,1988.1 1258.2,1994.1 1261.8,1999.1 1265.5,2003.5 1269.8,2006.8 1271.2,2007.6 1272.5,2008.0 1273.8,2008.0 1274.8,2007.6 1277.0,2005.5 1280.0,2001.5 1281.8,1997.7 1283.5,1992.6 1287.8,1977.6 1293.5,1949.5 1297.0,1938.0 1298.5,1934.5 1300.5,1931.6 1302.2,1929.8 1303.0,1929.5 1303.8,1929.4 1304.5,1929.7 1305.2,1930.4 1306.8,1932.4 1309.2,1936.7 1310.8,1940.3 1316.0,1957.7 1321.8,1979.3 1325.5,1991.4 1327.2,1996.2 1328.5,1998.6 1330.5,2001.4 1331.8,2002.8 1332.5,2003.4 1333.2,2003.6 1335.0,2003.4 1336.8,2002.4 1339.0,2000.6 1340.2,1999.3 1341.2,1997.7 1343.8,1991.6 1347.8,1979.1 1351.0,1965.8 1355.5,1943.9 1361.0,1912.5 1365.2,1885.4 1367.0,1876.6 1367.8,1873.8 1369.5,1868.9 1372.5,1861.7 1374.5,1858.5 1375.5,1857.6 1376.5,1857.3 1377.5,1857.5 1378.5,1858.2 1380.5,1860.6 1382.0,1863.2 1384.0,1867.3 1385.0,1870.6 1386.5,1878.1 1395.2,1931.6 1401.0,1964.2 1403.0,1973.1 1405.8,1983.5 1407.8,1990.0 1409.8,1995.1 1412.8,2001.0 1415.8,2005.4 1417.0,2006.7 1420.0,2009.3 1422.0,2010.8 1424.0,2012.0 1426.8,2013.0 1434.2,2014.0 1438.5,2014.2 1449.0,2014.2" fill="none" stroke="#ff0000" stroke-width="2.3" stroke-linejoin="round"/>
<path d="M166.0,1995.9 166.5,1996.3 167.0,1997.5 168.5,2003.3 169.2,2005.5 171.5,2009.1 172.5,2010.1 173.2,2010.6 174.2,2010.5 175.2,2010.1 176.5,2009.2 178.0,2007.8 181.0,2004.6 184.5,1999.2 186.0,1997.4 189.5,1995.4 190.8,1995.0 192.0,1994.9 193.0,1995.1 194.2,1995.8 197.8,1998.9 199.0,2000.6 203.2,2007.2 207.8,2011.6 209.0,2012.4 210.0,2012.7 216.8,2013.2 218.5,2012.9 220.2,2012.2 226.2,2008.3 228.2,2006.5 237.8,1997.0 239.5,1995.6 241.2,1994.9 243.8,1995.1 247.0,1996.0 248.5,1997.0 250.5,1999.4 258.5,2010.8 259.8,2012.0 262.5,2013.8 265.2,2015.3 267.5,2015.9 277.2,2015.8 278.8,2015.4 280.5,2014.5 283.2,2012.4 284.5,2011.1 286.5,2007.7 294.0,1992.3 297.2,1987.0 298.2,1985.9 299.2,1985.6 300.2,1985.9 301.2,1986.5 304.5,1990.0 305.8,1992.2 309.0,1999.4 311.5,2003.8 313.8,2007.5 315.8,2009.8 319.2,2012.2 321.8,2013.1 323.8,2013.1 326.2,2012.8 329.0,2012.1 330.0,2011.5 331.2,2010.2 332.5,2008.4 334.0,2005.5 335.5,2002.0 337.0,1996.0 338.5,1986.9 340.0,1976.0 341.2,1963.7 347.8,1883.7 349.2,1873.2 350.8,1864.8 351.8,1861.2 352.2,1860.3 352.8,1860.1 353.2,1860.4 354.0,1861.6 355.2,1865.2 357.0,1872.5 358.5,1880.4 359.5,1889.3 362.0,1917.4 365.5,1952.3 367.2,1965.9 369.8,1981.7 371.5,1989.9 374.2,1998.0 375.8,2001.5 377.0,2003.7 378.0,2005.1 379.5,2006.6 381.2,2007.9 383.2,2009.1 392.2,2013.7 394.8,2014.8 397.5,2015.3 404.5,2015.3 405.5,2015.2 407.0,2014.5 408.5,2013.4 413.5,2008.3 415.0,2006.0 418.5,1999.7 420.2,1997.3 424.2,1994.1 425.5,1993.5 426.8,1993.4 427.8,1993.6 429.0,1994.4 433.0,1998.3 442.2,2011.4 443.8,2013.1 445.0,2014.1 447.8,2015.2 450.2,2016.0 452.5,2016.4 454.5,2016.4 456.0,2016.1 457.5,2015.4 459.2,2014.2 460.8,2012.8 461.5,2011.5 462.2,2009.7 463.8,2004.6 466.0,1995.1 467.2,1987.8 470.8,1960.6 476.8,1905.3 478.0,1895.8 478.8,1892.4 480.8,1887.0 482.0,1884.8 482.8,1884.1 483.2,1883.9 483.8,1884.0 484.2,1884.5 485.5,1887.2 489.0,1900.0 490.8,1909.2 497.5,1950.6 499.5,1959.7 501.8,1968.1 506.5,1983.1 510.0,1992.3 513.5,1999.3 515.0,2001.8 515.8,2002.7 516.5,2003.2 517.0,2003.3 517.8,2003.1 519.0,2002.0 520.2,2000.1 523.0,1993.8 524.0,1989.3 525.0,1982.5 528.5,1950.7 529.8,1937.6 534.0,1886.0 537.8,1837.5 540.8,1807.2 542.0,1796.9 543.2,1789.7 545.5,1781.6 546.5,1779.5 547.2,1779.1 547.8,1779.3 548.5,1780.3 550.0,1784.2 551.8,1790.3 553.0,1797.3 557.0,1830.6 562.8,1888.9 564.8,1907.0 566.5,1919.7 568.5,1932.4 573.5,1959.4 575.2,1966.9 577.0,1972.8 579.2,1979.1 581.8,1984.8 584.5,1990.2 587.2,1994.6 592.2,2001.4 593.5,2002.7 594.5,2003.2 595.2,2003.3 595.8,2003.1 596.5,2002.4 597.2,2001.4 599.2,1997.2 601.2,1991.8 602.5,1986.3 605.5,1970.1 610.2,1946.5 613.0,1936.2 615.2,1929.4 616.5,1926.6 618.0,1924.1 619.5,1922.3 623.2,1918.3 625.2,1915.6 626.8,1912.6 630.0,1905.0 634.5,1895.9 636.2,1893.3 637.0,1892.7 637.8,1892.5 638.2,1892.7 638.8,1893.2 640.0,1895.8 641.5,1900.3 643.2,1906.6 644.5,1913.0 647.5,1931.6 652.5,1960.2 655.5,1974.1 658.2,1985.0 661.8,1995.7 664.5,2002.3 666.2,2005.1 668.5,2007.5 670.2,2008.9 671.8,2009.6 673.0,2009.8 674.5,2009.3 676.0,2008.3 677.8,2006.7 679.5,2004.6 680.5,2002.6 681.5,1999.9 683.5,1992.7 686.0,1981.7 689.8,1956.6 693.8,1935.4 695.0,1930.6 696.8,1925.6 698.2,1921.8 699.5,1919.6 700.5,1918.8 701.0,1918.8 701.5,1919.1 702.5,1920.5 703.8,1923.4 707.8,1935.7 711.2,1950.6 712.5,1955.2 715.2,1963.0 717.5,1967.7 720.2,1971.1 722.5,1972.8 724.0,1973.2 729.2,1973.9 731.0,1974.6 735.2,1976.9 736.8,1977.4 737.8,1977.4 739.0,1976.3 740.5,1973.4 742.5,1968.1 744.5,1961.8 746.0,1954.5 749.8,1932.4 753.0,1917.1 754.5,1911.2 755.5,1908.4 757.8,1904.5 759.2,1902.6 760.5,1902.0 761.2,1902.1 762.0,1902.8 763.5,1905.2 766.8,1913.0 768.0,1917.0 772.8,1937.8 780.5,1975.3 782.2,1982.2 784.2,1987.4 786.2,1991.1 788.0,1993.1 788.8,1993.1 789.5,1992.6 791.0,1990.8 793.2,1987.3 795.5,1981.9 799.0,1970.2 801.8,1958.0 803.8,1946.6 805.2,1935.5 808.5,1905.7 812.0,1870.1 814.2,1851.1 816.0,1838.6 818.5,1824.7 820.0,1818.5 820.8,1816.7 821.5,1815.8 823.0,1814.6 824.2,1814.2 824.8,1814.4 825.5,1815.3 827.5,1819.7 828.2,1822.2 829.2,1826.7 832.5,1845.8 835.8,1869.2 839.8,1895.9 842.0,1907.4 844.8,1919.0 847.2,1927.9 851.5,1941.4 863.2,1976.7 869.0,1992.8 870.5,1996.3 873.5,2002.3 876.0,2006.2 877.0,2007.2 878.8,2008.5 880.5,2009.6 882.0,2010.2 883.5,2010.4 885.0,2010.3 888.0,2009.2 890.0,2008.3 891.0,2007.5 892.5,2005.9 895.8,2001.6 901.5,1994.4 904.2,1992.2 907.0,1990.6 908.8,1990.0 910.2,1990.0 918.2,1992.9 920.0,1993.2 920.8,1993.0 921.8,1991.8 922.8,1989.9 924.5,1985.6 925.2,1983.2 926.8,1976.4 928.8,1964.3 930.0,1954.3 931.5,1938.9 933.8,1913.3 937.0,1871.6 940.5,1835.8 941.5,1829.2 944.0,1819.7 945.0,1816.9 945.8,1815.4 946.5,1814.5 947.2,1814.2 948.0,1814.6 948.8,1815.6 950.5,1819.6 952.8,1827.0 953.8,1833.0 958.0,1871.7 964.8,1940.7 967.2,1961.3 969.0,1973.2 971.2,1983.2 972.5,1987.7 973.8,1991.3 975.0,1994.0 977.0,1997.2 978.5,1999.2 979.8,2000.1 981.0,2000.3 982.8,1999.5 984.5,1997.9 986.5,1995.6 987.5,1993.6 988.8,1990.3 995.5,1969.3 997.0,1965.4 998.0,1963.8 1000.8,1961.0 1002.5,1959.8 1004.2,1959.3 1005.5,1959.7 1007.0,1961.0 1008.8,1963.2 1011.2,1967.1 1012.8,1970.7 1017.0,1983.0 1021.0,1992.0 1023.5,1996.2 1026.5,1999.9 1027.5,2000.8 1028.5,2001.3 1029.8,2001.3 1031.0,2000.9 1032.5,2000.1 1034.2,1998.7 1035.5,1997.2 1037.0,1993.7 1042.0,1977.8 1047.5,1957.2 1050.0,1945.8 1051.2,1941.4 1052.8,1938.5 1054.5,1936.0 1056.0,1934.6 1057.2,1934.3 1058.5,1934.9 1059.8,1936.2 1061.8,1939.2 1063.2,1941.8 1065.0,1946.7 1068.5,1958.4 1073.5,1972.5 1075.0,1976.1 1077.8,1981.8 1079.2,1984.6 1080.5,1986.5 1081.5,1987.5 1083.0,1988.4 1089.2,1990.5 1091.8,1991.8 1098.0,1996.8 1102.5,2000.9 1104.5,2002.3 1107.8,2004.0 1109.5,2004.7 1111.2,2004.9 1112.5,2004.3 1113.5,2003.5 1114.8,2002.1 1117.5,1998.0 1119.0,1994.3 1120.5,1989.2 1122.8,1979.6 1125.2,1967.3 1130.2,1931.9 1133.5,1912.3 1135.2,1903.3 1136.5,1898.6 1139.5,1890.9 1141.2,1887.9 1142.2,1887.0 1143.0,1886.8 1143.8,1887.2 1144.5,1888.0 1146.5,1891.8 1150.0,1900.5 1153.5,1913.0 1154.8,1916.6 1157.8,1922.7 1158.8,1924.1 1159.5,1924.8 1160.2,1924.9 1161.2,1924.5 1162.2,1923.6 1163.5,1921.9 1167.0,1916.3 1170.8,1908.4 1174.5,1902.6 1175.5,1901.7 1176.5,1901.7 1177.5,1902.4 1178.5,1903.9 1181.0,1909.4 1182.5,1913.4 1183.2,1916.0 1184.8,1922.9 1188.0,1940.4 1191.8,1957.8 1193.8,1966.3 1196.8,1977.2 1198.0,1981.1 1199.0,1983.3 1201.0,1985.7 1202.8,1987.2 1203.8,1987.6 1204.5,1987.7 1205.2,1987.4 1206.0,1986.8 1207.8,1984.4 1210.5,1979.1 1212.2,1974.4 1216.2,1960.5 1219.0,1953.8 1221.2,1949.3 1222.8,1947.2 1225.8,1944.2 1227.2,1943.5 1228.8,1943.5 1230.2,1944.2 1232.2,1945.6 1234.2,1947.5 1235.5,1949.2 1237.0,1952.2 1241.0,1961.3 1248.5,1976.4 1255.5,1989.5 1259.8,1996.3 1263.8,2001.6 1266.8,2004.6 1269.8,2006.8 1271.5,2007.7 1273.2,2008.1 1274.8,2007.7 1276.8,2006.3 1279.5,2003.5 1280.8,2001.7 1282.2,1998.7 1284.5,1992.9 1287.5,1984.2 1293.0,1963.1 1296.0,1954.1 1298.2,1948.7 1301.0,1943.5 1302.5,1941.4 1303.2,1941.0 1303.8,1941.0 1305.0,1941.6 1306.5,1943.3 1309.2,1947.7 1310.5,1950.4 1315.8,1966.5 1321.2,1985.6 1323.2,1990.9 1325.8,1996.6 1328.0,2000.5 1330.8,2003.4 1331.8,2004.3 1332.8,2004.8 1333.8,2004.9 1334.8,2004.7 1336.8,2003.6 1339.0,2001.8 1340.2,2000.5 1341.5,1998.5 1344.2,1991.9 1349.2,1977.1 1352.5,1965.0 1355.2,1952.9 1364.8,1897.7 1367.0,1886.5 1370.0,1876.8 1372.5,1869.9 1374.5,1866.2 1375.5,1865.1 1376.5,1864.7 1377.5,1865.0 1378.5,1865.7 1380.5,1868.5 1384.0,1876.0 1385.0,1879.3 1386.5,1886.6 1389.8,1906.0 1401.0,1968.2 1402.5,1974.7 1405.2,1984.4 1407.5,1991.0 1409.5,1995.8 1412.8,2001.8 1415.8,2006.0 1417.0,2007.2 1420.0,2009.6 1424.0,2012.1 1426.8,2013.0 1434.5,2014.0 1438.5,2014.2 1449.0,2014.2" fill="none" stroke="#000" stroke-width="2.3" stroke-linejoin="round"/>
<path d="M166.0,2253.2 167.2,2253.3 167.8,2253.7 168.5,2255.9 170.0,2261.7 170.5,2263.0 173.0,2266.9 174.0,2267.8 174.8,2268.1 176.0,2267.9 177.2,2267.3 181.5,2264.0 182.8,2262.7 185.8,2258.9 187.2,2257.6 191.5,2255.8 193.8,2255.5 195.8,2256.1 199.2,2258.4 200.5,2259.8 204.5,2265.1 207.8,2268.1 209.5,2269.4 211.5,2270.1 216.8,2270.6 219.2,2270.5 222.2,2269.4 228.0,2266.0 240.5,2255.4 242.0,2254.7 243.8,2254.6 248.2,2255.2 249.8,2256.1 251.2,2257.7 255.2,2262.6 259.8,2268.7 261.0,2269.7 264.2,2271.7 266.8,2272.8 269.0,2273.3 278.5,2273.1 280.0,2272.7 281.8,2271.8 284.5,2269.7 285.8,2268.4 287.8,2264.9 295.2,2249.5 298.5,2244.2 299.5,2243.2 300.5,2242.9 301.5,2243.2 302.8,2244.1 305.8,2247.4 307.0,2249.6 310.5,2257.2 314.5,2264.1 316.8,2266.9 320.2,2269.4 321.8,2270.1 323.0,2270.5 325.0,2270.4 327.2,2270.1 330.0,2269.4 331.0,2268.9 332.2,2267.7 333.8,2265.5 335.2,2262.6 336.8,2259.0 338.0,2254.0 339.5,2245.1 341.2,2232.2 342.5,2219.6 345.5,2183.2 348.0,2149.4 349.0,2138.5 350.5,2128.0 351.8,2120.7 352.8,2116.7 353.2,2115.6 353.8,2115.2 354.2,2115.4 355.0,2116.4 356.5,2120.8 358.2,2128.5 359.8,2136.8 366.8,2209.8 368.8,2225.1 371.0,2239.2 372.8,2247.3 375.2,2254.8 376.8,2258.4 378.0,2260.7 379.2,2262.5 380.5,2263.7 382.2,2265.1 384.5,2266.5 393.5,2271.1 396.0,2272.1 398.8,2272.6 406.5,2272.5 408.0,2271.9 409.5,2270.9 414.5,2266.2 416.0,2264.1 419.8,2257.8 421.2,2256.0 425.2,2253.1 426.5,2252.6 427.8,2252.4 428.8,2252.5 430.0,2253.1 434.2,2256.7 436.0,2258.8 440.0,2264.9 441.8,2266.9 442.8,2267.7 444.0,2268.0 446.2,2267.2 447.2,2266.5 449.0,2264.4 451.2,2261.0 453.2,2257.1 462.0,2236.1 463.5,2231.7 464.8,2227.3 466.2,2220.7 468.0,2210.6 471.0,2188.3 476.2,2155.4 478.8,2143.5 480.5,2138.3 481.0,2137.3 481.5,2136.9 482.0,2137.0 482.5,2137.4 484.0,2139.9 485.2,2144.2 487.8,2157.0 493.0,2188.5 496.0,2202.7 499.2,2214.4 500.8,2219.0 502.0,2222.0 504.2,2229.7 507.5,2239.8 510.8,2248.5 514.5,2256.2 516.0,2258.8 517.5,2260.4 518.2,2260.6 519.0,2260.4 520.0,2259.6 521.2,2257.8 522.5,2255.3 524.0,2251.6 525.0,2247.7 526.2,2239.4 530.8,2197.1 535.2,2142.7 539.0,2094.2 542.0,2064.1 543.2,2053.9 544.5,2046.8 546.8,2038.8 547.8,2036.8 548.5,2036.4 549.0,2036.6 549.8,2037.7 551.2,2041.7 553.0,2047.9 554.2,2054.9 558.0,2086.0 564.0,2146.7 566.0,2164.7 567.8,2177.4 569.8,2190.0 574.8,2216.9 576.5,2224.4 578.2,2230.2 580.5,2236.5 583.2,2242.8 586.0,2248.0 588.8,2252.3 593.5,2258.8 594.8,2260.0 595.8,2260.5 596.5,2260.6 597.0,2260.4 597.8,2259.7 598.5,2258.6 600.2,2255.0 602.2,2249.8 603.8,2243.3 606.5,2228.4 611.2,2204.7 614.0,2194.2 616.5,2186.6 617.8,2183.8 619.2,2181.4 620.8,2179.5 624.5,2175.5 626.5,2172.8 628.0,2169.8 631.2,2162.2 635.8,2153.1 637.5,2150.6 638.2,2150.0 639.0,2149.8 639.5,2150.0 640.0,2150.6 641.2,2153.2 643.8,2161.1 644.5,2164.1 645.8,2170.6 648.8,2189.2 653.5,2216.4 656.5,2230.5 659.2,2241.6 662.8,2252.4 665.5,2259.2 667.2,2262.1 669.8,2264.8 671.5,2266.3 672.8,2266.9 673.8,2267.1 674.8,2267.0 676.0,2266.6 677.8,2265.4 680.2,2263.1 681.0,2262.2 681.8,2260.9 683.8,2255.7 687.0,2244.8 690.8,2225.9 694.0,2214.8 695.0,2212.3 696.0,2210.4 700.5,2204.1 702.0,2202.8 703.0,2202.7 704.2,2203.4 709.0,2208.2 710.2,2210.6 713.2,2218.0 717.2,2225.3 719.0,2227.9 723.0,2232.2 724.2,2233.0 725.8,2233.3 727.5,2233.3 730.5,2232.9 731.8,2233.0 737.8,2234.8 739.0,2234.7 740.0,2233.9 741.2,2231.8 742.5,2228.8 745.8,2218.9 747.2,2211.5 751.0,2189.4 754.0,2175.2 755.5,2169.2 756.8,2165.6 758.8,2162.1 760.2,2160.1 761.0,2159.5 761.8,2159.3 762.5,2159.5 763.2,2160.1 764.8,2162.6 768.0,2170.4 769.2,2174.5 774.0,2195.3 781.8,2232.9 783.5,2239.7 785.5,2244.8 787.5,2248.5 789.2,2250.5 790.0,2250.3 790.8,2249.9 792.2,2248.1 794.5,2244.5 796.8,2239.1 800.2,2227.3 803.0,2215.0 805.0,2203.6 806.5,2192.4 809.8,2162.5 813.2,2126.9 815.5,2108.0 817.0,2097.1 819.8,2081.8 821.2,2075.6 822.0,2073.9 822.8,2073.0 824.0,2072.0 825.2,2071.5 825.8,2071.6 826.5,2072.3 827.8,2074.8 829.0,2077.9 830.2,2083.0 833.8,2103.5 837.0,2126.8 841.0,2153.5 843.5,2166.1 846.2,2177.5 848.8,2186.2 853.0,2199.7 864.8,2234.9 870.2,2250.3 871.8,2253.7 874.8,2259.7 877.2,2263.5 878.2,2264.5 880.2,2266.0 882.0,2267.0 883.5,2267.6 884.8,2267.7 886.2,2267.6 889.2,2266.5 891.2,2265.5 892.2,2264.8 893.8,2263.2 902.5,2251.9 904.0,2250.6 908.0,2247.9 909.8,2247.3 911.5,2247.3 919.2,2250.1 920.8,2250.4 921.8,2250.4 922.8,2249.4 923.8,2247.6 926.2,2241.2 928.0,2233.5 930.0,2221.3 931.2,2211.1 932.8,2195.6 935.0,2170.0 938.2,2128.3 941.5,2094.8 942.8,2086.3 944.8,2078.5 946.5,2073.5 947.5,2071.9 948.2,2071.5 949.0,2071.8 950.0,2073.0 951.8,2077.0 954.0,2084.6 955.0,2090.6 959.0,2127.0 966.0,2198.5 968.5,2219.0 970.2,2230.7 972.5,2240.7 973.8,2245.1 975.0,2248.7 976.2,2251.4 978.2,2254.6 979.8,2256.5 981.0,2257.4 982.2,2257.5 984.0,2256.7 986.0,2254.9 987.8,2252.9 989.8,2248.2 996.8,2226.4 998.2,2222.6 999.5,2220.8 1002.0,2218.2 1003.8,2217.1 1005.2,2216.6 1006.0,2216.7 1006.8,2217.0 1008.2,2218.3 1010.0,2220.6 1012.5,2224.5 1014.0,2228.1 1018.2,2240.4 1022.2,2249.4 1024.8,2253.6 1027.8,2257.2 1028.8,2258.1 1029.8,2258.6 1031.0,2258.6 1032.2,2258.2 1033.8,2257.3 1035.5,2255.9 1036.8,2254.2 1038.2,2250.6 1043.2,2233.8 1048.5,2212.3 1051.2,2198.9 1052.5,2194.1 1054.0,2190.9 1055.8,2188.1 1057.0,2186.9 1058.2,2186.5 1059.5,2187.1 1060.8,2188.6 1062.2,2191.1 1064.2,2195.2 1066.0,2200.6 1069.8,2214.4 1074.2,2228.1 1076.0,2232.6 1078.0,2236.9 1079.8,2240.3 1081.2,2242.6 1082.5,2243.9 1083.8,2244.6 1085.5,2245.0 1089.8,2245.6 1091.2,2246.1 1092.5,2246.8 1095.2,2249.1 1103.8,2257.9 1105.2,2259.2 1107.2,2260.4 1109.5,2261.6 1111.2,2262.1 1112.5,2262.1 1113.8,2261.6 1115.0,2260.5 1116.2,2259.0 1119.0,2254.7 1120.8,2249.8 1122.5,2243.3 1125.0,2232.1 1126.5,2224.4 1131.2,2191.0 1135.2,2168.1 1137.2,2159.7 1140.0,2153.1 1141.5,2150.2 1143.0,2148.3 1143.8,2147.8 1144.2,2147.7 1145.2,2148.1 1146.8,2149.8 1150.8,2156.4 1154.2,2164.4 1155.5,2166.6 1156.2,2167.4 1159.5,2169.8 1160.5,2170.1 1161.5,2169.8 1162.5,2168.8 1163.8,2166.9 1166.0,2161.7 1168.2,2154.7 1171.8,2140.0 1174.0,2132.1 1175.8,2127.6 1176.5,2126.6 1177.2,2126.3 1177.8,2126.5 1178.5,2127.5 1180.0,2131.6 1181.5,2137.8 1183.5,2147.7 1185.0,2157.2 1189.5,2191.0 1192.5,2209.2 1195.0,2222.0 1197.8,2233.1 1199.5,2238.8 1200.5,2240.9 1203.2,2243.9 1205.0,2244.9 1205.8,2245.0 1206.5,2244.7 1208.0,2243.2 1210.0,2239.9 1212.0,2236.0 1212.8,2234.2 1217.5,2218.4 1220.2,2212.2 1222.5,2208.0 1223.8,2206.3 1227.0,2203.4 1228.5,2202.6 1230.2,2202.8 1232.2,2203.7 1235.0,2205.6 1236.0,2206.6 1237.0,2208.1 1238.5,2210.9 1242.2,2219.1 1249.5,2233.4 1254.5,2242.8 1258.8,2250.3 1262.8,2256.1 1265.0,2259.0 1266.8,2260.9 1271.0,2264.1 1272.5,2264.9 1274.0,2265.4 1275.0,2265.3 1276.2,2264.9 1278.5,2263.1 1281.2,2260.0 1282.8,2257.3 1284.5,2253.0 1287.0,2245.6 1289.0,2239.0 1294.8,2213.6 1298.2,2201.1 1299.8,2196.8 1302.2,2191.1 1303.5,2189.2 1304.2,2188.7 1304.8,2188.7 1306.0,2189.6 1307.2,2191.5 1309.0,2195.2 1311.0,2200.2 1313.0,2207.0 1321.8,2240.2 1323.2,2244.9 1325.8,2251.2 1328.5,2256.8 1329.5,2258.2 1331.0,2259.8 1332.5,2261.2 1333.8,2262.0 1334.8,2262.2 1336.0,2262.0 1338.0,2260.9 1340.5,2258.8 1341.5,2257.8 1342.8,2255.7 1345.5,2249.1 1350.5,2234.2 1353.8,2222.1 1356.5,2209.8 1366.0,2154.1 1368.2,2142.8 1371.2,2132.9 1373.8,2126.1 1375.8,2122.3 1376.8,2121.3 1377.8,2120.9 1378.5,2121.1 1379.5,2121.8 1381.5,2124.6 1384.2,2130.3 1385.2,2132.7 1386.0,2135.2 1387.5,2142.3 1391.0,2163.3 1402.2,2225.8 1403.8,2232.2 1406.2,2241.0 1408.5,2247.8 1410.5,2252.7 1413.8,2258.8 1416.8,2263.1 1418.0,2264.4 1420.5,2266.4 1422.8,2268.0 1424.8,2269.1 1427.8,2270.2 1434.8,2271.2 1439.2,2271.5 1448.5,2271.5" fill="none" stroke="#ff0000" stroke-width="2.3" stroke-linejoin="round"/>
<path d="M166.0,2253.2 166.5,2253.6 167.0,2254.8 168.5,2260.6 169.2,2262.8 171.5,2266.4 172.5,2267.4 173.2,2267.9 174.2,2267.8 175.2,2267.4 176.5,2266.5 178.0,2265.1 181.0,2261.9 184.5,2256.5 186.0,2254.7 189.5,2252.7 190.8,2252.3 192.0,2252.2 193.0,2252.4 194.2,2253.1 197.8,2256.2 199.0,2257.9 203.2,2264.5 207.8,2268.9 209.0,2269.7 210.0,2270.0 216.8,2270.5 218.5,2270.2 220.2,2269.5 226.2,2265.6 228.2,2263.8 237.8,2254.3 239.5,2252.9 241.2,2252.2 243.8,2252.4 247.0,2253.3 248.5,2254.3 250.5,2256.7 258.5,2268.1 259.8,2269.3 262.5,2271.1 265.2,2272.6 267.5,2273.2 277.2,2273.1 278.8,2272.7 280.5,2271.8 283.2,2269.7 284.5,2268.4 286.5,2265.0 294.0,2249.6 297.2,2244.3 298.2,2243.2 299.2,2242.9 300.2,2243.2 301.2,2243.8 304.5,2247.3 305.8,2249.5 309.0,2256.7 311.5,2261.1 313.8,2264.8 315.8,2267.1 319.2,2269.5 321.8,2270.4 323.8,2270.4 326.2,2270.1 329.0,2269.4 330.0,2268.8 331.2,2267.5 332.5,2265.7 334.0,2262.8 335.5,2259.3 337.0,2253.3 338.5,2244.2 340.0,2233.3 341.2,2221.0 347.8,2141.0 349.2,2130.5 350.8,2122.1 351.8,2118.5 352.2,2117.6 352.8,2117.4 353.2,2117.7 354.0,2118.9 355.2,2122.5 357.0,2129.8 358.5,2137.7 359.5,2146.6 362.0,2174.7 365.5,2209.6 367.2,2223.2 369.8,2239.0 371.5,2247.2 374.2,2255.3 375.8,2258.8 377.0,2261.0 378.0,2262.4 379.5,2263.9 381.2,2265.2 383.2,2266.4 392.2,2271.0 394.8,2272.1 397.5,2272.6 404.5,2272.6 405.5,2272.5 407.0,2271.8 408.5,2270.7 413.5,2265.6 415.0,2263.3 418.5,2257.0 420.2,2254.6 424.2,2251.4 425.5,2250.8 426.8,2250.7 427.8,2250.9 429.0,2251.7 433.0,2255.6 442.2,2268.7 443.8,2270.4 445.0,2271.4 447.8,2272.5 450.2,2273.3 452.5,2273.7 454.5,2273.7 456.0,2273.4 457.5,2272.7 459.2,2271.5 460.8,2270.1 461.5,2268.8 462.2,2267.0 463.8,2261.9 466.0,2252.4 467.2,2245.1 470.8,2217.9 476.8,2162.6 478.0,2153.1 478.8,2149.7 480.8,2144.3 482.0,2142.1 482.8,2141.4 483.2,2141.2 483.8,2141.3 484.2,2141.8 485.5,2144.5 489.0,2157.3 490.8,2166.5 497.5,2207.9 499.5,2217.0 501.8,2225.4 506.5,2240.4 510.0,2249.6 513.5,2256.6 515.0,2259.1 515.8,2260.0 516.5,2260.5 517.0,2260.6 517.8,2260.4 519.0,2259.3 520.2,2257.4 523.0,2251.1 524.0,2246.6 525.0,2239.8 528.5,2208.0 529.8,2194.9 534.0,2143.3 537.8,2094.8 540.8,2064.5 542.0,2054.2 543.2,2047.0 545.5,2038.9 546.5,2036.8 547.2,2036.4 547.8,2036.6 548.5,2037.6 550.0,2041.5 551.8,2047.6 553.0,2054.6 557.0,2087.9 562.8,2146.2 564.8,2164.3 566.5,2177.0 568.5,2189.7 573.5,2216.7 575.2,2224.2 577.0,2230.1 579.2,2236.4 581.8,2242.1 584.5,2247.5 587.2,2251.9 592.2,2258.7 593.5,2260.0 594.5,2260.5 595.2,2260.6 595.8,2260.4 596.5,2259.7 597.2,2258.7 599.2,2254.5 601.2,2249.1 602.5,2243.6 605.5,2227.4 610.2,2203.8 613.0,2193.5 615.2,2186.7 616.5,2183.9 618.0,2181.4 619.5,2179.6 623.2,2175.6 625.2,2172.9 626.8,2169.9 630.0,2162.3 634.5,2153.2 636.2,2150.6 637.0,2150.0 637.8,2149.8 638.2,2150.0 638.8,2150.5 640.0,2153.1 641.5,2157.6 643.2,2163.9 644.5,2170.3 647.5,2188.9 652.5,2217.5 655.5,2231.4 658.2,2242.3 661.8,2253.0 664.5,2259.6 666.2,2262.4 668.5,2264.8 670.2,2266.2 671.8,2266.9 673.0,2267.1 674.5,2266.6 676.0,2265.6 677.8,2264.0 679.5,2261.9 680.5,2259.9 681.5,2257.2 683.5,2250.0 686.0,2239.0 689.8,2213.9 693.8,2192.7 695.0,2187.9 696.8,2182.9 698.2,2179.1 699.5,2176.9 700.5,2176.1 701.0,2176.1 701.5,2176.4 702.5,2177.8 703.8,2180.7 707.8,2193.0 711.2,2207.9 712.5,2212.5 715.2,2220.3 717.5,2225.0 720.2,2228.4 722.5,2230.1 724.0,2230.5 729.2,2231.2 731.0,2231.9 735.2,2234.2 736.8,2234.7 737.8,2234.7 739.0,2233.6 740.5,2230.7 742.5,2225.4 744.5,2219.1 746.0,2211.8 749.8,2189.7 753.0,2174.4 754.5,2168.5 755.5,2165.7 757.8,2161.8 759.2,2159.9 760.5,2159.3 761.2,2159.4 762.0,2160.1 763.5,2162.5 766.8,2170.3 768.0,2174.3 772.8,2195.1 780.5,2232.6 782.2,2239.5 784.2,2244.7 786.2,2248.4 788.0,2250.4 788.8,2250.4 789.5,2249.9 791.0,2248.1 793.2,2244.6 795.5,2239.2 799.0,2227.5 801.8,2215.3 803.8,2203.9 805.2,2192.8 808.5,2163.0 812.0,2127.4 814.2,2108.4 816.0,2095.9 818.5,2082.0 820.0,2075.8 820.8,2074.0 821.5,2073.1 823.0,2071.9 824.2,2071.5 824.8,2071.7 825.5,2072.6 827.5,2077.0 828.2,2079.5 829.2,2084.0 832.5,2103.1 835.8,2126.5 839.8,2153.2 842.0,2164.7 844.8,2176.3 847.2,2185.2 851.5,2198.7 863.2,2234.0 869.0,2250.1 870.5,2253.6 873.5,2259.6 876.0,2263.5 877.0,2264.5 878.8,2265.8 880.5,2266.9 882.0,2267.5 883.5,2267.7 885.0,2267.6 888.0,2266.5 890.0,2265.6 891.0,2264.8 892.5,2263.2 895.8,2258.9 901.5,2251.7 904.2,2249.5 907.0,2247.9 908.8,2247.3 910.2,2247.3 918.2,2250.2 920.0,2250.5 920.8,2250.3 921.8,2249.1 922.8,2247.2 924.5,2242.9 925.2,2240.5 926.8,2233.7 928.8,2221.6 930.0,2211.6 931.5,2196.2 933.8,2170.6 937.0,2128.9 940.5,2093.1 941.5,2086.5 944.0,2077.0 945.0,2074.2 945.8,2072.7 946.5,2071.8 947.2,2071.5 948.0,2071.9 948.8,2072.9 950.5,2076.9 952.8,2084.3 953.8,2090.3 958.0,2129.0 964.8,2198.0 967.2,2218.6 969.0,2230.5 971.2,2240.5 972.5,2245.0 973.8,2248.6 975.0,2251.3 977.0,2254.5 978.5,2256.5 979.8,2257.4 981.0,2257.6 982.8,2256.8 984.5,2255.2 986.5,2252.9 987.5,2250.9 988.8,2247.6 995.5,2226.6 997.0,2222.7 998.0,2221.1 1000.8,2218.3 1002.5,2217.1 1004.2,2216.6 1005.5,2217.0 1007.0,2218.3 1008.8,2220.5 1011.2,2224.4 1012.8,2228.0 1017.0,2240.3 1021.0,2249.3 1023.5,2253.5 1026.5,2257.2 1027.5,2258.1 1028.5,2258.6 1029.8,2258.6 1031.0,2258.2 1032.5,2257.4 1034.2,2256.0 1035.5,2254.5 1037.0,2251.0 1042.0,2235.1 1047.5,2214.5 1050.0,2203.1 1051.2,2198.7 1052.8,2195.8 1054.5,2193.3 1056.0,2191.9 1057.2,2191.6 1058.5,2192.2 1059.8,2193.5 1061.8,2196.5 1063.2,2199.1 1065.0,2204.0 1068.5,2215.7 1073.5,2229.8 1075.0,2233.4 1077.8,2239.1 1079.2,2241.9 1080.5,2243.8 1081.5,2244.8 1083.0,2245.7 1089.2,2247.8 1091.8,2249.1 1098.0,2254.1 1102.5,2258.2 1104.5,2259.6 1107.8,2261.3 1109.5,2262.0 1111.2,2262.2 1112.5,2261.6 1113.5,2260.8 1114.8,2259.4 1117.5,2255.3 1119.0,2251.6 1120.5,2246.5 1122.8,2236.9 1125.2,2224.6 1130.2,2189.2 1133.5,2169.6 1135.2,2160.6 1136.5,2155.9 1139.5,2148.2 1141.2,2145.2 1142.2,2144.3 1143.0,2144.1 1143.8,2144.5 1144.5,2145.3 1146.5,2149.1 1150.0,2157.8 1153.5,2170.3 1154.8,2173.9 1157.8,2180.0 1158.8,2181.4 1159.5,2182.1 1160.2,2182.2 1161.2,2181.8 1162.2,2180.9 1163.5,2179.2 1167.0,2173.6 1170.8,2165.7 1174.5,2159.9 1175.5,2159.0 1176.5,2159.0 1177.5,2159.7 1178.5,2161.2 1181.0,2166.7 1182.5,2170.7 1183.2,2173.3 1184.8,2180.2 1188.0,2197.7 1191.8,2215.1 1193.8,2223.6 1196.8,2234.5 1198.0,2238.4 1199.0,2240.6 1201.0,2243.0 1202.8,2244.5 1203.8,2244.9 1204.5,2245.0 1205.2,2244.7 1206.0,2244.1 1207.8,2241.7 1210.5,2236.4 1212.2,2231.7 1216.2,2217.8 1219.0,2211.1 1221.2,2206.6 1222.8,2204.5 1225.8,2201.5 1227.2,2200.8 1228.8,2200.8 1230.2,2201.5 1232.2,2202.9 1234.2,2204.8 1235.5,2206.5 1237.0,2209.5 1241.0,2218.6 1248.5,2233.7 1255.5,2246.8 1259.8,2253.6 1263.8,2258.9 1266.8,2261.9 1269.8,2264.1 1271.5,2265.0 1273.2,2265.4 1274.8,2265.0 1276.8,2263.6 1279.5,2260.8 1280.8,2259.0 1282.2,2256.0 1284.5,2250.2 1287.5,2241.5 1293.0,2220.4 1296.0,2211.4 1298.2,2206.0 1301.0,2200.8 1302.5,2198.7 1303.2,2198.3 1303.8,2198.3 1305.0,2198.9 1306.5,2200.6 1309.2,2205.0 1310.5,2207.7 1315.8,2223.8 1321.2,2242.9 1323.2,2248.2 1325.8,2253.9 1328.0,2257.8 1330.8,2260.7 1331.8,2261.6 1332.8,2262.1 1333.8,2262.2 1334.8,2262.0 1336.8,2260.9 1339.0,2259.1 1340.2,2257.8 1341.5,2255.8 1344.2,2249.2 1349.2,2234.4 1352.5,2222.3 1355.2,2210.2 1364.8,2155.0 1367.0,2143.8 1370.0,2134.1 1372.5,2127.2 1374.5,2123.5 1375.5,2122.4 1376.5,2122.0 1377.5,2122.3 1378.5,2123.0 1380.5,2125.8 1384.0,2133.3 1385.0,2136.6 1386.5,2143.9 1389.8,2163.3 1401.0,2225.5 1402.5,2232.0 1405.2,2241.7 1407.5,2248.3 1409.5,2253.1 1412.8,2259.1 1415.8,2263.3 1417.0,2264.5 1419.8,2266.8 1423.8,2269.2 1426.8,2270.3 1434.0,2271.3 1438.2,2271.5 1448.5,2271.5" fill="none" stroke="#000" stroke-width="2.3" stroke-linejoin="round"/>
<text transform="translate(174.20,927.60) scale(1,0.87)" font-family="Liberation Mono" font-weight="bold" font-size="21.39" fill="#0000cc">VCCAACAVCAVCAG</text>
<text transform="translate(225.14,947.50) scale(1,0.87)" font-family="Liberation Mono" font-weight="bold" font-size="21.49" fill="#000">CAVCAACAVCACCCG</text>
<text transform="translate(167.00,1040.90) scale(1,0.87)" font-family="Liberation Mono" font-weight="bold" font-size="21.45" fill="#000">VCVACVACCACAAG</text>
<text transform="translate(523.50,928.80) scale(1,0.87)" font-family="Liberation Mono" font-weight="bold" font-size="21.39" fill="#000">ACCCCVCCVAVCAAG</text>
<text transform="translate(408.90,966.00) scale(1,0.87)" font-family="Liberation Mono" font-weight="bold" font-size="21.36" fill="#000">ACVACAACVACAAG, CVAVACVAACCCCAG,</text>
<text transform="translate(408.04,991.60) scale(1,0.87)" font-family="Liberation Mono" font-weight="bold" font-size="21.40" fill="#000">CVCCCACCVCCACCVG</text>
<text transform="translate(773.35,956.70) scale(1,0.87)" font-family="Liberation Mono" font-weight="bold" font-size="21.35" fill="#000">CCCCACVCACCACCVCVG</text>
<text transform="translate(756.80,983.50) scale(1,0.87)" font-family="Liberation Mono" font-weight="bold" font-size="21.41" fill="#000">AACVVCAACVVCAACG</text>
<text transform="translate(713.75,1008.50) scale(1,0.87)" font-family="Liberation Mono" font-weight="bold" font-size="21.35" fill="#339933">CAACVACAAVVACCVG</text>
<text transform="translate(864.65,937.50) scale(1,0.87)" font-family="Liberation Mono" font-weight="bold" font-size="21.35" fill="#0000cc">CACACCCCVAVCAACCVCG</text>
<text transform="translate(976.95,898.40) scale(1,0.87)" font-family="Liberation Mono" font-weight="bold" font-size="21.37" fill="#000">CCVACVCCAACAACVCVAVCG</text>
<text transform="translate(1071.60,919.70) scale(1,0.87)" font-family="Liberation Mono" font-weight="bold" font-size="21.28" fill="#000">VVCCCCAAVAVCACCAAVCVG</text>
<text transform="translate(609.64,1303.40) scale(1,0.87)" font-family="Liberation Mono" font-weight="bold" font-size="21.50" fill="#d4a010">CAACVACAAVVACAG</text>
<text transform="translate(574.04,1548.20) scale(1,0.87)" font-family="Liberation Mono" font-weight="bold" font-size="21.44" fill="#ff0000">CACACCCCVAVCAVCG</text>
<text transform="translate(942.44,1489.30) scale(1,0.87)" font-family="Liberation Mono" font-weight="bold" font-size="21.47" fill="#ff0000">CCCCCVVCVVCACCVVCAAG</text>
<text transform="translate(362.00,2102.00) scale(1,0.87)" font-family="Liberation Mono" font-weight="bold" font-size="27.42" fill="#d4a010">CCVVG</text>
<text transform="translate(644.60,2099.70) scale(1,0.87)" font-family="Liberation Mono" font-weight="bold" font-size="27.39" fill="#0000cc">VVCCG</text>
<text transform="translate(1129.30,2054.10) scale(1,0.87)" font-family="Liberation Mono" font-weight="bold" font-size="27.15" fill="#0000cc">ACCAG</text>
<text transform="translate(364.90,2134.00)" font-family="Liberation Mono" font-weight="bold" font-size="25.30" fill="#000">(<tspan fill="#ff0000">1</tspan>,0)</text>
<text transform="translate(645.65,2133.00)" font-family="Liberation Mono" font-weight="bold" font-size="26.20" fill="#000">(<tspan fill="#ff0000">1</tspan>,2)</text>
<text transform="translate(1130.87,2087.80)" font-family="Liberation Mono" font-weight="bold" font-size="26.05" fill="#000">(<tspan fill="#ff0000">5</tspan>,4)</text>
<line x1="178.5" y1="1044.6" x2="197.9" y2="1085.1" stroke="#000" stroke-width="1.3" stroke-dasharray="4.8,1.4"/>
<line x1="215.3" y1="932.4" x2="213.9" y2="1078.3" stroke="#000" stroke-width="1.3" stroke-dasharray="4.8,1.4"/>
<line x1="330.2" y1="953.1" x2="491.2" y2="1079.2" stroke="#000" stroke-width="1.3" stroke-dasharray="4.8,1.4"/>
<line x1="540.5" y1="1021.8" x2="538.9" y2="1036.1" stroke="#000" stroke-width="1.3" stroke-dasharray="4.8,1.4"/>
<line x1="660.2" y1="934.5" x2="590.9" y2="1081.9" stroke="#000" stroke-width="1.3" stroke-dasharray="4.8,1.4"/>
<line x1="859.4" y1="1013.4" x2="859.2" y2="1031.9" stroke="#000" stroke-width="1.3" stroke-dasharray="4.8,1.4"/>
<line x1="903.1" y1="989.4" x2="935.7" y2="1061.0" stroke="#000" stroke-width="1.3" stroke-dasharray="4.8,1.4"/>
<line x1="937.9" y1="962.4" x2="965.6" y2="1059.4" stroke="#000" stroke-width="1.3" stroke-dasharray="4.8,1.4"/>
<line x1="1112.9" y1="937.5" x2="1131.8" y2="963.7" stroke="#000" stroke-width="1.3" stroke-dasharray="4.8,1.4"/>
<line x1="1174.0" y1="898.0" x2="1311.6" y2="977.0" stroke="#000" stroke-width="1.3" stroke-dasharray="4.8,1.4"/>
<line x1="1320.8" y1="923.1" x2="1344.8" y2="929.0" stroke="#000" stroke-width="1.3" stroke-dasharray="4.8,1.4"/>
<line x1="747.6" y1="1304.2" x2="752.1" y2="1320.1" stroke="#000" stroke-width="1.3" stroke-dasharray="4.8,1.4"/>
<line x1="725.4" y1="1550.1" x2="735.4" y2="1577.9" stroke="#000" stroke-width="1.3" stroke-dasharray="4.8,1.4"/>
<line x1="1163.8" y1="1492.6" x2="1190.5" y2="1509.3" stroke="#000" stroke-width="1.3" stroke-dasharray="4.8,1.4"/>
<line x1="419.5" y1="2144.0" x2="449.1" y2="2235.0" stroke="#000" stroke-width="1.3" stroke-dasharray="4.8,1.4"/>
<line x1="702.0" y1="2142.3" x2="696.5" y2="2168.3" stroke="#000" stroke-width="1.3" stroke-dasharray="4.8,1.4"/>
<line x1="1187.9" y1="2096.0" x2="1177.5" y2="2120.1" stroke="#000" stroke-width="1.3" stroke-dasharray="4.8,1.4"/>
</svg></body></html>
